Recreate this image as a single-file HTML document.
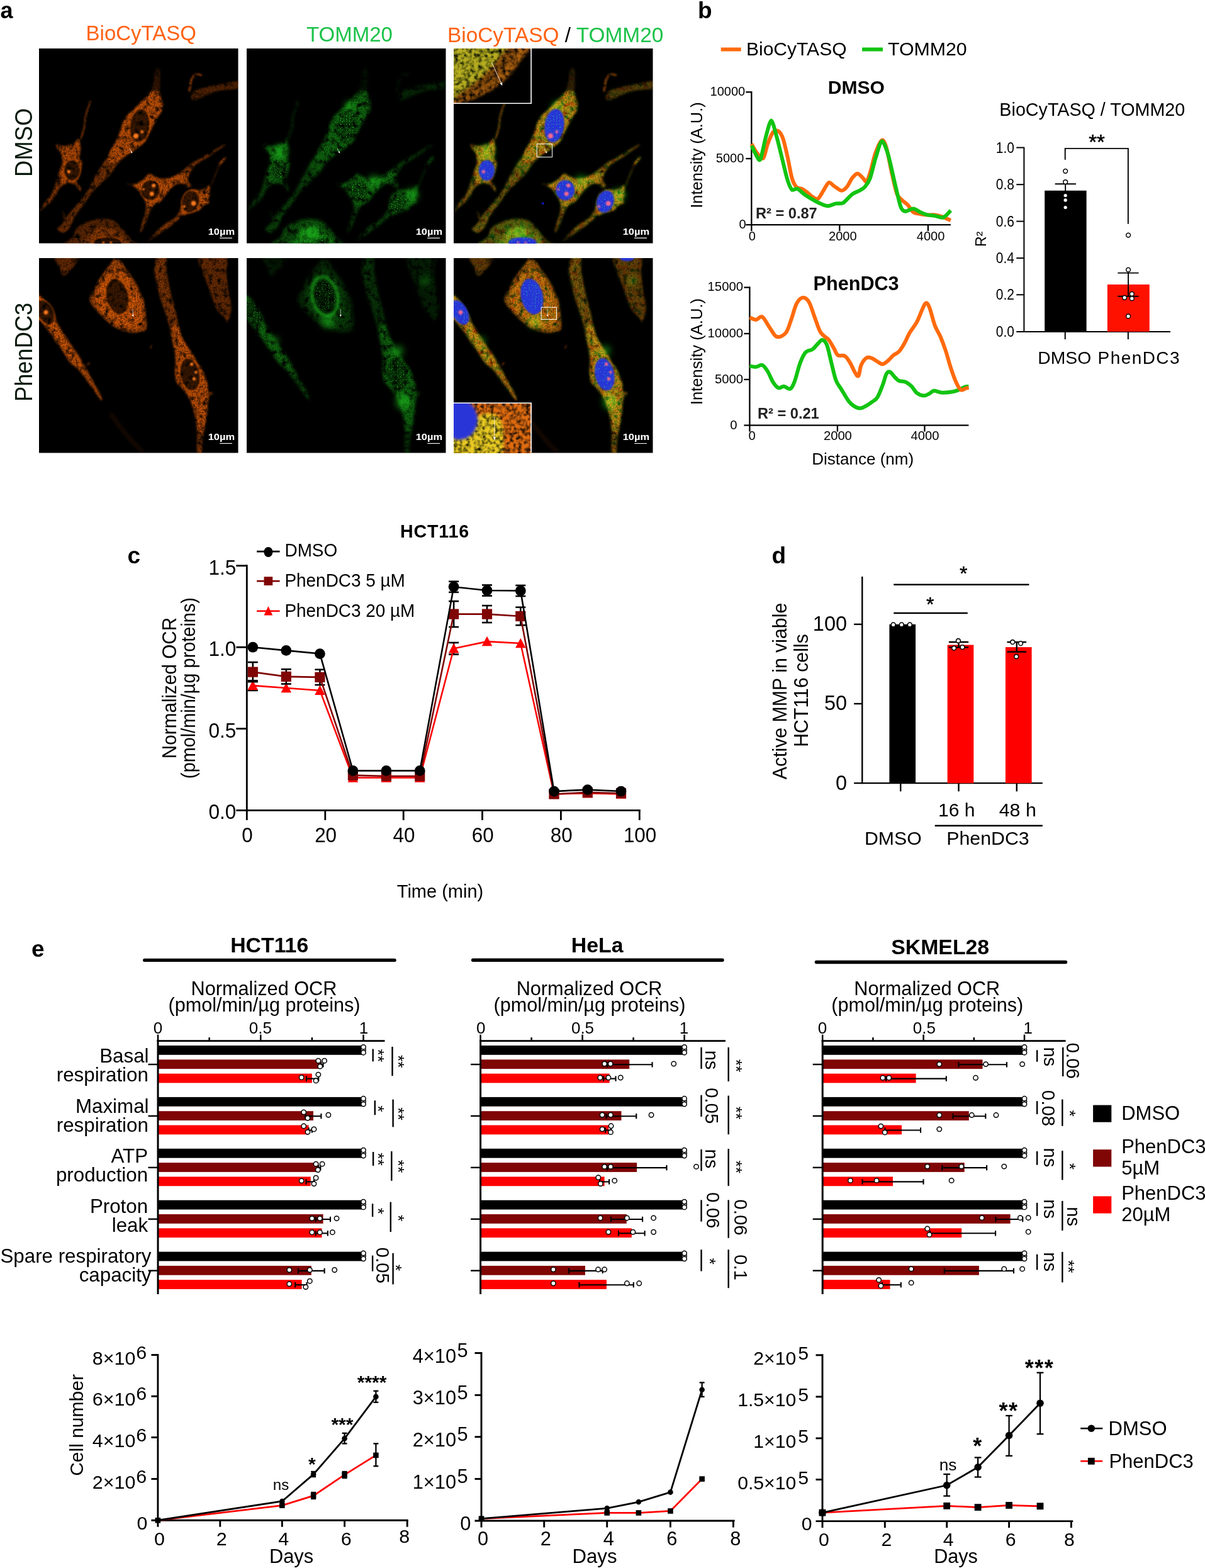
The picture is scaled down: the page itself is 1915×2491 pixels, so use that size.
<!DOCTYPE html>
<html lang="en"><head><meta charset="utf-8"><title>Figure</title>
<style>
html,body{margin:0;padding:0;background:#fff}
body{width:1915px;height:2491px;overflow:hidden}
svg{display:block}
svg text{font-family:"Liberation Sans", sans-serif;}
</style></head><body>
<svg width="1915" height="2491" viewBox="0 0 1915 2491">
<defs>
<filter id="texO" x="-2%" y="-2%" width="104%" height="104%" color-interpolation-filters="sRGB">
 <feGaussianBlur in="SourceGraphic" stdDeviation="9" result="b"/>
 <feTurbulence type="fractalNoise" baseFrequency="0.1" numOctaves="2" seed="4" result="n1"/>
 <feColorMatrix in="n1" type="matrix" values="0 0 0 0 1 0 0 0 0 1 0 0 0 0 1 0 0 0 1.7 0.02" result="m1"/>
 <feTurbulence type="fractalNoise" baseFrequency="0.026" numOctaves="2" seed="9" result="n2"/>
 <feColorMatrix in="n2" type="matrix" values="0 0 0 0 1 0 0 0 0 1 0 0 0 0 1 0 0 0 2.6 -0.35" result="m2"/>
 <feComposite in="b" in2="m1" operator="in" result="c1"/>
 <feComposite in="c1" in2="m2" operator="in"/>
</filter>
<filter id="texG" x="-2%" y="-2%" width="104%" height="104%" color-interpolation-filters="sRGB">
 <feGaussianBlur in="SourceGraphic" stdDeviation="11" result="b"/>
 <feTurbulence type="fractalNoise" baseFrequency="0.13" numOctaves="2" seed="11" result="n1"/>
 <feColorMatrix in="n1" type="matrix" values="0 0 0 0 1 0 0 0 0 1 0 0 0 0 1 0 0 0 2.0 -0.15" result="m1"/>
 <feTurbulence type="fractalNoise" baseFrequency="0.024" numOctaves="2" seed="23" result="n2"/>
 <feColorMatrix in="n2" type="matrix" values="0 0 0 0 1 0 0 0 0 1 0 0 0 0 1 0 0 0 2.8 -0.5" result="m2"/>
 <feComposite in="b" in2="m1" operator="in" result="c1"/>
 <feComposite in="c1" in2="m2" operator="in"/>
</filter>
<filter id="spk" x="0" y="0" width="100%" height="100%" color-interpolation-filters="sRGB">
 <feTurbulence type="fractalNoise" baseFrequency="0.16" numOctaves="1" seed="31" result="n1"/>
 <feColorMatrix in="n1" type="matrix" values="0 0 0 0 1 0 0 0 0 1 0 0 0 0 1 0 0 0 9 -5.7" result="m1"/>
 <feComposite in="SourceGraphic" in2="m1" operator="in"/>
</filter>
<filter id="texI" x="-2%" y="-2%" width="104%" height="104%" color-interpolation-filters="sRGB">
 <feGaussianBlur in="SourceGraphic" stdDeviation="12" result="b"/>
 <feTurbulence type="fractalNoise" baseFrequency="0.032" numOctaves="2" seed="17" result="n1"/>
 <feColorMatrix in="n1" type="matrix" values="0 0 0 0 1 0 0 0 0 1 0 0 0 0 1 0 0 0 2.2 -0.35" result="m1"/>
 <feComposite in="b" in2="m1" operator="in"/>
</filter>
<filter id="bl4" x="-20%" y="-20%" width="140%" height="140%"><feGaussianBlur stdDeviation="4"/></filter>
<filter id="bl10" x="-20%" y="-20%" width="140%" height="140%"><feGaussianBlur stdDeviation="10"/></filter>
<filter id="bl25" x="-30%" y="-30%" width="160%" height="160%"><feGaussianBlur stdDeviation="25"/></filter>
</defs>
<rect width="1915" height="2491" fill="#fff"/>
<g id="panel-a"><text x="0.5" y="29.3" font-size="36" font-weight="bold">a</text>
<text x="224.3" y="64.2" font-size="33" text-anchor="middle" fill="#ff6314">BioCyTASQ</text>
<text x="555.5" y="65.5" font-size="33" text-anchor="middle" fill="#1cc24a">TOMM20</text>
<text x="711" y="66.5" font-size="33.4" fill="#ff6314">BioCyTASQ<tspan fill="#000"> / </tspan><tspan fill="#1cc24a">TOMM20</tspan></text>
<text transform="translate(51 226.3) rotate(-90) scale(1 1.06)" font-size="36.4" text-anchor="middle" fill="#07190b">DMSO</text>
<text transform="translate(51 559.4) rotate(-90) scale(1 1.06)" font-size="36.3" text-anchor="middle" fill="#07190b">PhenDC3</text>
<svg x="62" y="77" width="316.5" height="309.5" viewBox="60 85 1563 1528" preserveAspectRatio="none">
<rect x="0" y="0" width="1700" height="1700" fill="#000"/>
<g filter="url(#texO)" fill="#ff6a08" stroke="#ff6a08" stroke-linejoin="round" stroke-linecap="round">
<path d="M975 250 C982.17 236.33 998.83 234.67 1005 248 C1011.17 261.33 1012.5 300.5 1012 330 C1011.5 359.5 1013.17 409.17 1002 425 C990.83 440.83 951.67 440.83 945 425 C938.33 409.17 957 359.17 962 330 C967 300.83 967.83 263.67 975 250 Z" fill-opacity="0.2" stroke="none"/>
<path d="M1000 424 C1013 432.33 1012.67 457.33 1018 474 C1023.33 490.67 1030.83 507.33 1032 524 C1033.17 540.67 1031.67 557.33 1025 574 C1018.33 590.67 1002 607.33 992 624 C982 640.67 973.67 657.33 965 674 C956.33 690.67 948.33 707.33 940 724 C931.67 740.67 923.5 757.83 915 774 C906.5 790.17 908.33 801.5 889 821 C869.67 840.5 830.67 866.83 799 891 C767.33 915.17 728.17 936.83 699 966 C669.83 995.17 649 1036.83 624 1066 C599 1095.17 574 1116 549 1141 C524 1166 494.83 1191 474 1216 C453.17 1241 444.83 1261.83 424 1291 C403.17 1320.17 369.83 1357.67 349 1391 C328.17 1424.33 315.5 1467.83 299 1491 C282.5 1514.17 265.83 1528.33 250 1530 C234.17 1531.67 205.83 1511.67 204 1501 C202.17 1490.33 224.83 1484.33 239 1466 C253.17 1447.67 266.5 1420.17 289 1391 C311.5 1361.83 347.33 1324.33 374 1291 C400.67 1257.67 428.17 1224.33 449 1191 C469.83 1157.67 475.67 1132.67 499 1091 C522.33 1049.33 559.83 991 589 941 C618.17 891 655.5 827.83 674 791 C692.5 754.17 691.5 743.5 700 720 C708.5 696.5 715 670 725 650 C735 630 749.17 612.67 760 600 C770.83 587.33 776.67 586.67 790 574 C803.33 561.33 823.33 540.67 840 524 C856.67 507.33 873.33 490.67 890 474 C906.67 457.33 921.67 432.33 940 424 C958.33 415.67 987 415.67 1000 424 Z" fill-opacity="0.45" stroke="none"/>
<path d="M1000 424 C1013 432.33 1012.67 457.33 1018 474 C1023.33 490.67 1030.83 507.33 1032 524 C1033.17 540.67 1031.67 557.33 1025 574 C1018.33 590.67 1002 607.33 992 624 C982 640.67 973.67 657.33 965 674 C956.33 690.67 948.33 707.33 940 724 C931.67 740.67 923.5 757.83 915 774 C906.5 790.17 908.33 801.5 889 821 C869.67 840.5 827.17 871.17 799 891 C770.83 910.83 746.5 923.5 720 940 C693.5 956.5 660 991.67 640 990 C620 988.33 594.33 963.17 600 930 C605.67 896.83 657.33 826 674 791 C690.67 756 691.5 743.5 700 720 C708.5 696.5 715 670 725 650 C735 630 749.17 612.67 760 600 C770.83 587.33 776.67 586.67 790 574 C803.33 561.33 823.33 540.67 840 524 C856.67 507.33 873.33 490.67 890 474 C906.67 457.33 921.67 432.33 940 424 C958.33 415.67 987 415.67 1000 424 Z" fill-opacity="0.5" stroke="none"/>
<path d="M194 836 C200 832.5 226.67 848.33 240 850 C253.33 851.67 260.67 848.5 274 846 C287.33 843.5 306.5 841.83 320 835 C333.5 828.17 346.33 812.5 355 805 C363.67 797.5 366.33 779.83 372 790 C377.67 800.17 387.83 840.83 389 866 C390.17 891.17 377.33 921.83 379 941 C380.67 960.17 397.33 964.33 399 981 C400.67 997.67 394 1021 389 1041 C384 1061 374 1086 369 1101 C364 1116 355.67 1117.67 359 1131 C362.33 1144.33 384.83 1168.5 389 1181 C393.17 1193.5 388.83 1207 384 1206 C379.17 1205 367.5 1184.17 360 1175 C352.5 1165.83 350.83 1156.67 339 1151 C327.17 1145.33 304 1140.17 289 1141 C274 1141.83 261.5 1147.67 249 1156 C236.5 1164.33 224 1176.83 214 1191 C204 1205.17 199.83 1224.33 189 1241 C178.17 1257.67 164 1276 149 1291 C134 1306 112.33 1318.5 99 1331 C85.67 1343.5 69 1371 69 1366 C69 1361 85.67 1321.83 99 1301 C112.33 1280.17 135.67 1261 149 1241 C162.33 1221 170.67 1201.83 179 1181 C187.33 1160.17 192.33 1137.67 199 1116 C205.67 1094.33 212.33 1071.83 219 1051 C225.67 1030.17 235.67 1009.33 239 991 C242.33 972.67 240.67 956 239 941 C237.33 926 234.83 912.67 229 901 C223.17 889.33 209.83 881.83 204 871 C198.17 860.17 188 839.5 194 836 Z" fill-opacity="0.5" stroke="none"/>
<path d="M210 850 C216.5 842.5 255.67 856.83 274 856 C292.33 855.17 304.83 852.67 320 845 C335.17 837.33 354.67 806.5 365 810 C375.33 813.5 380.83 844.17 382 866 C383.17 887.83 370.33 921.83 372 941 C373.67 960.17 390.33 964.33 392 981 C393.67 997.67 387 1021 382 1041 C377 1061 367 1086 362 1101 C357 1116 364.17 1125.33 352 1131 C339.83 1136.67 306.83 1132.5 289 1135 C271.17 1137.5 255.67 1160 245 1146 C234.33 1132 225 1076.83 225 1051 C225 1025.17 241.67 1009.33 245 991 C248.33 972.67 246.67 956 245 941 C243.33 926 240.83 916.17 235 901 C229.17 885.83 203.5 857.5 210 850 Z" fill-opacity="0.38" stroke="none"/>
<path d="M745 1140 C740.83 1135.83 772.5 1151.67 790 1150 C807.5 1148.33 833.33 1138.33 850 1130 C866.67 1121.67 877.5 1110.67 890 1100 C902.5 1089.33 912.5 1068.5 925 1066 C937.5 1063.5 950 1078.5 965 1085 C980 1091.5 997.5 1102.5 1015 1105 C1032.5 1107.5 1050.83 1104.17 1070 1100 C1089.17 1095.83 1110 1090 1130 1080 C1150 1070 1171.67 1053.33 1190 1040 C1208.33 1026.67 1223.33 1012.5 1240 1000 C1256.67 987.5 1273.33 975 1290 965 C1306.67 955 1323.33 949.17 1340 940 C1356.67 930.83 1373.33 920 1390 910 C1406.67 900 1423.33 890 1440 880 C1456.67 870 1475.83 857 1490 850 C1504.17 843 1525 835.5 1525 838 C1525 840.5 1504.17 854.67 1490 865 C1475.83 875.33 1456.67 888.33 1440 900 C1423.33 911.67 1406.67 924.17 1390 935 C1373.33 945.83 1356.67 954.17 1340 965 C1323.33 975.83 1302.5 989.17 1290 1000 C1277.5 1010.83 1273.33 1018.33 1265 1030 C1256.67 1041.67 1245.83 1056.67 1240 1070 C1234.17 1083.33 1230 1098.33 1230 1110 C1230 1121.67 1234.67 1129.67 1240 1140 C1245.33 1150.33 1265.33 1167 1262 1172 C1258.67 1177 1232 1174.5 1220 1170 C1208 1165.5 1203.33 1148.33 1190 1145 C1176.67 1141.67 1155 1144.17 1140 1150 C1125 1155.83 1111.67 1169.17 1100 1180 C1088.33 1190.83 1080 1202.5 1070 1215 C1060 1227.5 1050 1242.5 1040 1255 C1030 1267.5 1020 1281.67 1010 1290 C1000 1298.33 990 1298.33 980 1305 C970 1311.67 958.33 1320 950 1330 C941.67 1340 937.5 1348.33 930 1365 C922.5 1381.67 913.33 1409.17 905 1430 C896.67 1450.83 888.33 1473.33 880 1490 C871.67 1506.67 857.5 1534.17 855 1530 C852.5 1525.83 859.17 1488.33 865 1465 C870.83 1441.67 884.17 1415 890 1390 C895.83 1365 900 1333.33 900 1315 C900 1296.67 895.83 1292.5 890 1280 C884.17 1267.5 873.33 1253.33 865 1240 C856.67 1226.67 848.33 1210.83 840 1200 C831.67 1189.17 830.83 1185 815 1175 C799.17 1165 749.17 1144.17 745 1140 Z" fill-opacity="0.5" stroke="none"/>
<path d="M800 1155 C805 1147.83 835 1143.33 850 1135 C865 1126.67 877.5 1115.5 890 1105 C902.5 1094.5 912.5 1074.5 925 1072 C937.5 1069.5 950 1083.67 965 1090 C980 1096.33 997.5 1107.5 1015 1110 C1032.5 1112.5 1050.83 1109.17 1070 1105 C1089.17 1100.83 1110 1094.5 1130 1085 C1150 1075.5 1172.5 1050.5 1190 1048 C1207.5 1045.5 1229.17 1059.67 1235 1070 C1240.83 1080.33 1232.5 1098.33 1225 1110 C1217.5 1121.67 1204.17 1134.17 1190 1140 C1175.83 1145.83 1155 1139.17 1140 1145 C1125 1150.83 1111.67 1164.17 1100 1175 C1088.33 1185.83 1080 1197.5 1070 1210 C1060 1222.5 1050 1237.5 1040 1250 C1030 1262.5 1020 1276.67 1010 1285 C1000 1293.33 990 1293.33 980 1300 C970 1306.67 962.5 1323 950 1325 C937.5 1327 914.17 1319.5 905 1312 C895.83 1304.5 900.83 1292 895 1280 C889.17 1268 878.33 1253.33 870 1240 C861.67 1226.67 853.33 1210.33 845 1200 C836.67 1189.67 827.5 1185.5 820 1178 C812.5 1170.5 795 1162.17 800 1155 Z" fill-opacity="0.45" stroke="none"/>
<path d="M1410 1160 C1411.67 1165 1400.83 1178.33 1400 1190 C1399.17 1201.67 1406.67 1217.5 1405 1230 C1403.33 1242.5 1391.67 1253.33 1390 1265 C1388.33 1276.67 1399.17 1292.5 1395 1300 C1390.83 1307.5 1374.17 1305 1365 1310 C1355.83 1315 1347.5 1322.5 1340 1330 C1332.5 1337.5 1332.5 1348.33 1320 1355 C1307.5 1361.67 1280 1365.83 1265 1370 C1250 1374.17 1242.5 1375 1230 1380 C1217.5 1385 1205 1390 1190 1400 C1175 1410 1156.67 1426.67 1140 1440 C1123.33 1453.33 1106.67 1467.5 1090 1480 C1073.33 1492.5 1056.67 1503.33 1040 1515 C1023.33 1526.67 1006.67 1539.17 990 1550 C973.33 1560.83 952.5 1571.67 940 1580 C927.5 1588.33 910.83 1606.67 915 1600 C919.17 1593.33 948.33 1558.33 965 1540 C981.67 1521.67 998.33 1505 1015 1490 C1031.67 1475 1048.33 1461.67 1065 1450 C1081.67 1438.33 1100.83 1431.67 1115 1420 C1129.17 1408.33 1140.83 1393.33 1150 1380 C1159.17 1366.67 1165 1355 1170 1340 C1175 1325 1176.67 1305 1180 1290 C1183.33 1275 1184.17 1262.5 1190 1250 C1195.83 1237.5 1205 1225 1215 1215 C1225 1205 1237.5 1194.17 1250 1190 C1262.5 1185.83 1276.67 1189.17 1290 1190 C1303.33 1190.83 1317.5 1196.67 1330 1195 C1342.5 1193.33 1355 1185.83 1365 1180 C1375 1174.17 1382.5 1163.33 1390 1160 C1397.5 1156.67 1408.33 1155 1410 1160 Z" fill-opacity="0.5" stroke="none"/>
<path d="M1405 1165 C1406.17 1169 1395.83 1179.17 1395 1190 C1394.17 1200.83 1401.67 1217.5 1400 1230 C1398.33 1242.5 1387 1253.67 1385 1265 C1383 1276.33 1391.83 1291.17 1388 1298 C1384.17 1304.83 1370.33 1301.33 1362 1306 C1353.67 1310.67 1345.33 1318.67 1338 1326 C1330.67 1333.33 1330.17 1343.5 1318 1350 C1305.83 1356.5 1279.67 1360.83 1265 1365 C1250.33 1369.17 1242.17 1370.5 1230 1375 C1217.83 1379.5 1201.17 1397.83 1192 1392 C1182.83 1386.17 1176.17 1357 1175 1340 C1173.83 1323 1181.67 1305 1185 1290 C1188.33 1275 1189.5 1261.67 1195 1250 C1200.5 1238.33 1208.83 1229 1218 1220 C1227.17 1211 1238 1200 1250 1196 C1262 1192 1276.67 1195.33 1290 1196 C1303.33 1196.67 1317.5 1201.67 1330 1200 C1342.5 1198.33 1355.33 1191.67 1365 1186 C1374.67 1180.33 1381.33 1169.5 1388 1166 C1394.67 1162.5 1403.83 1161 1405 1165 Z" fill-opacity="0.45" stroke="none"/>
<path d="M1290 414 C1311.33 404.67 1356.67 392.33 1390 384 C1423.33 375.67 1448.33 371.33 1490 364 C1531.67 356.67 1615 334.67 1640 340 C1665 345.33 1665 383.67 1640 396 C1615 408.33 1531.67 406 1490 414 C1448.33 422 1423.33 431.5 1390 444 C1356.67 456.5 1312.5 483 1290 489 C1267.5 495 1259.67 488.17 1255 480 C1250.33 471.83 1256.17 451 1262 440 C1267.83 429 1268.67 423.33 1290 414 Z" fill-opacity="0.33" stroke="none"/>
<path d="M274 1640 C192.33 1626.67 315.83 1584.83 330 1560 C344.17 1535.17 339.17 1510.83 359 1491 C378.83 1471.17 417.33 1452.67 449 1441 C480.67 1429.33 517.33 1422.67 549 1421 C580.67 1419.33 614 1421 639 1431 C664 1441 680.67 1462.67 699 1481 C717.33 1499.33 734 1522.67 749 1541 C764 1559.33 777.17 1574.5 789 1591 C800.83 1607.5 905.83 1631.83 820 1640 C734.17 1648.17 355.67 1653.33 274 1640 Z" fill-opacity="0.36" stroke="none"/>
<path d="M420 1640 C368.33 1626.67 433.33 1583.33 450 1560 C466.67 1536.67 495 1511.67 520 1500 C545 1488.33 573.33 1485 600 1490 C626.67 1495 656.67 1513.33 680 1530 C703.33 1546.67 726.67 1571.67 740 1590 C753.33 1608.33 813.33 1631.67 760 1640 C706.67 1648.33 471.67 1653.33 420 1640 Z" fill-opacity="0.25" stroke="none"/>
<path d="M462 499 C459 508.17 450.67 532.33 444 554 C437.33 575.67 425.67 610.67 422 629 C418.33 647.33 424.17 648.17 422 664 C419.83 679.83 413.67 705.67 409 724 C404.33 742.33 399 761.5 394 774 C389 786.5 381.5 794.83 379 799" fill="none" stroke-opacity="0.75" stroke-width="9"/>
<path d="M1240 419 C1241.33 410.83 1245.5 384.17 1248 370 C1250.5 355.83 1248.83 347.33 1255 334 C1261.17 320.67 1272 296.67 1285 290 C1298 283.33 1325 293.33 1333 294" fill="none" stroke-opacity="0.85" stroke-width="11"/>
<path d="M1520 940 C1516.67 944.17 1506.67 956.67 1500 965 C1493.33 973.33 1483.33 985.83 1480 990" fill="none" stroke-opacity="0.9" stroke-width="13"/>
<path d="M1480 990 C1475 1001.67 1459.17 1038.33 1450 1060 C1440.83 1081.67 1431.67 1103.33 1425 1120 C1418.33 1136.67 1412.5 1153.33 1410 1160" fill="none" stroke-opacity="0.45" stroke-width="6"/>
<path d="M249 1366 L259 1416" fill="none" stroke-opacity="0.5" stroke-width="9"/>
</g>
<g fill="#000" opacity="0.68" filter="url(#bl4)">
<ellipse cx="850" cy="690" rx="76" ry="132" transform="rotate(8 850 690)"/>
<ellipse cx="319" cy="1041" rx="62" ry="80" transform="rotate(0 319 1041)"/>
<ellipse cx="935" cy="1196" rx="74" ry="80" transform="rotate(0 935 1196)"/>
<ellipse cx="1250" cy="1286" rx="66" ry="88" transform="rotate(18 1250 1286)"/>
<ellipse cx="600" cy="1608" rx="110" ry="44" transform="rotate(0 600 1608)"/>
</g>
<g fill="none" stroke="#ff6a08" stroke-width="9" opacity="0.45" filter="url(#bl4)">
<ellipse cx="850" cy="690" rx="80" ry="136" transform="rotate(8 850 690)"/>
<ellipse cx="319" cy="1041" rx="66" ry="84" transform="rotate(0 319 1041)"/>
<ellipse cx="935" cy="1196" rx="78" ry="84" transform="rotate(0 935 1196)"/>
<ellipse cx="1250" cy="1286" rx="70" ry="92" transform="rotate(18 1250 1286)"/>
<ellipse cx="600" cy="1608" rx="114" ry="48" transform="rotate(0 600 1608)"/>
</g>
<g fill="#ff7a1a" opacity="1" filter="url(#bl4)">
<circle cx="820" cy="771" r="20"/>
<circle cx="869" cy="739" r="12"/>
<circle cx="294" cy="1051" r="13"/>
<circle cx="960" cy="1160" r="15"/>
<circle cx="945" cy="1225" r="17"/>
<circle cx="880" cy="1190" r="9"/>
<circle cx="1273" cy="1300" r="19"/>
<circle cx="1200" cy="1325" r="10"/>
<circle cx="565" cy="1610" r="10"/>
<circle cx="625" cy="1610" r="10"/>
</g>
<line x1="770" y1="868" x2="784.29" y2="893.98" stroke="#fff" stroke-width="3"/>
<path d="M792 908 L778.16 897.35 L790.42 890.61 Z" fill="#fff"/>
<text x="1387" y="1548" font-size="70" font-weight="bold" fill="#fff" textLength="210" lengthAdjust="spacingAndGlyphs">10µm</text>
<line x1="1478" y1="1572" x2="1576" y2="1572" stroke="#fff" stroke-width="6"/>
</svg>
<svg x="392" y="77" width="316.5" height="309.5" viewBox="60 85 1563 1528" preserveAspectRatio="none">
<rect x="0" y="0" width="1700" height="1700" fill="#000"/>
<g filter="url(#texG)" fill="#22e022" stroke="#22e022" stroke-linejoin="round" stroke-linecap="round">
<path d="M975 250 C982.17 236.33 998.83 234.67 1005 248 C1011.17 261.33 1012.5 300.5 1012 330 C1011.5 359.5 1013.17 409.17 1002 425 C990.83 440.83 951.67 440.83 945 425 C938.33 409.17 957 359.17 962 330 C967 300.83 967.83 263.67 975 250 Z" fill-opacity="0.08" stroke="none"/>
<path d="M1000 424 C1013 432.33 1012.67 457.33 1018 474 C1023.33 490.67 1030.83 507.33 1032 524 C1033.17 540.67 1031.67 557.33 1025 574 C1018.33 590.67 1002 607.33 992 624 C982 640.67 973.67 657.33 965 674 C956.33 690.67 948.33 707.33 940 724 C931.67 740.67 923.5 757.83 915 774 C906.5 790.17 908.33 801.5 889 821 C869.67 840.5 830.67 866.83 799 891 C767.33 915.17 728.17 936.83 699 966 C669.83 995.17 649 1036.83 624 1066 C599 1095.17 574 1116 549 1141 C524 1166 494.83 1191 474 1216 C453.17 1241 444.83 1261.83 424 1291 C403.17 1320.17 369.83 1357.67 349 1391 C328.17 1424.33 315.5 1467.83 299 1491 C282.5 1514.17 265.83 1528.33 250 1530 C234.17 1531.67 205.83 1511.67 204 1501 C202.17 1490.33 224.83 1484.33 239 1466 C253.17 1447.67 266.5 1420.17 289 1391 C311.5 1361.83 347.33 1324.33 374 1291 C400.67 1257.67 428.17 1224.33 449 1191 C469.83 1157.67 475.67 1132.67 499 1091 C522.33 1049.33 559.83 991 589 941 C618.17 891 655.5 827.83 674 791 C692.5 754.17 691.5 743.5 700 720 C708.5 696.5 715 670 725 650 C735 630 749.17 612.67 760 600 C770.83 587.33 776.67 586.67 790 574 C803.33 561.33 823.33 540.67 840 524 C856.67 507.33 873.33 490.67 890 474 C906.67 457.33 921.67 432.33 940 424 C958.33 415.67 987 415.67 1000 424 Z" fill-opacity="0.3" stroke="none"/>
<path d="M1000 424 C1013 432.33 1012.67 457.33 1018 474 C1023.33 490.67 1030.83 507.33 1032 524 C1033.17 540.67 1031.67 557.33 1025 574 C1018.33 590.67 1002 607.33 992 624 C982 640.67 973.67 657.33 965 674 C956.33 690.67 948.33 707.33 940 724 C931.67 740.67 923.5 757.83 915 774 C906.5 790.17 908.33 801.5 889 821 C869.67 840.5 827.17 871.17 799 891 C770.83 910.83 746.5 923.5 720 940 C693.5 956.5 660 991.67 640 990 C620 988.33 594.33 963.17 600 930 C605.67 896.83 657.33 826 674 791 C690.67 756 691.5 743.5 700 720 C708.5 696.5 715 670 725 650 C735 630 749.17 612.67 760 600 C770.83 587.33 776.67 586.67 790 574 C803.33 561.33 823.33 540.67 840 524 C856.67 507.33 873.33 490.67 890 474 C906.67 457.33 921.67 432.33 940 424 C958.33 415.67 987 415.67 1000 424 Z" fill-opacity="0.25" stroke="none"/>
<path d="M194 836 C200 832.5 226.67 848.33 240 850 C253.33 851.67 260.67 848.5 274 846 C287.33 843.5 306.5 841.83 320 835 C333.5 828.17 346.33 812.5 355 805 C363.67 797.5 366.33 779.83 372 790 C377.67 800.17 387.83 840.83 389 866 C390.17 891.17 377.33 921.83 379 941 C380.67 960.17 397.33 964.33 399 981 C400.67 997.67 394 1021 389 1041 C384 1061 374 1086 369 1101 C364 1116 355.67 1117.67 359 1131 C362.33 1144.33 384.83 1168.5 389 1181 C393.17 1193.5 388.83 1207 384 1206 C379.17 1205 367.5 1184.17 360 1175 C352.5 1165.83 350.83 1156.67 339 1151 C327.17 1145.33 304 1140.17 289 1141 C274 1141.83 261.5 1147.67 249 1156 C236.5 1164.33 224 1176.83 214 1191 C204 1205.17 199.83 1224.33 189 1241 C178.17 1257.67 164 1276 149 1291 C134 1306 112.33 1318.5 99 1331 C85.67 1343.5 69 1371 69 1366 C69 1361 85.67 1321.83 99 1301 C112.33 1280.17 135.67 1261 149 1241 C162.33 1221 170.67 1201.83 179 1181 C187.33 1160.17 192.33 1137.67 199 1116 C205.67 1094.33 212.33 1071.83 219 1051 C225.67 1030.17 235.67 1009.33 239 991 C242.33 972.67 240.67 956 239 941 C237.33 926 234.83 912.67 229 901 C223.17 889.33 209.83 881.83 204 871 C198.17 860.17 188 839.5 194 836 Z" fill-opacity="0.3" stroke="none"/>
<path d="M210 850 C216.5 842.5 255.67 856.83 274 856 C292.33 855.17 304.83 852.67 320 845 C335.17 837.33 354.67 806.5 365 810 C375.33 813.5 380.83 844.17 382 866 C383.17 887.83 370.33 921.83 372 941 C373.67 960.17 390.33 964.33 392 981 C393.67 997.67 387 1021 382 1041 C377 1061 367 1086 362 1101 C357 1116 364.17 1125.33 352 1131 C339.83 1136.67 306.83 1132.5 289 1135 C271.17 1137.5 255.67 1160 245 1146 C234.33 1132 225 1076.83 225 1051 C225 1025.17 241.67 1009.33 245 991 C248.33 972.67 246.67 956 245 941 C243.33 926 240.83 916.17 235 901 C229.17 885.83 203.5 857.5 210 850 Z" fill-opacity="0.25" stroke="none"/>
<path d="M745 1140 C740.83 1135.83 772.5 1151.67 790 1150 C807.5 1148.33 833.33 1138.33 850 1130 C866.67 1121.67 877.5 1110.67 890 1100 C902.5 1089.33 912.5 1068.5 925 1066 C937.5 1063.5 950 1078.5 965 1085 C980 1091.5 997.5 1102.5 1015 1105 C1032.5 1107.5 1050.83 1104.17 1070 1100 C1089.17 1095.83 1110 1090 1130 1080 C1150 1070 1171.67 1053.33 1190 1040 C1208.33 1026.67 1223.33 1012.5 1240 1000 C1256.67 987.5 1273.33 975 1290 965 C1306.67 955 1323.33 949.17 1340 940 C1356.67 930.83 1373.33 920 1390 910 C1406.67 900 1423.33 890 1440 880 C1456.67 870 1475.83 857 1490 850 C1504.17 843 1525 835.5 1525 838 C1525 840.5 1504.17 854.67 1490 865 C1475.83 875.33 1456.67 888.33 1440 900 C1423.33 911.67 1406.67 924.17 1390 935 C1373.33 945.83 1356.67 954.17 1340 965 C1323.33 975.83 1302.5 989.17 1290 1000 C1277.5 1010.83 1273.33 1018.33 1265 1030 C1256.67 1041.67 1245.83 1056.67 1240 1070 C1234.17 1083.33 1230 1098.33 1230 1110 C1230 1121.67 1234.67 1129.67 1240 1140 C1245.33 1150.33 1265.33 1167 1262 1172 C1258.67 1177 1232 1174.5 1220 1170 C1208 1165.5 1203.33 1148.33 1190 1145 C1176.67 1141.67 1155 1144.17 1140 1150 C1125 1155.83 1111.67 1169.17 1100 1180 C1088.33 1190.83 1080 1202.5 1070 1215 C1060 1227.5 1050 1242.5 1040 1255 C1030 1267.5 1020 1281.67 1010 1290 C1000 1298.33 990 1298.33 980 1305 C970 1311.67 958.33 1320 950 1330 C941.67 1340 937.5 1348.33 930 1365 C922.5 1381.67 913.33 1409.17 905 1430 C896.67 1450.83 888.33 1473.33 880 1490 C871.67 1506.67 857.5 1534.17 855 1530 C852.5 1525.83 859.17 1488.33 865 1465 C870.83 1441.67 884.17 1415 890 1390 C895.83 1365 900 1333.33 900 1315 C900 1296.67 895.83 1292.5 890 1280 C884.17 1267.5 873.33 1253.33 865 1240 C856.67 1226.67 848.33 1210.83 840 1200 C831.67 1189.17 830.83 1185 815 1175 C799.17 1165 749.17 1144.17 745 1140 Z" fill-opacity="0.3" stroke="none"/>
<path d="M800 1155 C805 1147.83 835 1143.33 850 1135 C865 1126.67 877.5 1115.5 890 1105 C902.5 1094.5 912.5 1074.5 925 1072 C937.5 1069.5 950 1083.67 965 1090 C980 1096.33 997.5 1107.5 1015 1110 C1032.5 1112.5 1050.83 1109.17 1070 1105 C1089.17 1100.83 1110 1094.5 1130 1085 C1150 1075.5 1172.5 1050.5 1190 1048 C1207.5 1045.5 1229.17 1059.67 1235 1070 C1240.83 1080.33 1232.5 1098.33 1225 1110 C1217.5 1121.67 1204.17 1134.17 1190 1140 C1175.83 1145.83 1155 1139.17 1140 1145 C1125 1150.83 1111.67 1164.17 1100 1175 C1088.33 1185.83 1080 1197.5 1070 1210 C1060 1222.5 1050 1237.5 1040 1250 C1030 1262.5 1020 1276.67 1010 1285 C1000 1293.33 990 1293.33 980 1300 C970 1306.67 962.5 1323 950 1325 C937.5 1327 914.17 1319.5 905 1312 C895.83 1304.5 900.83 1292 895 1280 C889.17 1268 878.33 1253.33 870 1240 C861.67 1226.67 853.33 1210.33 845 1200 C836.67 1189.67 827.5 1185.5 820 1178 C812.5 1170.5 795 1162.17 800 1155 Z" fill-opacity="0.25" stroke="none"/>
<path d="M1410 1160 C1411.67 1165 1400.83 1178.33 1400 1190 C1399.17 1201.67 1406.67 1217.5 1405 1230 C1403.33 1242.5 1391.67 1253.33 1390 1265 C1388.33 1276.67 1399.17 1292.5 1395 1300 C1390.83 1307.5 1374.17 1305 1365 1310 C1355.83 1315 1347.5 1322.5 1340 1330 C1332.5 1337.5 1332.5 1348.33 1320 1355 C1307.5 1361.67 1280 1365.83 1265 1370 C1250 1374.17 1242.5 1375 1230 1380 C1217.5 1385 1205 1390 1190 1400 C1175 1410 1156.67 1426.67 1140 1440 C1123.33 1453.33 1106.67 1467.5 1090 1480 C1073.33 1492.5 1056.67 1503.33 1040 1515 C1023.33 1526.67 1006.67 1539.17 990 1550 C973.33 1560.83 952.5 1571.67 940 1580 C927.5 1588.33 910.83 1606.67 915 1600 C919.17 1593.33 948.33 1558.33 965 1540 C981.67 1521.67 998.33 1505 1015 1490 C1031.67 1475 1048.33 1461.67 1065 1450 C1081.67 1438.33 1100.83 1431.67 1115 1420 C1129.17 1408.33 1140.83 1393.33 1150 1380 C1159.17 1366.67 1165 1355 1170 1340 C1175 1325 1176.67 1305 1180 1290 C1183.33 1275 1184.17 1262.5 1190 1250 C1195.83 1237.5 1205 1225 1215 1215 C1225 1205 1237.5 1194.17 1250 1190 C1262.5 1185.83 1276.67 1189.17 1290 1190 C1303.33 1190.83 1317.5 1196.67 1330 1195 C1342.5 1193.33 1355 1185.83 1365 1180 C1375 1174.17 1382.5 1163.33 1390 1160 C1397.5 1156.67 1408.33 1155 1410 1160 Z" fill-opacity="0.3" stroke="none"/>
<path d="M1405 1165 C1406.17 1169 1395.83 1179.17 1395 1190 C1394.17 1200.83 1401.67 1217.5 1400 1230 C1398.33 1242.5 1387 1253.67 1385 1265 C1383 1276.33 1391.83 1291.17 1388 1298 C1384.17 1304.83 1370.33 1301.33 1362 1306 C1353.67 1310.67 1345.33 1318.67 1338 1326 C1330.67 1333.33 1330.17 1343.5 1318 1350 C1305.83 1356.5 1279.67 1360.83 1265 1365 C1250.33 1369.17 1242.17 1370.5 1230 1375 C1217.83 1379.5 1201.17 1397.83 1192 1392 C1182.83 1386.17 1176.17 1357 1175 1340 C1173.83 1323 1181.67 1305 1185 1290 C1188.33 1275 1189.5 1261.67 1195 1250 C1200.5 1238.33 1208.83 1229 1218 1220 C1227.17 1211 1238 1200 1250 1196 C1262 1192 1276.67 1195.33 1290 1196 C1303.33 1196.67 1317.5 1201.67 1330 1200 C1342.5 1198.33 1355.33 1191.67 1365 1186 C1374.67 1180.33 1381.33 1169.5 1388 1166 C1394.67 1162.5 1403.83 1161 1405 1165 Z" fill-opacity="0.25" stroke="none"/>
<path d="M1290 414 C1311.33 404.67 1356.67 392.33 1390 384 C1423.33 375.67 1448.33 371.33 1490 364 C1531.67 356.67 1615 334.67 1640 340 C1665 345.33 1665 383.67 1640 396 C1615 408.33 1531.67 406 1490 414 C1448.33 422 1423.33 431.5 1390 444 C1356.67 456.5 1312.5 483 1290 489 C1267.5 495 1259.67 488.17 1255 480 C1250.33 471.83 1256.17 451 1262 440 C1267.83 429 1268.67 423.33 1290 414 Z" fill-opacity="0.18" stroke="none"/>
<path d="M274 1640 C192.33 1626.67 315.83 1584.83 330 1560 C344.17 1535.17 339.17 1510.83 359 1491 C378.83 1471.17 417.33 1452.67 449 1441 C480.67 1429.33 517.33 1422.67 549 1421 C580.67 1419.33 614 1421 639 1431 C664 1441 680.67 1462.67 699 1481 C717.33 1499.33 734 1522.67 749 1541 C764 1559.33 777.17 1574.5 789 1591 C800.83 1607.5 905.83 1631.83 820 1640 C734.17 1648.17 355.67 1653.33 274 1640 Z" fill-opacity="0.35" stroke="none"/>
<path d="M420 1640 C368.33 1626.67 433.33 1583.33 450 1560 C466.67 1536.67 495 1511.67 520 1500 C545 1488.33 573.33 1485 600 1490 C626.67 1495 656.67 1513.33 680 1530 C703.33 1546.67 726.67 1571.67 740 1590 C753.33 1608.33 813.33 1631.67 760 1640 C706.67 1648.33 471.67 1653.33 420 1640 Z" fill-opacity="0.3" stroke="none"/>
<path d="M462 499 C459 508.17 450.67 532.33 444 554 C437.33 575.67 425.67 610.67 422 629 C418.33 647.33 424.17 648.17 422 664 C419.83 679.83 413.67 705.67 409 724 C404.33 742.33 399 761.5 394 774 C389 786.5 381.5 794.83 379 799" fill="none" stroke-opacity="0.35" stroke-width="9"/>
<path d="M1240 419 C1241.33 410.83 1245.5 384.17 1248 370 C1250.5 355.83 1248.83 347.33 1255 334 C1261.17 320.67 1272 296.67 1285 290 C1298 283.33 1325 293.33 1333 294" fill="none" stroke-opacity="0.15" stroke-width="11"/>
<path d="M1520 940 C1516.67 944.17 1506.67 956.67 1500 965 C1493.33 973.33 1483.33 985.83 1480 990" fill="none" stroke-opacity="0.6" stroke-width="13"/>
<path d="M1480 990 C1475 1001.67 1459.17 1038.33 1450 1060 C1440.83 1081.67 1431.67 1103.33 1425 1120 C1418.33 1136.67 1412.5 1153.33 1410 1160" fill="none" stroke-opacity="0.4" stroke-width="6"/>
<path d="M249 1366 L259 1416" fill="none" stroke-opacity="0.2" stroke-width="9"/>
</g>
<g fill="#22e022" opacity="0.5" filter="url(#bl25)">
<circle cx="320" cy="900" r="55"/>
<circle cx="1060" cy="1130" r="50"/>
<circle cx="1355" cy="1235" r="50"/>
<circle cx="560" cy="1550" r="80"/>
<circle cx="870" cy="540" r="40"/>
<circle cx="600" cy="1010" r="30"/>
</g>
<g fill="#000" opacity="0.3" filter="url(#bl4)">
<ellipse cx="850" cy="690" rx="76" ry="132" transform="rotate(8 850 690)"/>
<ellipse cx="319" cy="1041" rx="62" ry="80" transform="rotate(0 319 1041)"/>
<ellipse cx="935" cy="1196" rx="74" ry="80" transform="rotate(0 935 1196)"/>
<ellipse cx="1250" cy="1286" rx="66" ry="88" transform="rotate(18 1250 1286)"/>
<ellipse cx="600" cy="1608" rx="110" ry="44" transform="rotate(0 600 1608)"/>
</g>
<g fill="#40ff40" filter="url(#spk)" opacity="0.8">
<ellipse cx="850" cy="690" rx="70" ry="126" transform="rotate(8 850 690)"/>
<ellipse cx="319" cy="1041" rx="56" ry="74" transform="rotate(0 319 1041)"/>
<ellipse cx="935" cy="1196" rx="68" ry="74" transform="rotate(0 935 1196)"/>
<ellipse cx="1250" cy="1286" rx="60" ry="82" transform="rotate(18 1250 1286)"/>
<ellipse cx="600" cy="1608" rx="104" ry="38" transform="rotate(0 600 1608)"/>
</g>
<line x1="770" y1="868" x2="784.29" y2="893.98" stroke="#fff" stroke-width="3"/>
<path d="M792 908 L778.16 897.35 L790.42 890.61 Z" fill="#fff"/>
<text x="1387" y="1548" font-size="70" font-weight="bold" fill="#fff" textLength="210" lengthAdjust="spacingAndGlyphs">10µm</text>
<line x1="1478" y1="1572" x2="1576" y2="1572" stroke="#fff" stroke-width="6"/>
</svg>
<svg x="721" y="77" width="316.5" height="309.5" viewBox="60 85 1563 1528" preserveAspectRatio="none">
<rect x="0" y="0" width="1700" height="1700" fill="#000"/>
<g filter="url(#texO)" fill="#ff6a08" stroke="#ff6a08" stroke-linejoin="round" stroke-linecap="round">
<path d="M975 250 C982.17 236.33 998.83 234.67 1005 248 C1011.17 261.33 1012.5 300.5 1012 330 C1011.5 359.5 1013.17 409.17 1002 425 C990.83 440.83 951.67 440.83 945 425 C938.33 409.17 957 359.17 962 330 C967 300.83 967.83 263.67 975 250 Z" fill-opacity="0.2" stroke="none"/>
<path d="M1000 424 C1013 432.33 1012.67 457.33 1018 474 C1023.33 490.67 1030.83 507.33 1032 524 C1033.17 540.67 1031.67 557.33 1025 574 C1018.33 590.67 1002 607.33 992 624 C982 640.67 973.67 657.33 965 674 C956.33 690.67 948.33 707.33 940 724 C931.67 740.67 923.5 757.83 915 774 C906.5 790.17 908.33 801.5 889 821 C869.67 840.5 830.67 866.83 799 891 C767.33 915.17 728.17 936.83 699 966 C669.83 995.17 649 1036.83 624 1066 C599 1095.17 574 1116 549 1141 C524 1166 494.83 1191 474 1216 C453.17 1241 444.83 1261.83 424 1291 C403.17 1320.17 369.83 1357.67 349 1391 C328.17 1424.33 315.5 1467.83 299 1491 C282.5 1514.17 265.83 1528.33 250 1530 C234.17 1531.67 205.83 1511.67 204 1501 C202.17 1490.33 224.83 1484.33 239 1466 C253.17 1447.67 266.5 1420.17 289 1391 C311.5 1361.83 347.33 1324.33 374 1291 C400.67 1257.67 428.17 1224.33 449 1191 C469.83 1157.67 475.67 1132.67 499 1091 C522.33 1049.33 559.83 991 589 941 C618.17 891 655.5 827.83 674 791 C692.5 754.17 691.5 743.5 700 720 C708.5 696.5 715 670 725 650 C735 630 749.17 612.67 760 600 C770.83 587.33 776.67 586.67 790 574 C803.33 561.33 823.33 540.67 840 524 C856.67 507.33 873.33 490.67 890 474 C906.67 457.33 921.67 432.33 940 424 C958.33 415.67 987 415.67 1000 424 Z" fill-opacity="0.45" stroke="none"/>
<path d="M1000 424 C1013 432.33 1012.67 457.33 1018 474 C1023.33 490.67 1030.83 507.33 1032 524 C1033.17 540.67 1031.67 557.33 1025 574 C1018.33 590.67 1002 607.33 992 624 C982 640.67 973.67 657.33 965 674 C956.33 690.67 948.33 707.33 940 724 C931.67 740.67 923.5 757.83 915 774 C906.5 790.17 908.33 801.5 889 821 C869.67 840.5 827.17 871.17 799 891 C770.83 910.83 746.5 923.5 720 940 C693.5 956.5 660 991.67 640 990 C620 988.33 594.33 963.17 600 930 C605.67 896.83 657.33 826 674 791 C690.67 756 691.5 743.5 700 720 C708.5 696.5 715 670 725 650 C735 630 749.17 612.67 760 600 C770.83 587.33 776.67 586.67 790 574 C803.33 561.33 823.33 540.67 840 524 C856.67 507.33 873.33 490.67 890 474 C906.67 457.33 921.67 432.33 940 424 C958.33 415.67 987 415.67 1000 424 Z" fill-opacity="0.5" stroke="none"/>
<path d="M194 836 C200 832.5 226.67 848.33 240 850 C253.33 851.67 260.67 848.5 274 846 C287.33 843.5 306.5 841.83 320 835 C333.5 828.17 346.33 812.5 355 805 C363.67 797.5 366.33 779.83 372 790 C377.67 800.17 387.83 840.83 389 866 C390.17 891.17 377.33 921.83 379 941 C380.67 960.17 397.33 964.33 399 981 C400.67 997.67 394 1021 389 1041 C384 1061 374 1086 369 1101 C364 1116 355.67 1117.67 359 1131 C362.33 1144.33 384.83 1168.5 389 1181 C393.17 1193.5 388.83 1207 384 1206 C379.17 1205 367.5 1184.17 360 1175 C352.5 1165.83 350.83 1156.67 339 1151 C327.17 1145.33 304 1140.17 289 1141 C274 1141.83 261.5 1147.67 249 1156 C236.5 1164.33 224 1176.83 214 1191 C204 1205.17 199.83 1224.33 189 1241 C178.17 1257.67 164 1276 149 1291 C134 1306 112.33 1318.5 99 1331 C85.67 1343.5 69 1371 69 1366 C69 1361 85.67 1321.83 99 1301 C112.33 1280.17 135.67 1261 149 1241 C162.33 1221 170.67 1201.83 179 1181 C187.33 1160.17 192.33 1137.67 199 1116 C205.67 1094.33 212.33 1071.83 219 1051 C225.67 1030.17 235.67 1009.33 239 991 C242.33 972.67 240.67 956 239 941 C237.33 926 234.83 912.67 229 901 C223.17 889.33 209.83 881.83 204 871 C198.17 860.17 188 839.5 194 836 Z" fill-opacity="0.5" stroke="none"/>
<path d="M210 850 C216.5 842.5 255.67 856.83 274 856 C292.33 855.17 304.83 852.67 320 845 C335.17 837.33 354.67 806.5 365 810 C375.33 813.5 380.83 844.17 382 866 C383.17 887.83 370.33 921.83 372 941 C373.67 960.17 390.33 964.33 392 981 C393.67 997.67 387 1021 382 1041 C377 1061 367 1086 362 1101 C357 1116 364.17 1125.33 352 1131 C339.83 1136.67 306.83 1132.5 289 1135 C271.17 1137.5 255.67 1160 245 1146 C234.33 1132 225 1076.83 225 1051 C225 1025.17 241.67 1009.33 245 991 C248.33 972.67 246.67 956 245 941 C243.33 926 240.83 916.17 235 901 C229.17 885.83 203.5 857.5 210 850 Z" fill-opacity="0.38" stroke="none"/>
<path d="M745 1140 C740.83 1135.83 772.5 1151.67 790 1150 C807.5 1148.33 833.33 1138.33 850 1130 C866.67 1121.67 877.5 1110.67 890 1100 C902.5 1089.33 912.5 1068.5 925 1066 C937.5 1063.5 950 1078.5 965 1085 C980 1091.5 997.5 1102.5 1015 1105 C1032.5 1107.5 1050.83 1104.17 1070 1100 C1089.17 1095.83 1110 1090 1130 1080 C1150 1070 1171.67 1053.33 1190 1040 C1208.33 1026.67 1223.33 1012.5 1240 1000 C1256.67 987.5 1273.33 975 1290 965 C1306.67 955 1323.33 949.17 1340 940 C1356.67 930.83 1373.33 920 1390 910 C1406.67 900 1423.33 890 1440 880 C1456.67 870 1475.83 857 1490 850 C1504.17 843 1525 835.5 1525 838 C1525 840.5 1504.17 854.67 1490 865 C1475.83 875.33 1456.67 888.33 1440 900 C1423.33 911.67 1406.67 924.17 1390 935 C1373.33 945.83 1356.67 954.17 1340 965 C1323.33 975.83 1302.5 989.17 1290 1000 C1277.5 1010.83 1273.33 1018.33 1265 1030 C1256.67 1041.67 1245.83 1056.67 1240 1070 C1234.17 1083.33 1230 1098.33 1230 1110 C1230 1121.67 1234.67 1129.67 1240 1140 C1245.33 1150.33 1265.33 1167 1262 1172 C1258.67 1177 1232 1174.5 1220 1170 C1208 1165.5 1203.33 1148.33 1190 1145 C1176.67 1141.67 1155 1144.17 1140 1150 C1125 1155.83 1111.67 1169.17 1100 1180 C1088.33 1190.83 1080 1202.5 1070 1215 C1060 1227.5 1050 1242.5 1040 1255 C1030 1267.5 1020 1281.67 1010 1290 C1000 1298.33 990 1298.33 980 1305 C970 1311.67 958.33 1320 950 1330 C941.67 1340 937.5 1348.33 930 1365 C922.5 1381.67 913.33 1409.17 905 1430 C896.67 1450.83 888.33 1473.33 880 1490 C871.67 1506.67 857.5 1534.17 855 1530 C852.5 1525.83 859.17 1488.33 865 1465 C870.83 1441.67 884.17 1415 890 1390 C895.83 1365 900 1333.33 900 1315 C900 1296.67 895.83 1292.5 890 1280 C884.17 1267.5 873.33 1253.33 865 1240 C856.67 1226.67 848.33 1210.83 840 1200 C831.67 1189.17 830.83 1185 815 1175 C799.17 1165 749.17 1144.17 745 1140 Z" fill-opacity="0.5" stroke="none"/>
<path d="M800 1155 C805 1147.83 835 1143.33 850 1135 C865 1126.67 877.5 1115.5 890 1105 C902.5 1094.5 912.5 1074.5 925 1072 C937.5 1069.5 950 1083.67 965 1090 C980 1096.33 997.5 1107.5 1015 1110 C1032.5 1112.5 1050.83 1109.17 1070 1105 C1089.17 1100.83 1110 1094.5 1130 1085 C1150 1075.5 1172.5 1050.5 1190 1048 C1207.5 1045.5 1229.17 1059.67 1235 1070 C1240.83 1080.33 1232.5 1098.33 1225 1110 C1217.5 1121.67 1204.17 1134.17 1190 1140 C1175.83 1145.83 1155 1139.17 1140 1145 C1125 1150.83 1111.67 1164.17 1100 1175 C1088.33 1185.83 1080 1197.5 1070 1210 C1060 1222.5 1050 1237.5 1040 1250 C1030 1262.5 1020 1276.67 1010 1285 C1000 1293.33 990 1293.33 980 1300 C970 1306.67 962.5 1323 950 1325 C937.5 1327 914.17 1319.5 905 1312 C895.83 1304.5 900.83 1292 895 1280 C889.17 1268 878.33 1253.33 870 1240 C861.67 1226.67 853.33 1210.33 845 1200 C836.67 1189.67 827.5 1185.5 820 1178 C812.5 1170.5 795 1162.17 800 1155 Z" fill-opacity="0.45" stroke="none"/>
<path d="M1410 1160 C1411.67 1165 1400.83 1178.33 1400 1190 C1399.17 1201.67 1406.67 1217.5 1405 1230 C1403.33 1242.5 1391.67 1253.33 1390 1265 C1388.33 1276.67 1399.17 1292.5 1395 1300 C1390.83 1307.5 1374.17 1305 1365 1310 C1355.83 1315 1347.5 1322.5 1340 1330 C1332.5 1337.5 1332.5 1348.33 1320 1355 C1307.5 1361.67 1280 1365.83 1265 1370 C1250 1374.17 1242.5 1375 1230 1380 C1217.5 1385 1205 1390 1190 1400 C1175 1410 1156.67 1426.67 1140 1440 C1123.33 1453.33 1106.67 1467.5 1090 1480 C1073.33 1492.5 1056.67 1503.33 1040 1515 C1023.33 1526.67 1006.67 1539.17 990 1550 C973.33 1560.83 952.5 1571.67 940 1580 C927.5 1588.33 910.83 1606.67 915 1600 C919.17 1593.33 948.33 1558.33 965 1540 C981.67 1521.67 998.33 1505 1015 1490 C1031.67 1475 1048.33 1461.67 1065 1450 C1081.67 1438.33 1100.83 1431.67 1115 1420 C1129.17 1408.33 1140.83 1393.33 1150 1380 C1159.17 1366.67 1165 1355 1170 1340 C1175 1325 1176.67 1305 1180 1290 C1183.33 1275 1184.17 1262.5 1190 1250 C1195.83 1237.5 1205 1225 1215 1215 C1225 1205 1237.5 1194.17 1250 1190 C1262.5 1185.83 1276.67 1189.17 1290 1190 C1303.33 1190.83 1317.5 1196.67 1330 1195 C1342.5 1193.33 1355 1185.83 1365 1180 C1375 1174.17 1382.5 1163.33 1390 1160 C1397.5 1156.67 1408.33 1155 1410 1160 Z" fill-opacity="0.5" stroke="none"/>
<path d="M1405 1165 C1406.17 1169 1395.83 1179.17 1395 1190 C1394.17 1200.83 1401.67 1217.5 1400 1230 C1398.33 1242.5 1387 1253.67 1385 1265 C1383 1276.33 1391.83 1291.17 1388 1298 C1384.17 1304.83 1370.33 1301.33 1362 1306 C1353.67 1310.67 1345.33 1318.67 1338 1326 C1330.67 1333.33 1330.17 1343.5 1318 1350 C1305.83 1356.5 1279.67 1360.83 1265 1365 C1250.33 1369.17 1242.17 1370.5 1230 1375 C1217.83 1379.5 1201.17 1397.83 1192 1392 C1182.83 1386.17 1176.17 1357 1175 1340 C1173.83 1323 1181.67 1305 1185 1290 C1188.33 1275 1189.5 1261.67 1195 1250 C1200.5 1238.33 1208.83 1229 1218 1220 C1227.17 1211 1238 1200 1250 1196 C1262 1192 1276.67 1195.33 1290 1196 C1303.33 1196.67 1317.5 1201.67 1330 1200 C1342.5 1198.33 1355.33 1191.67 1365 1186 C1374.67 1180.33 1381.33 1169.5 1388 1166 C1394.67 1162.5 1403.83 1161 1405 1165 Z" fill-opacity="0.45" stroke="none"/>
<path d="M1290 414 C1311.33 404.67 1356.67 392.33 1390 384 C1423.33 375.67 1448.33 371.33 1490 364 C1531.67 356.67 1615 334.67 1640 340 C1665 345.33 1665 383.67 1640 396 C1615 408.33 1531.67 406 1490 414 C1448.33 422 1423.33 431.5 1390 444 C1356.67 456.5 1312.5 483 1290 489 C1267.5 495 1259.67 488.17 1255 480 C1250.33 471.83 1256.17 451 1262 440 C1267.83 429 1268.67 423.33 1290 414 Z" fill-opacity="0.33" stroke="none"/>
<path d="M274 1640 C192.33 1626.67 315.83 1584.83 330 1560 C344.17 1535.17 339.17 1510.83 359 1491 C378.83 1471.17 417.33 1452.67 449 1441 C480.67 1429.33 517.33 1422.67 549 1421 C580.67 1419.33 614 1421 639 1431 C664 1441 680.67 1462.67 699 1481 C717.33 1499.33 734 1522.67 749 1541 C764 1559.33 777.17 1574.5 789 1591 C800.83 1607.5 905.83 1631.83 820 1640 C734.17 1648.17 355.67 1653.33 274 1640 Z" fill-opacity="0.36" stroke="none"/>
<path d="M420 1640 C368.33 1626.67 433.33 1583.33 450 1560 C466.67 1536.67 495 1511.67 520 1500 C545 1488.33 573.33 1485 600 1490 C626.67 1495 656.67 1513.33 680 1530 C703.33 1546.67 726.67 1571.67 740 1590 C753.33 1608.33 813.33 1631.67 760 1640 C706.67 1648.33 471.67 1653.33 420 1640 Z" fill-opacity="0.25" stroke="none"/>
<path d="M462 499 C459 508.17 450.67 532.33 444 554 C437.33 575.67 425.67 610.67 422 629 C418.33 647.33 424.17 648.17 422 664 C419.83 679.83 413.67 705.67 409 724 C404.33 742.33 399 761.5 394 774 C389 786.5 381.5 794.83 379 799" fill="none" stroke-opacity="0.75" stroke-width="9"/>
<path d="M1240 419 C1241.33 410.83 1245.5 384.17 1248 370 C1250.5 355.83 1248.83 347.33 1255 334 C1261.17 320.67 1272 296.67 1285 290 C1298 283.33 1325 293.33 1333 294" fill="none" stroke-opacity="0.85" stroke-width="11"/>
<path d="M1520 940 C1516.67 944.17 1506.67 956.67 1500 965 C1493.33 973.33 1483.33 985.83 1480 990" fill="none" stroke-opacity="0.9" stroke-width="13"/>
<path d="M1480 990 C1475 1001.67 1459.17 1038.33 1450 1060 C1440.83 1081.67 1431.67 1103.33 1425 1120 C1418.33 1136.67 1412.5 1153.33 1410 1160" fill="none" stroke-opacity="0.45" stroke-width="6"/>
<path d="M249 1366 L259 1416" fill="none" stroke-opacity="0.5" stroke-width="9"/>
</g>
<g style="mix-blend-mode:screen">
<g filter="url(#texG)" fill="#22e022" stroke="#22e022" stroke-linejoin="round" stroke-linecap="round">
<path d="M975 250 C982.17 236.33 998.83 234.67 1005 248 C1011.17 261.33 1012.5 300.5 1012 330 C1011.5 359.5 1013.17 409.17 1002 425 C990.83 440.83 951.67 440.83 945 425 C938.33 409.17 957 359.17 962 330 C967 300.83 967.83 263.67 975 250 Z" fill-opacity="0.08" stroke="none"/>
<path d="M1000 424 C1013 432.33 1012.67 457.33 1018 474 C1023.33 490.67 1030.83 507.33 1032 524 C1033.17 540.67 1031.67 557.33 1025 574 C1018.33 590.67 1002 607.33 992 624 C982 640.67 973.67 657.33 965 674 C956.33 690.67 948.33 707.33 940 724 C931.67 740.67 923.5 757.83 915 774 C906.5 790.17 908.33 801.5 889 821 C869.67 840.5 830.67 866.83 799 891 C767.33 915.17 728.17 936.83 699 966 C669.83 995.17 649 1036.83 624 1066 C599 1095.17 574 1116 549 1141 C524 1166 494.83 1191 474 1216 C453.17 1241 444.83 1261.83 424 1291 C403.17 1320.17 369.83 1357.67 349 1391 C328.17 1424.33 315.5 1467.83 299 1491 C282.5 1514.17 265.83 1528.33 250 1530 C234.17 1531.67 205.83 1511.67 204 1501 C202.17 1490.33 224.83 1484.33 239 1466 C253.17 1447.67 266.5 1420.17 289 1391 C311.5 1361.83 347.33 1324.33 374 1291 C400.67 1257.67 428.17 1224.33 449 1191 C469.83 1157.67 475.67 1132.67 499 1091 C522.33 1049.33 559.83 991 589 941 C618.17 891 655.5 827.83 674 791 C692.5 754.17 691.5 743.5 700 720 C708.5 696.5 715 670 725 650 C735 630 749.17 612.67 760 600 C770.83 587.33 776.67 586.67 790 574 C803.33 561.33 823.33 540.67 840 524 C856.67 507.33 873.33 490.67 890 474 C906.67 457.33 921.67 432.33 940 424 C958.33 415.67 987 415.67 1000 424 Z" fill-opacity="0.3" stroke="none"/>
<path d="M1000 424 C1013 432.33 1012.67 457.33 1018 474 C1023.33 490.67 1030.83 507.33 1032 524 C1033.17 540.67 1031.67 557.33 1025 574 C1018.33 590.67 1002 607.33 992 624 C982 640.67 973.67 657.33 965 674 C956.33 690.67 948.33 707.33 940 724 C931.67 740.67 923.5 757.83 915 774 C906.5 790.17 908.33 801.5 889 821 C869.67 840.5 827.17 871.17 799 891 C770.83 910.83 746.5 923.5 720 940 C693.5 956.5 660 991.67 640 990 C620 988.33 594.33 963.17 600 930 C605.67 896.83 657.33 826 674 791 C690.67 756 691.5 743.5 700 720 C708.5 696.5 715 670 725 650 C735 630 749.17 612.67 760 600 C770.83 587.33 776.67 586.67 790 574 C803.33 561.33 823.33 540.67 840 524 C856.67 507.33 873.33 490.67 890 474 C906.67 457.33 921.67 432.33 940 424 C958.33 415.67 987 415.67 1000 424 Z" fill-opacity="0.25" stroke="none"/>
<path d="M194 836 C200 832.5 226.67 848.33 240 850 C253.33 851.67 260.67 848.5 274 846 C287.33 843.5 306.5 841.83 320 835 C333.5 828.17 346.33 812.5 355 805 C363.67 797.5 366.33 779.83 372 790 C377.67 800.17 387.83 840.83 389 866 C390.17 891.17 377.33 921.83 379 941 C380.67 960.17 397.33 964.33 399 981 C400.67 997.67 394 1021 389 1041 C384 1061 374 1086 369 1101 C364 1116 355.67 1117.67 359 1131 C362.33 1144.33 384.83 1168.5 389 1181 C393.17 1193.5 388.83 1207 384 1206 C379.17 1205 367.5 1184.17 360 1175 C352.5 1165.83 350.83 1156.67 339 1151 C327.17 1145.33 304 1140.17 289 1141 C274 1141.83 261.5 1147.67 249 1156 C236.5 1164.33 224 1176.83 214 1191 C204 1205.17 199.83 1224.33 189 1241 C178.17 1257.67 164 1276 149 1291 C134 1306 112.33 1318.5 99 1331 C85.67 1343.5 69 1371 69 1366 C69 1361 85.67 1321.83 99 1301 C112.33 1280.17 135.67 1261 149 1241 C162.33 1221 170.67 1201.83 179 1181 C187.33 1160.17 192.33 1137.67 199 1116 C205.67 1094.33 212.33 1071.83 219 1051 C225.67 1030.17 235.67 1009.33 239 991 C242.33 972.67 240.67 956 239 941 C237.33 926 234.83 912.67 229 901 C223.17 889.33 209.83 881.83 204 871 C198.17 860.17 188 839.5 194 836 Z" fill-opacity="0.3" stroke="none"/>
<path d="M210 850 C216.5 842.5 255.67 856.83 274 856 C292.33 855.17 304.83 852.67 320 845 C335.17 837.33 354.67 806.5 365 810 C375.33 813.5 380.83 844.17 382 866 C383.17 887.83 370.33 921.83 372 941 C373.67 960.17 390.33 964.33 392 981 C393.67 997.67 387 1021 382 1041 C377 1061 367 1086 362 1101 C357 1116 364.17 1125.33 352 1131 C339.83 1136.67 306.83 1132.5 289 1135 C271.17 1137.5 255.67 1160 245 1146 C234.33 1132 225 1076.83 225 1051 C225 1025.17 241.67 1009.33 245 991 C248.33 972.67 246.67 956 245 941 C243.33 926 240.83 916.17 235 901 C229.17 885.83 203.5 857.5 210 850 Z" fill-opacity="0.25" stroke="none"/>
<path d="M745 1140 C740.83 1135.83 772.5 1151.67 790 1150 C807.5 1148.33 833.33 1138.33 850 1130 C866.67 1121.67 877.5 1110.67 890 1100 C902.5 1089.33 912.5 1068.5 925 1066 C937.5 1063.5 950 1078.5 965 1085 C980 1091.5 997.5 1102.5 1015 1105 C1032.5 1107.5 1050.83 1104.17 1070 1100 C1089.17 1095.83 1110 1090 1130 1080 C1150 1070 1171.67 1053.33 1190 1040 C1208.33 1026.67 1223.33 1012.5 1240 1000 C1256.67 987.5 1273.33 975 1290 965 C1306.67 955 1323.33 949.17 1340 940 C1356.67 930.83 1373.33 920 1390 910 C1406.67 900 1423.33 890 1440 880 C1456.67 870 1475.83 857 1490 850 C1504.17 843 1525 835.5 1525 838 C1525 840.5 1504.17 854.67 1490 865 C1475.83 875.33 1456.67 888.33 1440 900 C1423.33 911.67 1406.67 924.17 1390 935 C1373.33 945.83 1356.67 954.17 1340 965 C1323.33 975.83 1302.5 989.17 1290 1000 C1277.5 1010.83 1273.33 1018.33 1265 1030 C1256.67 1041.67 1245.83 1056.67 1240 1070 C1234.17 1083.33 1230 1098.33 1230 1110 C1230 1121.67 1234.67 1129.67 1240 1140 C1245.33 1150.33 1265.33 1167 1262 1172 C1258.67 1177 1232 1174.5 1220 1170 C1208 1165.5 1203.33 1148.33 1190 1145 C1176.67 1141.67 1155 1144.17 1140 1150 C1125 1155.83 1111.67 1169.17 1100 1180 C1088.33 1190.83 1080 1202.5 1070 1215 C1060 1227.5 1050 1242.5 1040 1255 C1030 1267.5 1020 1281.67 1010 1290 C1000 1298.33 990 1298.33 980 1305 C970 1311.67 958.33 1320 950 1330 C941.67 1340 937.5 1348.33 930 1365 C922.5 1381.67 913.33 1409.17 905 1430 C896.67 1450.83 888.33 1473.33 880 1490 C871.67 1506.67 857.5 1534.17 855 1530 C852.5 1525.83 859.17 1488.33 865 1465 C870.83 1441.67 884.17 1415 890 1390 C895.83 1365 900 1333.33 900 1315 C900 1296.67 895.83 1292.5 890 1280 C884.17 1267.5 873.33 1253.33 865 1240 C856.67 1226.67 848.33 1210.83 840 1200 C831.67 1189.17 830.83 1185 815 1175 C799.17 1165 749.17 1144.17 745 1140 Z" fill-opacity="0.3" stroke="none"/>
<path d="M800 1155 C805 1147.83 835 1143.33 850 1135 C865 1126.67 877.5 1115.5 890 1105 C902.5 1094.5 912.5 1074.5 925 1072 C937.5 1069.5 950 1083.67 965 1090 C980 1096.33 997.5 1107.5 1015 1110 C1032.5 1112.5 1050.83 1109.17 1070 1105 C1089.17 1100.83 1110 1094.5 1130 1085 C1150 1075.5 1172.5 1050.5 1190 1048 C1207.5 1045.5 1229.17 1059.67 1235 1070 C1240.83 1080.33 1232.5 1098.33 1225 1110 C1217.5 1121.67 1204.17 1134.17 1190 1140 C1175.83 1145.83 1155 1139.17 1140 1145 C1125 1150.83 1111.67 1164.17 1100 1175 C1088.33 1185.83 1080 1197.5 1070 1210 C1060 1222.5 1050 1237.5 1040 1250 C1030 1262.5 1020 1276.67 1010 1285 C1000 1293.33 990 1293.33 980 1300 C970 1306.67 962.5 1323 950 1325 C937.5 1327 914.17 1319.5 905 1312 C895.83 1304.5 900.83 1292 895 1280 C889.17 1268 878.33 1253.33 870 1240 C861.67 1226.67 853.33 1210.33 845 1200 C836.67 1189.67 827.5 1185.5 820 1178 C812.5 1170.5 795 1162.17 800 1155 Z" fill-opacity="0.25" stroke="none"/>
<path d="M1410 1160 C1411.67 1165 1400.83 1178.33 1400 1190 C1399.17 1201.67 1406.67 1217.5 1405 1230 C1403.33 1242.5 1391.67 1253.33 1390 1265 C1388.33 1276.67 1399.17 1292.5 1395 1300 C1390.83 1307.5 1374.17 1305 1365 1310 C1355.83 1315 1347.5 1322.5 1340 1330 C1332.5 1337.5 1332.5 1348.33 1320 1355 C1307.5 1361.67 1280 1365.83 1265 1370 C1250 1374.17 1242.5 1375 1230 1380 C1217.5 1385 1205 1390 1190 1400 C1175 1410 1156.67 1426.67 1140 1440 C1123.33 1453.33 1106.67 1467.5 1090 1480 C1073.33 1492.5 1056.67 1503.33 1040 1515 C1023.33 1526.67 1006.67 1539.17 990 1550 C973.33 1560.83 952.5 1571.67 940 1580 C927.5 1588.33 910.83 1606.67 915 1600 C919.17 1593.33 948.33 1558.33 965 1540 C981.67 1521.67 998.33 1505 1015 1490 C1031.67 1475 1048.33 1461.67 1065 1450 C1081.67 1438.33 1100.83 1431.67 1115 1420 C1129.17 1408.33 1140.83 1393.33 1150 1380 C1159.17 1366.67 1165 1355 1170 1340 C1175 1325 1176.67 1305 1180 1290 C1183.33 1275 1184.17 1262.5 1190 1250 C1195.83 1237.5 1205 1225 1215 1215 C1225 1205 1237.5 1194.17 1250 1190 C1262.5 1185.83 1276.67 1189.17 1290 1190 C1303.33 1190.83 1317.5 1196.67 1330 1195 C1342.5 1193.33 1355 1185.83 1365 1180 C1375 1174.17 1382.5 1163.33 1390 1160 C1397.5 1156.67 1408.33 1155 1410 1160 Z" fill-opacity="0.3" stroke="none"/>
<path d="M1405 1165 C1406.17 1169 1395.83 1179.17 1395 1190 C1394.17 1200.83 1401.67 1217.5 1400 1230 C1398.33 1242.5 1387 1253.67 1385 1265 C1383 1276.33 1391.83 1291.17 1388 1298 C1384.17 1304.83 1370.33 1301.33 1362 1306 C1353.67 1310.67 1345.33 1318.67 1338 1326 C1330.67 1333.33 1330.17 1343.5 1318 1350 C1305.83 1356.5 1279.67 1360.83 1265 1365 C1250.33 1369.17 1242.17 1370.5 1230 1375 C1217.83 1379.5 1201.17 1397.83 1192 1392 C1182.83 1386.17 1176.17 1357 1175 1340 C1173.83 1323 1181.67 1305 1185 1290 C1188.33 1275 1189.5 1261.67 1195 1250 C1200.5 1238.33 1208.83 1229 1218 1220 C1227.17 1211 1238 1200 1250 1196 C1262 1192 1276.67 1195.33 1290 1196 C1303.33 1196.67 1317.5 1201.67 1330 1200 C1342.5 1198.33 1355.33 1191.67 1365 1186 C1374.67 1180.33 1381.33 1169.5 1388 1166 C1394.67 1162.5 1403.83 1161 1405 1165 Z" fill-opacity="0.25" stroke="none"/>
<path d="M1290 414 C1311.33 404.67 1356.67 392.33 1390 384 C1423.33 375.67 1448.33 371.33 1490 364 C1531.67 356.67 1615 334.67 1640 340 C1665 345.33 1665 383.67 1640 396 C1615 408.33 1531.67 406 1490 414 C1448.33 422 1423.33 431.5 1390 444 C1356.67 456.5 1312.5 483 1290 489 C1267.5 495 1259.67 488.17 1255 480 C1250.33 471.83 1256.17 451 1262 440 C1267.83 429 1268.67 423.33 1290 414 Z" fill-opacity="0.18" stroke="none"/>
<path d="M274 1640 C192.33 1626.67 315.83 1584.83 330 1560 C344.17 1535.17 339.17 1510.83 359 1491 C378.83 1471.17 417.33 1452.67 449 1441 C480.67 1429.33 517.33 1422.67 549 1421 C580.67 1419.33 614 1421 639 1431 C664 1441 680.67 1462.67 699 1481 C717.33 1499.33 734 1522.67 749 1541 C764 1559.33 777.17 1574.5 789 1591 C800.83 1607.5 905.83 1631.83 820 1640 C734.17 1648.17 355.67 1653.33 274 1640 Z" fill-opacity="0.35" stroke="none"/>
<path d="M420 1640 C368.33 1626.67 433.33 1583.33 450 1560 C466.67 1536.67 495 1511.67 520 1500 C545 1488.33 573.33 1485 600 1490 C626.67 1495 656.67 1513.33 680 1530 C703.33 1546.67 726.67 1571.67 740 1590 C753.33 1608.33 813.33 1631.67 760 1640 C706.67 1648.33 471.67 1653.33 420 1640 Z" fill-opacity="0.3" stroke="none"/>
<path d="M462 499 C459 508.17 450.67 532.33 444 554 C437.33 575.67 425.67 610.67 422 629 C418.33 647.33 424.17 648.17 422 664 C419.83 679.83 413.67 705.67 409 724 C404.33 742.33 399 761.5 394 774 C389 786.5 381.5 794.83 379 799" fill="none" stroke-opacity="0.35" stroke-width="9"/>
<path d="M1240 419 C1241.33 410.83 1245.5 384.17 1248 370 C1250.5 355.83 1248.83 347.33 1255 334 C1261.17 320.67 1272 296.67 1285 290 C1298 283.33 1325 293.33 1333 294" fill="none" stroke-opacity="0.15" stroke-width="11"/>
<path d="M1520 940 C1516.67 944.17 1506.67 956.67 1500 965 C1493.33 973.33 1483.33 985.83 1480 990" fill="none" stroke-opacity="0.6" stroke-width="13"/>
<path d="M1480 990 C1475 1001.67 1459.17 1038.33 1450 1060 C1440.83 1081.67 1431.67 1103.33 1425 1120 C1418.33 1136.67 1412.5 1153.33 1410 1160" fill="none" stroke-opacity="0.4" stroke-width="6"/>
<path d="M249 1366 L259 1416" fill="none" stroke-opacity="0.2" stroke-width="9"/>
</g>
<g fill="#22e022" opacity="0.5" filter="url(#bl25)">
<circle cx="320" cy="900" r="55"/>
<circle cx="1060" cy="1130" r="50"/>
<circle cx="1355" cy="1235" r="50"/>
<circle cx="560" cy="1550" r="80"/>
<circle cx="870" cy="540" r="40"/>
<circle cx="600" cy="1010" r="30"/>
</g>
</g>
<g fill="#2634d6" filter="url(#bl4)">
<ellipse cx="850" cy="690" rx="76" ry="132" transform="rotate(8 850 690)"/>
<ellipse cx="319" cy="1041" rx="62" ry="80" transform="rotate(0 319 1041)"/>
<ellipse cx="935" cy="1196" rx="74" ry="80" transform="rotate(0 935 1196)"/>
<ellipse cx="1250" cy="1286" rx="66" ry="88" transform="rotate(18 1250 1286)"/>
<ellipse cx="600" cy="1608" rx="110" ry="44" transform="rotate(0 600 1608)"/>
</g>
<g fill="#30e0a0" filter="url(#spk)" opacity="0.8">
<ellipse cx="850" cy="690" rx="68" ry="124" transform="rotate(8 850 690)"/>
<ellipse cx="319" cy="1041" rx="54" ry="72" transform="rotate(0 319 1041)"/>
<ellipse cx="935" cy="1196" rx="66" ry="72" transform="rotate(0 935 1196)"/>
<ellipse cx="1250" cy="1286" rx="58" ry="80" transform="rotate(18 1250 1286)"/>
<ellipse cx="600" cy="1608" rx="102" ry="36" transform="rotate(0 600 1608)"/>
</g>
<g fill="#ff6a90" opacity="1" filter="url(#bl4)">
<circle cx="820" cy="771" r="20"/>
<circle cx="869" cy="739" r="12"/>
<circle cx="294" cy="1051" r="13"/>
<circle cx="960" cy="1160" r="15"/>
<circle cx="945" cy="1225" r="17"/>
<circle cx="880" cy="1190" r="9"/>
<circle cx="1273" cy="1300" r="19"/>
<circle cx="1200" cy="1325" r="10"/>
<circle cx="565" cy="1610" r="10"/>
<circle cx="625" cy="1610" r="10"/>
</g>
<circle cx="760" cy="1300" r="9" fill="#1020e0"/>
<svg x="60" y="85" width="608" height="431" viewBox="60 85 608 431" preserveAspectRatio="none">
<rect x="60" y="85" width="608" height="431" fill="#000"/>
<g filter="url(#texI)">
<path d="M20 40 C133.33 -41.67 596.67 28.33 700 40 C803.33 51.67 660 85 640 110 C620 135 600 163.33 580 190 C560 216.67 543.33 243.33 520 270 C496.67 296.67 470 325 440 350 C410 375 375 399.17 340 420 C305 440.83 266.67 460 230 475 C193.33 490 155 500.83 120 510 C85 519.17 36.67 608.33 20 530 C3.33 451.67 -93.33 121.67 20 40 Z" fill="#c87010" opacity="0.85"/>
</g>
<g filter="url(#texI)" style="mix-blend-mode:screen" opacity="0.8">
<path d="M20 40 C95 -31.67 403.33 21.67 470 40 C536.67 58.33 443.33 113.33 420 150 C396.67 186.67 361.67 226.67 330 260 C298.33 293.33 265 321.67 230 350 C195 378.33 155 410 120 430 C85 450 36.67 535 20 470 C3.33 405 -55 111.67 20 40 Z" fill="#2e9a18"/>
</g>
<g filter="url(#bl25)" opacity="0.45">
<path d="M520 60 C511.67 76.67 493.33 125 470 160 C446.67 195 413.33 235 380 270 C346.67 305 308.33 341.67 270 370 C231.67 398.33 185 423.33 150 440 C115 456.67 75 465 60 470" fill="none" stroke="#000" stroke-width="40"/>
</g>
</svg>
<path d="M668 82 L668 516 L60 516" fill="none" stroke="#fff" stroke-width="8"/>
<line x1="358" y1="193" x2="431.25" y2="354.33" stroke="#fff" stroke-width="4"/>
<path d="M442 378 L422.15 358.46 L440.36 350.19 Z" fill="#fff"/>
<rect x="713" y="834" width="120" height="103" fill="none" stroke="#fff" stroke-width="5"/>
<line x1="770" y1="868" x2="784.29" y2="893.98" stroke="#fff" stroke-width="3"/>
<path d="M792 908 L778.16 897.35 L790.42 890.61 Z" fill="#fff"/>
<text x="1387" y="1548" font-size="70" font-weight="bold" fill="#fff" textLength="210" lengthAdjust="spacingAndGlyphs">10µm</text>
<line x1="1478" y1="1572" x2="1576" y2="1572" stroke="#fff" stroke-width="6"/>
</svg>
<svg x="62" y="410" width="316.5" height="309.5" viewBox="60 73 1563 1528" preserveAspectRatio="none">
<rect x="0" y="0" width="1700" height="1700" fill="#000"/>
<g filter="url(#texO)" fill="#ff6a08" stroke="#ff6a08" stroke-linejoin="round" stroke-linecap="round">
<path d="M649 90 C664 84.17 684 83.33 700 95 C716 106.67 732.67 142.67 745 160 C757.33 177.33 760.83 180 774 199 C787.17 218 809.83 249 824 274 C838.17 299 848.17 324 859 349 C869.83 374 882.17 395.5 889 424 C895.83 452.5 897.33 487.33 900 520 C902.67 552.67 909.33 598.5 905 620 C900.67 641.5 891.67 642.5 874 649 C856.33 655.5 824 659.83 799 659 C774 658.17 749 651.5 724 644 C699 636.5 669.83 625.67 649 614 C628.17 602.33 615.67 589 599 574 C582.33 559 565.67 540.67 549 524 C532.33 507.33 514 493.17 499 474 C484 454.83 464.83 426.5 459 409 C453.17 391.5 457.33 385.67 464 369 C470.67 352.33 489 329 499 309 C509 289 511.5 270.67 524 249 C536.5 227.33 559.67 198.83 574 179 C588.33 159.17 597.5 144.83 610 130 C622.5 115.17 634 95.83 649 90 Z" fill-opacity="0.6" stroke="none"/>
<path d="M660 150 C682.5 151.67 721.67 179.33 745 200 C768.33 220.67 785 249.17 800 274 C815 298.83 824.67 324 835 349 C845.33 374 855.83 395.5 862 424 C868.17 452.5 870.33 490.67 872 520 C873.67 549.33 884.17 581.67 872 600 C859.83 618.33 823.67 627.5 799 630 C774.33 632.5 749 622.5 724 615 C699 607.5 669.83 596.67 649 585 C628.17 573.33 615.67 560 599 545 C582.33 530 563.83 512.5 549 495 C534.17 477.5 518.17 459.17 510 440 C501.83 420.83 496.67 401.83 500 380 C503.33 358.17 520 330.83 530 309 C540 287.17 546.67 268.83 560 249 C573.33 229.17 593.33 206.5 610 190 C626.67 173.5 637.5 148.33 660 150 Z" fill-opacity="0.5" stroke="none"/>
<path d="M30 330 C34.83 302.33 45.83 340.83 59 354 C72.17 367.17 94 390.67 109 409 C124 427.33 136.5 444 149 464 C161.5 484 175.67 510.67 184 529 C192.33 547.33 189.83 555.67 199 574 C208.17 592.33 224.83 616.5 239 639 C253.17 661.5 269 686.5 284 709 C299 731.5 314 752.33 329 774 C344 795.67 358.83 814.67 374 839 C389.17 863.33 404 891.5 420 920 C436 948.5 453.33 980 470 1010 C486.67 1040 505.83 1072.5 520 1100 C534.17 1127.5 551.67 1161.33 555 1175 C558.33 1188.67 550.83 1192.83 540 1182 C529.17 1171.17 508.33 1135.33 490 1110 C471.67 1084.67 450 1056.67 430 1030 C410 1003.33 391.83 973.5 370 950 C348.17 926.5 319.17 912.5 299 889 C278.83 865.5 265.67 834 249 809 C232.33 784 215.67 763.17 199 739 C182.33 714.83 165.67 687.33 149 664 C132.33 640.67 114 618.17 99 599 C84 579.83 70.5 562.17 59 549 C47.5 535.83 34.83 556.5 30 520 C25.17 483.5 25.17 357.67 30 330 Z" fill-opacity="0.62" stroke="none"/>
<path d="M40 360 C50 341.67 83.33 401 100 420 C116.67 439 127.5 454.17 140 474 C152.5 493.83 166.67 520.67 175 539 C183.33 557.33 180.83 565.67 190 584 C199.17 602.33 216 626.5 230 649 C244 671.5 259.17 696.5 274 719 C288.83 741.5 304 762.33 319 784 C334 805.67 348.83 824.67 364 849 C379.17 873.33 397.33 906.5 410 930 C422.67 953.5 445 988.33 440 990 C435 991.67 401.83 958.5 380 940 C358.17 921.5 329.17 902.5 309 879 C288.83 855.5 275.67 824 259 799 C242.33 774 225.67 753.17 209 729 C192.33 704.83 175.67 677.33 159 654 C142.33 630.67 128.83 609.67 109 589 C89.17 568.33 51.5 568.17 40 530 C28.5 491.83 30 378.33 40 360 Z" fill-opacity="0.45" stroke="none"/>
<path d="M990 60 C1005 41 1043.33 41 1055 60 C1066.67 79 1055.83 138.33 1060 174 C1064.17 209.67 1073.33 240.67 1080 274 C1086.67 307.33 1091.67 340.67 1100 374 C1108.33 407.33 1121.67 440.67 1130 474 C1138.33 507.33 1142.5 540.67 1150 574 C1157.5 607.33 1164.17 644.83 1175 674 C1185.83 703.17 1200 724 1215 749 C1230 774 1250.83 800.67 1265 824 C1279.17 847.33 1287.17 868 1300 889 C1312.83 910 1328.33 923.17 1342 950 C1355.67 976.83 1373.67 1021.67 1382 1050 C1390.33 1078.33 1384.83 1106.67 1392 1120 C1399.17 1133.33 1425 1119.67 1425 1130 C1425 1140.33 1399.17 1156.67 1392 1182 C1384.83 1207.33 1387 1245.33 1382 1282 C1377 1318.67 1368.67 1365.33 1362 1402 C1355.33 1438.67 1346.5 1465.67 1342 1502 C1337.5 1538.33 1342 1600.33 1335 1620 C1328 1639.67 1305.83 1648 1300 1620 C1294.17 1592 1303.33 1505 1300 1452 C1296.67 1399 1290 1347 1280 1302 C1270 1257 1256.67 1217 1240 1182 C1223.33 1147 1196.67 1113.67 1180 1092 C1163.33 1070.33 1149.17 1074 1140 1052 C1130.83 1030 1126.67 987.17 1125 960 C1123.33 932.83 1130.83 915.83 1130 889 C1129.17 862.17 1125 830.67 1120 799 C1115 767.33 1106.67 732.33 1100 699 C1093.33 665.67 1088.33 632.33 1080 599 C1071.67 565.67 1060.83 532.33 1050 499 C1039.17 465.67 1025 432.33 1015 399 C1005 365.67 998.33 336.5 990 299 C981.67 261.5 965 213.83 965 174 C965 134.17 975 79 990 60 Z" fill-opacity="0.48" stroke="none"/>
<path d="M1100 620 C1107.5 603.5 1137.5 591 1150 600 C1162.5 609 1164.17 649.17 1175 674 C1185.83 698.83 1200 724 1215 749 C1230 774 1250.83 800.67 1265 824 C1279.17 847.33 1287.17 868 1300 889 C1312.83 910 1329 923.17 1342 950 C1355 976.83 1370.67 1021.67 1378 1050 C1385.33 1078.33 1385.33 1098 1386 1120 C1386.67 1142 1383.83 1155 1382 1182 C1380.17 1209 1379.5 1245.33 1375 1282 C1370.5 1318.67 1364.17 1375.67 1355 1402 C1345.83 1428.33 1330.83 1456.67 1320 1440 C1309.17 1423.33 1301.67 1345 1290 1302 C1278.33 1259 1266.67 1217 1250 1182 C1233.33 1147 1207.5 1113.67 1190 1092 C1172.5 1070.33 1155 1074 1145 1052 C1135 1030 1131.67 987.17 1130 960 C1128.33 932.83 1135.83 915.83 1135 889 C1134.17 862.17 1130 830.67 1125 799 C1120 767.33 1109.17 728.83 1105 699 C1100.83 669.17 1092.5 636.5 1100 620 Z" fill-opacity="0.5" stroke="none"/>
<path d="M1320 60 C1350.83 41 1490 41 1525 60 C1560 79 1527.5 138.33 1530 174 C1532.5 209.67 1536.67 244.83 1540 274 C1543.33 303.17 1545 319.83 1550 349 C1555 378.17 1568.33 419.83 1570 449 C1571.67 478.17 1565 503.17 1560 524 C1555 544.83 1547.5 571.5 1540 574 C1532.5 576.5 1529.17 555.67 1515 539 C1500.83 522.33 1471.67 501.5 1455 474 C1438.33 446.5 1427.5 407.33 1415 374 C1402.5 340.67 1392.5 307.33 1380 274 C1367.5 240.67 1350 209.67 1340 174 C1330 138.33 1289.17 79 1320 60 Z" fill-opacity="0.4" stroke="none"/>
<path d="M189 60 C213 46.33 338.83 48.33 364 60 C389.17 71.67 350.83 111 340 130 C329.17 149 314.17 160 299 174 C283.83 188 262.17 219.33 249 214 C235.83 208.67 230 167.67 220 142 C210 116.33 165 73.67 189 60 Z" fill-opacity="0.4" stroke="none"/>
<path d="M649 74 C648.33 80 646.5 99.17 645 110 C643.5 120.83 640.83 134.17 640 139" fill="none" stroke-opacity="0.4" stroke-width="12"/>
<path d="M455 895 L440 910" fill="none" stroke-opacity="0.8" stroke-width="8"/>
<path d="M945 760 L935 780" fill="none" stroke-opacity="0.7" stroke-width="7"/>
</g>
<path d="M620 1290 C633.33 1308.33 670 1361.67 700 1400 C730 1438.33 770 1486.67 800 1520 C830 1553.33 866.67 1586.67 880 1600" fill="none" stroke="#ff6a08" stroke-width="34" opacity="0.08" filter="url(#bl10)"/>
<g fill="#000" opacity="0.7" filter="url(#bl4)">
<ellipse cx="674" cy="374" rx="86" ry="142" transform="rotate(-12 674 374)"/>
<ellipse cx="109" cy="499" rx="60" ry="104" transform="rotate(-28 109 499)"/>
<ellipse cx="1245" cy="985" rx="75" ry="128" transform="rotate(-12 1245 985)"/>
</g>
<g fill="none" stroke="#ff6a08" stroke-width="9" opacity="0.5" filter="url(#bl4)">
<ellipse cx="674" cy="374" rx="90" ry="146" transform="rotate(-12 674 374)"/>
<ellipse cx="109" cy="499" rx="64" ry="108" transform="rotate(-28 109 499)"/>
<ellipse cx="1245" cy="985" rx="79" ry="132" transform="rotate(-12 1245 985)"/>
</g>
<g fill="#ff7a1a" opacity="1" filter="url(#bl4)">
<circle cx="114" cy="499" r="17"/>
<circle cx="1258" cy="905" r="13"/>
<circle cx="1292" cy="968" r="11"/>
<circle cx="1277" cy="1020" r="13"/>
</g>
<line x1="797" y1="473" x2="797" y2="517" stroke="#fff" stroke-width="3"/>
<path d="M797 535 L790 517 L804 517 Z" fill="#fff"/>
<text x="1387" y="1500" font-size="70" font-weight="bold" fill="#fff" textLength="210" lengthAdjust="spacingAndGlyphs">10µm</text>
<line x1="1478" y1="1527" x2="1576" y2="1527" stroke="#fff" stroke-width="6"/>
</svg>
<svg x="392" y="410" width="316.5" height="309.5" viewBox="60 73 1563 1528" preserveAspectRatio="none">
<rect x="0" y="0" width="1700" height="1700" fill="#000"/>
<g filter="url(#texG)" fill="#22e022" stroke="#22e022" stroke-linejoin="round" stroke-linecap="round">
<path d="M649 90 C664 84.17 684 83.33 700 95 C716 106.67 732.67 142.67 745 160 C757.33 177.33 760.83 180 774 199 C787.17 218 809.83 249 824 274 C838.17 299 848.17 324 859 349 C869.83 374 882.17 395.5 889 424 C895.83 452.5 897.33 487.33 900 520 C902.67 552.67 909.33 598.5 905 620 C900.67 641.5 891.67 642.5 874 649 C856.33 655.5 824 659.83 799 659 C774 658.17 749 651.5 724 644 C699 636.5 669.83 625.67 649 614 C628.17 602.33 615.67 589 599 574 C582.33 559 565.67 540.67 549 524 C532.33 507.33 514 493.17 499 474 C484 454.83 464.83 426.5 459 409 C453.17 391.5 457.33 385.67 464 369 C470.67 352.33 489 329 499 309 C509 289 511.5 270.67 524 249 C536.5 227.33 559.67 198.83 574 179 C588.33 159.17 597.5 144.83 610 130 C622.5 115.17 634 95.83 649 90 Z" fill-opacity="0.16" stroke="none"/>
<path d="M660 150 C682.5 151.67 721.67 179.33 745 200 C768.33 220.67 785 249.17 800 274 C815 298.83 824.67 324 835 349 C845.33 374 855.83 395.5 862 424 C868.17 452.5 870.33 490.67 872 520 C873.67 549.33 884.17 581.67 872 600 C859.83 618.33 823.67 627.5 799 630 C774.33 632.5 749 622.5 724 615 C699 607.5 669.83 596.67 649 585 C628.17 573.33 615.67 560 599 545 C582.33 530 563.83 512.5 549 495 C534.17 477.5 518.17 459.17 510 440 C501.83 420.83 496.67 401.83 500 380 C503.33 358.17 520 330.83 530 309 C540 287.17 546.67 268.83 560 249 C573.33 229.17 593.33 206.5 610 190 C626.67 173.5 637.5 148.33 660 150 Z" fill-opacity="0.14" stroke="none"/>
<path d="M30 330 C34.83 302.33 45.83 340.83 59 354 C72.17 367.17 94 390.67 109 409 C124 427.33 136.5 444 149 464 C161.5 484 175.67 510.67 184 529 C192.33 547.33 189.83 555.67 199 574 C208.17 592.33 224.83 616.5 239 639 C253.17 661.5 269 686.5 284 709 C299 731.5 314 752.33 329 774 C344 795.67 358.83 814.67 374 839 C389.17 863.33 404 891.5 420 920 C436 948.5 453.33 980 470 1010 C486.67 1040 505.83 1072.5 520 1100 C534.17 1127.5 551.67 1161.33 555 1175 C558.33 1188.67 550.83 1192.83 540 1182 C529.17 1171.17 508.33 1135.33 490 1110 C471.67 1084.67 450 1056.67 430 1030 C410 1003.33 391.83 973.5 370 950 C348.17 926.5 319.17 912.5 299 889 C278.83 865.5 265.67 834 249 809 C232.33 784 215.67 763.17 199 739 C182.33 714.83 165.67 687.33 149 664 C132.33 640.67 114 618.17 99 599 C84 579.83 70.5 562.17 59 549 C47.5 535.83 34.83 556.5 30 520 C25.17 483.5 25.17 357.67 30 330 Z" fill-opacity="0.34" stroke="none"/>
<path d="M40 360 C50 341.67 83.33 401 100 420 C116.67 439 127.5 454.17 140 474 C152.5 493.83 166.67 520.67 175 539 C183.33 557.33 180.83 565.67 190 584 C199.17 602.33 216 626.5 230 649 C244 671.5 259.17 696.5 274 719 C288.83 741.5 304 762.33 319 784 C334 805.67 348.83 824.67 364 849 C379.17 873.33 397.33 906.5 410 930 C422.67 953.5 445 988.33 440 990 C435 991.67 401.83 958.5 380 940 C358.17 921.5 329.17 902.5 309 879 C288.83 855.5 275.67 824 259 799 C242.33 774 225.67 753.17 209 729 C192.33 704.83 175.67 677.33 159 654 C142.33 630.67 128.83 609.67 109 589 C89.17 568.33 51.5 568.17 40 530 C28.5 491.83 30 378.33 40 360 Z" fill-opacity="0.2" stroke="none"/>
<path d="M990 60 C1005 41 1043.33 41 1055 60 C1066.67 79 1055.83 138.33 1060 174 C1064.17 209.67 1073.33 240.67 1080 274 C1086.67 307.33 1091.67 340.67 1100 374 C1108.33 407.33 1121.67 440.67 1130 474 C1138.33 507.33 1142.5 540.67 1150 574 C1157.5 607.33 1164.17 644.83 1175 674 C1185.83 703.17 1200 724 1215 749 C1230 774 1250.83 800.67 1265 824 C1279.17 847.33 1287.17 868 1300 889 C1312.83 910 1328.33 923.17 1342 950 C1355.67 976.83 1373.67 1021.67 1382 1050 C1390.33 1078.33 1384.83 1106.67 1392 1120 C1399.17 1133.33 1425 1119.67 1425 1130 C1425 1140.33 1399.17 1156.67 1392 1182 C1384.83 1207.33 1387 1245.33 1382 1282 C1377 1318.67 1368.67 1365.33 1362 1402 C1355.33 1438.67 1346.5 1465.67 1342 1502 C1337.5 1538.33 1342 1600.33 1335 1620 C1328 1639.67 1305.83 1648 1300 1620 C1294.17 1592 1303.33 1505 1300 1452 C1296.67 1399 1290 1347 1280 1302 C1270 1257 1256.67 1217 1240 1182 C1223.33 1147 1196.67 1113.67 1180 1092 C1163.33 1070.33 1149.17 1074 1140 1052 C1130.83 1030 1126.67 987.17 1125 960 C1123.33 932.83 1130.83 915.83 1130 889 C1129.17 862.17 1125 830.67 1120 799 C1115 767.33 1106.67 732.33 1100 699 C1093.33 665.67 1088.33 632.33 1080 599 C1071.67 565.67 1060.83 532.33 1050 499 C1039.17 465.67 1025 432.33 1015 399 C1005 365.67 998.33 336.5 990 299 C981.67 261.5 965 213.83 965 174 C965 134.17 975 79 990 60 Z" fill-opacity="0.24" stroke="none"/>
<path d="M1100 620 C1107.5 603.5 1137.5 591 1150 600 C1162.5 609 1164.17 649.17 1175 674 C1185.83 698.83 1200 724 1215 749 C1230 774 1250.83 800.67 1265 824 C1279.17 847.33 1287.17 868 1300 889 C1312.83 910 1329 923.17 1342 950 C1355 976.83 1370.67 1021.67 1378 1050 C1385.33 1078.33 1385.33 1098 1386 1120 C1386.67 1142 1383.83 1155 1382 1182 C1380.17 1209 1379.5 1245.33 1375 1282 C1370.5 1318.67 1364.17 1375.67 1355 1402 C1345.83 1428.33 1330.83 1456.67 1320 1440 C1309.17 1423.33 1301.67 1345 1290 1302 C1278.33 1259 1266.67 1217 1250 1182 C1233.33 1147 1207.5 1113.67 1190 1092 C1172.5 1070.33 1155 1074 1145 1052 C1135 1030 1131.67 987.17 1130 960 C1128.33 932.83 1135.83 915.83 1135 889 C1134.17 862.17 1130 830.67 1125 799 C1120 767.33 1109.17 728.83 1105 699 C1100.83 669.17 1092.5 636.5 1100 620 Z" fill-opacity="0.3" stroke="none"/>
<path d="M1320 60 C1350.83 41 1490 41 1525 60 C1560 79 1527.5 138.33 1530 174 C1532.5 209.67 1536.67 244.83 1540 274 C1543.33 303.17 1545 319.83 1550 349 C1555 378.17 1568.33 419.83 1570 449 C1571.67 478.17 1565 503.17 1560 524 C1555 544.83 1547.5 571.5 1540 574 C1532.5 576.5 1529.17 555.67 1515 539 C1500.83 522.33 1471.67 501.5 1455 474 C1438.33 446.5 1427.5 407.33 1415 374 C1402.5 340.67 1392.5 307.33 1380 274 C1367.5 240.67 1350 209.67 1340 174 C1330 138.33 1289.17 79 1320 60 Z" fill-opacity="0.15" stroke="none"/>
<path d="M189 60 C213 46.33 338.83 48.33 364 60 C389.17 71.67 350.83 111 340 130 C329.17 149 314.17 160 299 174 C283.83 188 262.17 219.33 249 214 C235.83 208.67 230 167.67 220 142 C210 116.33 165 73.67 189 60 Z" fill-opacity="0.12" stroke="none"/>
<path d="M649 74 C648.33 80 646.5 99.17 645 110 C643.5 120.83 640.83 134.17 640 139" fill="none" stroke-opacity="0.1" stroke-width="12"/>
</g>
<g fill="#22e022" opacity="0.5" filter="url(#bl25)">
<circle cx="700" cy="570" r="50"/>
<circle cx="280" cy="720" r="30"/>
<circle cx="1290" cy="1200" r="60"/>
<circle cx="1460" cy="250" r="28"/>
<circle cx="1250" cy="800" r="40"/>
</g>
<g fill="#000" opacity="0.45" filter="url(#bl4)">
<ellipse cx="674" cy="374" rx="86" ry="142" transform="rotate(-12 674 374)"/>
<ellipse cx="109" cy="499" rx="60" ry="104" transform="rotate(-28 109 499)"/>
<ellipse cx="1245" cy="985" rx="75" ry="128" transform="rotate(-12 1245 985)"/>
</g>
<g fill="#40ff40" filter="url(#spk)" opacity="0.7">
<ellipse cx="674" cy="374" rx="80" ry="136" transform="rotate(-12 674 374)"/>
<ellipse cx="109" cy="499" rx="54" ry="98" transform="rotate(-28 109 499)"/>
<ellipse cx="1245" cy="985" rx="69" ry="122" transform="rotate(-12 1245 985)"/>
</g>
<ellipse cx="674" cy="374" rx="100" ry="154" transform="rotate(-12 674 374)" fill="none" stroke="#22e022" stroke-width="22" opacity="0.55" filter="url(#bl10)"/>
<line x1="797" y1="473" x2="797" y2="517" stroke="#fff" stroke-width="3"/>
<path d="M797 535 L790 517 L804 517 Z" fill="#fff"/>
<text x="1387" y="1500" font-size="70" font-weight="bold" fill="#fff" textLength="210" lengthAdjust="spacingAndGlyphs">10µm</text>
<line x1="1478" y1="1527" x2="1576" y2="1527" stroke="#fff" stroke-width="6"/>
</svg>
<svg x="721" y="410" width="316.5" height="309.5" viewBox="60 73 1563 1528" preserveAspectRatio="none">
<rect x="0" y="0" width="1700" height="1700" fill="#000"/>
<g filter="url(#texO)" fill="#ff6a08" stroke="#ff6a08" stroke-linejoin="round" stroke-linecap="round">
<path d="M649 90 C664 84.17 684 83.33 700 95 C716 106.67 732.67 142.67 745 160 C757.33 177.33 760.83 180 774 199 C787.17 218 809.83 249 824 274 C838.17 299 848.17 324 859 349 C869.83 374 882.17 395.5 889 424 C895.83 452.5 897.33 487.33 900 520 C902.67 552.67 909.33 598.5 905 620 C900.67 641.5 891.67 642.5 874 649 C856.33 655.5 824 659.83 799 659 C774 658.17 749 651.5 724 644 C699 636.5 669.83 625.67 649 614 C628.17 602.33 615.67 589 599 574 C582.33 559 565.67 540.67 549 524 C532.33 507.33 514 493.17 499 474 C484 454.83 464.83 426.5 459 409 C453.17 391.5 457.33 385.67 464 369 C470.67 352.33 489 329 499 309 C509 289 511.5 270.67 524 249 C536.5 227.33 559.67 198.83 574 179 C588.33 159.17 597.5 144.83 610 130 C622.5 115.17 634 95.83 649 90 Z" fill-opacity="0.6" stroke="none"/>
<path d="M660 150 C682.5 151.67 721.67 179.33 745 200 C768.33 220.67 785 249.17 800 274 C815 298.83 824.67 324 835 349 C845.33 374 855.83 395.5 862 424 C868.17 452.5 870.33 490.67 872 520 C873.67 549.33 884.17 581.67 872 600 C859.83 618.33 823.67 627.5 799 630 C774.33 632.5 749 622.5 724 615 C699 607.5 669.83 596.67 649 585 C628.17 573.33 615.67 560 599 545 C582.33 530 563.83 512.5 549 495 C534.17 477.5 518.17 459.17 510 440 C501.83 420.83 496.67 401.83 500 380 C503.33 358.17 520 330.83 530 309 C540 287.17 546.67 268.83 560 249 C573.33 229.17 593.33 206.5 610 190 C626.67 173.5 637.5 148.33 660 150 Z" fill-opacity="0.5" stroke="none"/>
<path d="M30 330 C34.83 302.33 45.83 340.83 59 354 C72.17 367.17 94 390.67 109 409 C124 427.33 136.5 444 149 464 C161.5 484 175.67 510.67 184 529 C192.33 547.33 189.83 555.67 199 574 C208.17 592.33 224.83 616.5 239 639 C253.17 661.5 269 686.5 284 709 C299 731.5 314 752.33 329 774 C344 795.67 358.83 814.67 374 839 C389.17 863.33 404 891.5 420 920 C436 948.5 453.33 980 470 1010 C486.67 1040 505.83 1072.5 520 1100 C534.17 1127.5 551.67 1161.33 555 1175 C558.33 1188.67 550.83 1192.83 540 1182 C529.17 1171.17 508.33 1135.33 490 1110 C471.67 1084.67 450 1056.67 430 1030 C410 1003.33 391.83 973.5 370 950 C348.17 926.5 319.17 912.5 299 889 C278.83 865.5 265.67 834 249 809 C232.33 784 215.67 763.17 199 739 C182.33 714.83 165.67 687.33 149 664 C132.33 640.67 114 618.17 99 599 C84 579.83 70.5 562.17 59 549 C47.5 535.83 34.83 556.5 30 520 C25.17 483.5 25.17 357.67 30 330 Z" fill-opacity="0.62" stroke="none"/>
<path d="M40 360 C50 341.67 83.33 401 100 420 C116.67 439 127.5 454.17 140 474 C152.5 493.83 166.67 520.67 175 539 C183.33 557.33 180.83 565.67 190 584 C199.17 602.33 216 626.5 230 649 C244 671.5 259.17 696.5 274 719 C288.83 741.5 304 762.33 319 784 C334 805.67 348.83 824.67 364 849 C379.17 873.33 397.33 906.5 410 930 C422.67 953.5 445 988.33 440 990 C435 991.67 401.83 958.5 380 940 C358.17 921.5 329.17 902.5 309 879 C288.83 855.5 275.67 824 259 799 C242.33 774 225.67 753.17 209 729 C192.33 704.83 175.67 677.33 159 654 C142.33 630.67 128.83 609.67 109 589 C89.17 568.33 51.5 568.17 40 530 C28.5 491.83 30 378.33 40 360 Z" fill-opacity="0.45" stroke="none"/>
<path d="M990 60 C1005 41 1043.33 41 1055 60 C1066.67 79 1055.83 138.33 1060 174 C1064.17 209.67 1073.33 240.67 1080 274 C1086.67 307.33 1091.67 340.67 1100 374 C1108.33 407.33 1121.67 440.67 1130 474 C1138.33 507.33 1142.5 540.67 1150 574 C1157.5 607.33 1164.17 644.83 1175 674 C1185.83 703.17 1200 724 1215 749 C1230 774 1250.83 800.67 1265 824 C1279.17 847.33 1287.17 868 1300 889 C1312.83 910 1328.33 923.17 1342 950 C1355.67 976.83 1373.67 1021.67 1382 1050 C1390.33 1078.33 1384.83 1106.67 1392 1120 C1399.17 1133.33 1425 1119.67 1425 1130 C1425 1140.33 1399.17 1156.67 1392 1182 C1384.83 1207.33 1387 1245.33 1382 1282 C1377 1318.67 1368.67 1365.33 1362 1402 C1355.33 1438.67 1346.5 1465.67 1342 1502 C1337.5 1538.33 1342 1600.33 1335 1620 C1328 1639.67 1305.83 1648 1300 1620 C1294.17 1592 1303.33 1505 1300 1452 C1296.67 1399 1290 1347 1280 1302 C1270 1257 1256.67 1217 1240 1182 C1223.33 1147 1196.67 1113.67 1180 1092 C1163.33 1070.33 1149.17 1074 1140 1052 C1130.83 1030 1126.67 987.17 1125 960 C1123.33 932.83 1130.83 915.83 1130 889 C1129.17 862.17 1125 830.67 1120 799 C1115 767.33 1106.67 732.33 1100 699 C1093.33 665.67 1088.33 632.33 1080 599 C1071.67 565.67 1060.83 532.33 1050 499 C1039.17 465.67 1025 432.33 1015 399 C1005 365.67 998.33 336.5 990 299 C981.67 261.5 965 213.83 965 174 C965 134.17 975 79 990 60 Z" fill-opacity="0.48" stroke="none"/>
<path d="M1100 620 C1107.5 603.5 1137.5 591 1150 600 C1162.5 609 1164.17 649.17 1175 674 C1185.83 698.83 1200 724 1215 749 C1230 774 1250.83 800.67 1265 824 C1279.17 847.33 1287.17 868 1300 889 C1312.83 910 1329 923.17 1342 950 C1355 976.83 1370.67 1021.67 1378 1050 C1385.33 1078.33 1385.33 1098 1386 1120 C1386.67 1142 1383.83 1155 1382 1182 C1380.17 1209 1379.5 1245.33 1375 1282 C1370.5 1318.67 1364.17 1375.67 1355 1402 C1345.83 1428.33 1330.83 1456.67 1320 1440 C1309.17 1423.33 1301.67 1345 1290 1302 C1278.33 1259 1266.67 1217 1250 1182 C1233.33 1147 1207.5 1113.67 1190 1092 C1172.5 1070.33 1155 1074 1145 1052 C1135 1030 1131.67 987.17 1130 960 C1128.33 932.83 1135.83 915.83 1135 889 C1134.17 862.17 1130 830.67 1125 799 C1120 767.33 1109.17 728.83 1105 699 C1100.83 669.17 1092.5 636.5 1100 620 Z" fill-opacity="0.5" stroke="none"/>
<path d="M1320 60 C1350.83 41 1490 41 1525 60 C1560 79 1527.5 138.33 1530 174 C1532.5 209.67 1536.67 244.83 1540 274 C1543.33 303.17 1545 319.83 1550 349 C1555 378.17 1568.33 419.83 1570 449 C1571.67 478.17 1565 503.17 1560 524 C1555 544.83 1547.5 571.5 1540 574 C1532.5 576.5 1529.17 555.67 1515 539 C1500.83 522.33 1471.67 501.5 1455 474 C1438.33 446.5 1427.5 407.33 1415 374 C1402.5 340.67 1392.5 307.33 1380 274 C1367.5 240.67 1350 209.67 1340 174 C1330 138.33 1289.17 79 1320 60 Z" fill-opacity="0.4" stroke="none"/>
<path d="M189 60 C213 46.33 338.83 48.33 364 60 C389.17 71.67 350.83 111 340 130 C329.17 149 314.17 160 299 174 C283.83 188 262.17 219.33 249 214 C235.83 208.67 230 167.67 220 142 C210 116.33 165 73.67 189 60 Z" fill-opacity="0.4" stroke="none"/>
<path d="M649 74 C648.33 80 646.5 99.17 645 110 C643.5 120.83 640.83 134.17 640 139" fill="none" stroke-opacity="0.4" stroke-width="12"/>
<path d="M455 895 L440 910" fill="none" stroke-opacity="0.8" stroke-width="8"/>
<path d="M945 760 L935 780" fill="none" stroke-opacity="0.7" stroke-width="7"/>
</g>
<path d="M620 1290 C633.33 1308.33 670 1361.67 700 1400 C730 1438.33 770 1486.67 800 1520 C830 1553.33 866.67 1586.67 880 1600" fill="none" stroke="#ff6a08" stroke-width="34" opacity="0.08" filter="url(#bl10)"/>
<g style="mix-blend-mode:screen">
<g filter="url(#texG)" fill="#22e022" stroke="#22e022" stroke-linejoin="round" stroke-linecap="round">
<path d="M649 90 C664 84.17 684 83.33 700 95 C716 106.67 732.67 142.67 745 160 C757.33 177.33 760.83 180 774 199 C787.17 218 809.83 249 824 274 C838.17 299 848.17 324 859 349 C869.83 374 882.17 395.5 889 424 C895.83 452.5 897.33 487.33 900 520 C902.67 552.67 909.33 598.5 905 620 C900.67 641.5 891.67 642.5 874 649 C856.33 655.5 824 659.83 799 659 C774 658.17 749 651.5 724 644 C699 636.5 669.83 625.67 649 614 C628.17 602.33 615.67 589 599 574 C582.33 559 565.67 540.67 549 524 C532.33 507.33 514 493.17 499 474 C484 454.83 464.83 426.5 459 409 C453.17 391.5 457.33 385.67 464 369 C470.67 352.33 489 329 499 309 C509 289 511.5 270.67 524 249 C536.5 227.33 559.67 198.83 574 179 C588.33 159.17 597.5 144.83 610 130 C622.5 115.17 634 95.83 649 90 Z" fill-opacity="0.16" stroke="none"/>
<path d="M660 150 C682.5 151.67 721.67 179.33 745 200 C768.33 220.67 785 249.17 800 274 C815 298.83 824.67 324 835 349 C845.33 374 855.83 395.5 862 424 C868.17 452.5 870.33 490.67 872 520 C873.67 549.33 884.17 581.67 872 600 C859.83 618.33 823.67 627.5 799 630 C774.33 632.5 749 622.5 724 615 C699 607.5 669.83 596.67 649 585 C628.17 573.33 615.67 560 599 545 C582.33 530 563.83 512.5 549 495 C534.17 477.5 518.17 459.17 510 440 C501.83 420.83 496.67 401.83 500 380 C503.33 358.17 520 330.83 530 309 C540 287.17 546.67 268.83 560 249 C573.33 229.17 593.33 206.5 610 190 C626.67 173.5 637.5 148.33 660 150 Z" fill-opacity="0.14" stroke="none"/>
<path d="M30 330 C34.83 302.33 45.83 340.83 59 354 C72.17 367.17 94 390.67 109 409 C124 427.33 136.5 444 149 464 C161.5 484 175.67 510.67 184 529 C192.33 547.33 189.83 555.67 199 574 C208.17 592.33 224.83 616.5 239 639 C253.17 661.5 269 686.5 284 709 C299 731.5 314 752.33 329 774 C344 795.67 358.83 814.67 374 839 C389.17 863.33 404 891.5 420 920 C436 948.5 453.33 980 470 1010 C486.67 1040 505.83 1072.5 520 1100 C534.17 1127.5 551.67 1161.33 555 1175 C558.33 1188.67 550.83 1192.83 540 1182 C529.17 1171.17 508.33 1135.33 490 1110 C471.67 1084.67 450 1056.67 430 1030 C410 1003.33 391.83 973.5 370 950 C348.17 926.5 319.17 912.5 299 889 C278.83 865.5 265.67 834 249 809 C232.33 784 215.67 763.17 199 739 C182.33 714.83 165.67 687.33 149 664 C132.33 640.67 114 618.17 99 599 C84 579.83 70.5 562.17 59 549 C47.5 535.83 34.83 556.5 30 520 C25.17 483.5 25.17 357.67 30 330 Z" fill-opacity="0.34" stroke="none"/>
<path d="M40 360 C50 341.67 83.33 401 100 420 C116.67 439 127.5 454.17 140 474 C152.5 493.83 166.67 520.67 175 539 C183.33 557.33 180.83 565.67 190 584 C199.17 602.33 216 626.5 230 649 C244 671.5 259.17 696.5 274 719 C288.83 741.5 304 762.33 319 784 C334 805.67 348.83 824.67 364 849 C379.17 873.33 397.33 906.5 410 930 C422.67 953.5 445 988.33 440 990 C435 991.67 401.83 958.5 380 940 C358.17 921.5 329.17 902.5 309 879 C288.83 855.5 275.67 824 259 799 C242.33 774 225.67 753.17 209 729 C192.33 704.83 175.67 677.33 159 654 C142.33 630.67 128.83 609.67 109 589 C89.17 568.33 51.5 568.17 40 530 C28.5 491.83 30 378.33 40 360 Z" fill-opacity="0.2" stroke="none"/>
<path d="M990 60 C1005 41 1043.33 41 1055 60 C1066.67 79 1055.83 138.33 1060 174 C1064.17 209.67 1073.33 240.67 1080 274 C1086.67 307.33 1091.67 340.67 1100 374 C1108.33 407.33 1121.67 440.67 1130 474 C1138.33 507.33 1142.5 540.67 1150 574 C1157.5 607.33 1164.17 644.83 1175 674 C1185.83 703.17 1200 724 1215 749 C1230 774 1250.83 800.67 1265 824 C1279.17 847.33 1287.17 868 1300 889 C1312.83 910 1328.33 923.17 1342 950 C1355.67 976.83 1373.67 1021.67 1382 1050 C1390.33 1078.33 1384.83 1106.67 1392 1120 C1399.17 1133.33 1425 1119.67 1425 1130 C1425 1140.33 1399.17 1156.67 1392 1182 C1384.83 1207.33 1387 1245.33 1382 1282 C1377 1318.67 1368.67 1365.33 1362 1402 C1355.33 1438.67 1346.5 1465.67 1342 1502 C1337.5 1538.33 1342 1600.33 1335 1620 C1328 1639.67 1305.83 1648 1300 1620 C1294.17 1592 1303.33 1505 1300 1452 C1296.67 1399 1290 1347 1280 1302 C1270 1257 1256.67 1217 1240 1182 C1223.33 1147 1196.67 1113.67 1180 1092 C1163.33 1070.33 1149.17 1074 1140 1052 C1130.83 1030 1126.67 987.17 1125 960 C1123.33 932.83 1130.83 915.83 1130 889 C1129.17 862.17 1125 830.67 1120 799 C1115 767.33 1106.67 732.33 1100 699 C1093.33 665.67 1088.33 632.33 1080 599 C1071.67 565.67 1060.83 532.33 1050 499 C1039.17 465.67 1025 432.33 1015 399 C1005 365.67 998.33 336.5 990 299 C981.67 261.5 965 213.83 965 174 C965 134.17 975 79 990 60 Z" fill-opacity="0.24" stroke="none"/>
<path d="M1100 620 C1107.5 603.5 1137.5 591 1150 600 C1162.5 609 1164.17 649.17 1175 674 C1185.83 698.83 1200 724 1215 749 C1230 774 1250.83 800.67 1265 824 C1279.17 847.33 1287.17 868 1300 889 C1312.83 910 1329 923.17 1342 950 C1355 976.83 1370.67 1021.67 1378 1050 C1385.33 1078.33 1385.33 1098 1386 1120 C1386.67 1142 1383.83 1155 1382 1182 C1380.17 1209 1379.5 1245.33 1375 1282 C1370.5 1318.67 1364.17 1375.67 1355 1402 C1345.83 1428.33 1330.83 1456.67 1320 1440 C1309.17 1423.33 1301.67 1345 1290 1302 C1278.33 1259 1266.67 1217 1250 1182 C1233.33 1147 1207.5 1113.67 1190 1092 C1172.5 1070.33 1155 1074 1145 1052 C1135 1030 1131.67 987.17 1130 960 C1128.33 932.83 1135.83 915.83 1135 889 C1134.17 862.17 1130 830.67 1125 799 C1120 767.33 1109.17 728.83 1105 699 C1100.83 669.17 1092.5 636.5 1100 620 Z" fill-opacity="0.3" stroke="none"/>
<path d="M1320 60 C1350.83 41 1490 41 1525 60 C1560 79 1527.5 138.33 1530 174 C1532.5 209.67 1536.67 244.83 1540 274 C1543.33 303.17 1545 319.83 1550 349 C1555 378.17 1568.33 419.83 1570 449 C1571.67 478.17 1565 503.17 1560 524 C1555 544.83 1547.5 571.5 1540 574 C1532.5 576.5 1529.17 555.67 1515 539 C1500.83 522.33 1471.67 501.5 1455 474 C1438.33 446.5 1427.5 407.33 1415 374 C1402.5 340.67 1392.5 307.33 1380 274 C1367.5 240.67 1350 209.67 1340 174 C1330 138.33 1289.17 79 1320 60 Z" fill-opacity="0.15" stroke="none"/>
<path d="M189 60 C213 46.33 338.83 48.33 364 60 C389.17 71.67 350.83 111 340 130 C329.17 149 314.17 160 299 174 C283.83 188 262.17 219.33 249 214 C235.83 208.67 230 167.67 220 142 C210 116.33 165 73.67 189 60 Z" fill-opacity="0.12" stroke="none"/>
<path d="M649 74 C648.33 80 646.5 99.17 645 110 C643.5 120.83 640.83 134.17 640 139" fill="none" stroke-opacity="0.1" stroke-width="12"/>
</g>
<g fill="#22e022" opacity="0.5" filter="url(#bl25)">
<circle cx="700" cy="570" r="50"/>
<circle cx="280" cy="720" r="30"/>
<circle cx="1290" cy="1200" r="60"/>
<circle cx="1460" cy="250" r="28"/>
<circle cx="1250" cy="800" r="40"/>
</g>
</g>
<g fill="#2634d6" filter="url(#bl4)">
<ellipse cx="674" cy="374" rx="86" ry="142" transform="rotate(-12 674 374)"/>
<ellipse cx="109" cy="499" rx="60" ry="104" transform="rotate(-28 109 499)"/>
<ellipse cx="1245" cy="985" rx="75" ry="128" transform="rotate(-12 1245 985)"/>
<ellipse cx="1420" cy="62" rx="60" ry="36" transform="rotate(0 1420 62)"/>
</g>
<g fill="#30e0a0" filter="url(#spk)" opacity="0.8">
<ellipse cx="674" cy="374" rx="78" ry="134" transform="rotate(-12 674 374)"/>
<ellipse cx="109" cy="499" rx="52" ry="96" transform="rotate(-28 109 499)"/>
<ellipse cx="1245" cy="985" rx="67" ry="120" transform="rotate(-12 1245 985)"/>
<ellipse cx="1420" cy="62" rx="52" ry="28" transform="rotate(0 1420 62)"/>
</g>
<g fill="#ff6a90" opacity="1" filter="url(#bl4)">
<circle cx="114" cy="499" r="17"/>
<circle cx="1258" cy="905" r="13"/>
<circle cx="1292" cy="968" r="11"/>
<circle cx="1277" cy="1020" r="13"/>
</g>
<svg x="60" y="1207" width="608" height="400" viewBox="60 1207 608 400" preserveAspectRatio="none">
<rect x="60" y="1207" width="608" height="400" fill="#000"/>
<g filter="url(#texI)">
<rect x="20" y="1170" width="700" height="480" fill="#e06c10"/>
</g>
<g filter="url(#texI)" style="mix-blend-mode:screen" opacity="0.85">
<path d="M20 1640 C-43.33 1610 -10 1510 20 1460 C50 1410 148.33 1368.33 200 1340 C251.67 1311.67 293.33 1291.67 330 1290 C366.67 1288.33 400 1300 420 1330 C440 1360 453.33 1418.33 450 1470 C446.67 1521.67 471.67 1611.67 400 1640 C328.33 1668.33 83.33 1670 20 1640 Z" fill="#58c018"/>
</g>
<ellipse cx="105" cy="1340" rx="142" ry="158" fill="#2a35d8" filter="url(#bl10)"/>
</svg>
<path d="M60 1210 L668 1210 L668 1604" fill="none" stroke="#fff" stroke-width="8"/>
<line x1="380" y1="1320" x2="380" y2="1476" stroke="#fff" stroke-width="4"/>
<path d="M380 1502 L369 1476 L391 1476 Z" fill="#fff"/>
<rect x="747" y="459" width="120" height="95" fill="none" stroke="#fff" stroke-width="5"/>
<line x1="797" y1="473" x2="797" y2="517" stroke="#fff" stroke-width="3"/>
<path d="M797 535 L790 517 L804 517 Z" fill="#fff"/>
<text x="1387" y="1500" font-size="70" font-weight="bold" fill="#fff" textLength="210" lengthAdjust="spacingAndGlyphs">10µm</text>
<line x1="1478" y1="1527" x2="1576" y2="1527" stroke="#fff" stroke-width="6"/>
</svg></g>
<g id="panel-b"><text x="1109" y="28.8" font-size="37" font-weight="bold">b</text>
<line x1="1145.7" y1="78.6" x2="1177.7" y2="78.6" stroke="#ff6a0c" stroke-width="6"/>
<text x="1186" y="88" font-size="30">BioCyTASQ</text>
<line x1="1370" y1="78.6" x2="1403" y2="78.6" stroke="#12c412" stroke-width="6"/>
<text x="1411" y="88" font-size="30.3">TOMM20</text>
<line x1="1194.3" y1="145.15" x2="1194.3" y2="358.25" stroke="#000" stroke-width="2.3"/>
<line x1="1185.3" y1="357.1" x2="1510.9" y2="357.1" stroke="#000" stroke-width="2.3"/>
<line x1="1185.3" y1="146.3" x2="1194.3" y2="146.3" stroke="#000" stroke-width="2.3"/>
<line x1="1185.3" y1="252" x2="1194.3" y2="252" stroke="#000" stroke-width="2.3"/>
<line x1="1194.3" y1="357.1" x2="1194.3" y2="367.1" stroke="#000" stroke-width="2.3"/>
<line x1="1334.3" y1="357.1" x2="1334.3" y2="367.1" stroke="#000" stroke-width="2.3"/>
<line x1="1474.9" y1="357.1" x2="1474.9" y2="367.1" stroke="#000" stroke-width="2.3"/>
<text x="1184.2" y="152.2" font-size="20" text-anchor="end">10000</text>
<text x="1182.3" y="257.9" font-size="20" text-anchor="end">5000</text>
<text x="1185.5" y="363" font-size="20" text-anchor="end">0</text>
<text x="1195.4" y="382.3" font-size="20" text-anchor="middle">0</text>
<text x="1339.3" y="382.3" font-size="20" text-anchor="middle">2000</text>
<text x="1479.1" y="382.3" font-size="20" text-anchor="middle">4000</text>
<text x="1360.8" y="148.6" font-size="30" text-anchor="middle" font-weight="bold">DMSO</text>
<text transform="translate(1115.5 246.5) rotate(-90)" font-size="25.5" text-anchor="middle">Intensity (A.U.)</text>
<text x="1201" y="347" font-size="23.6" font-weight="bold" fill="#222">R² = 0.87</text>
<path d="M1194.29 228.57 C1195.54 230.67 1200.13 239.5 1202.86 242.86 C1205.58 246.21 1210.34 253.52 1212.86 251.43 C1215.37 249.33 1217.7 234.65 1220 228.57 C1222.3 222.5 1226.06 212.93 1228.57 210 C1231.09 207.07 1234.84 207.1 1237.14 208.57 C1239.45 210.04 1242.19 214.13 1244.29 220 C1246.38 225.87 1249.33 239.35 1251.43 248.57 C1253.52 257.79 1256.48 275.73 1258.57 282.86 C1260.67 289.98 1263.41 294.63 1265.71 297.14 C1268.02 299.66 1271.77 298.74 1274.29 300 C1276.8 301.26 1280.34 303.83 1282.86 305.71 C1285.37 307.6 1288.91 311.39 1291.43 312.86 C1293.94 314.32 1297.49 317.18 1300 315.71 C1302.51 314.25 1306.06 306.63 1308.57 302.86 C1311.09 299.09 1314.63 291.05 1317.14 290 C1319.66 288.95 1322.78 293.83 1325.71 295.71 C1328.65 297.6 1334.21 302.65 1337.14 302.86 C1340.08 303.07 1343.2 300.08 1345.71 297.14 C1348.23 294.21 1351.77 286 1354.29 282.86 C1356.8 279.71 1360.34 275.71 1362.86 275.71 C1365.37 275.71 1369.33 280.97 1371.43 282.86 C1373.52 284.74 1375.47 289.83 1377.14 288.57 C1378.82 287.31 1380.76 280.99 1382.86 274.29 C1384.95 267.58 1388.7 250.4 1391.43 242.86 C1394.15 235.31 1398.91 224.11 1401.43 222.86 C1403.94 221.6 1406.27 226.74 1408.57 234.29 C1410.88 241.83 1414.63 263.39 1417.14 274.29 C1419.66 285.18 1423.2 302.08 1425.71 308.57 C1428.23 315.07 1431.77 316.06 1434.29 318.57 C1436.8 321.09 1440.34 322.99 1442.86 325.71 C1445.37 328.44 1448.5 335.05 1451.43 337.14 C1454.36 339.24 1459.5 339.37 1462.86 340 C1466.21 340.63 1470.93 341.22 1474.29 341.43 C1477.64 341.64 1482.36 341.01 1485.71 341.43 C1489.07 341.85 1493.46 343.03 1497.14 344.29 C1500.83 345.54 1508.85 349.16 1510.86 350" fill="none" stroke="#ff6a0c" stroke-width="6" stroke-linejoin="round"/>
<path d="M1194.29 231.43 C1195.43 233.71 1200.95 245.71 1202.86 248.57 C1204.76 251.43 1206.67 257.05 1208.57 252.86 C1210.48 248.67 1214.86 225.33 1217.14 217.14 C1219.43 208.95 1223.43 191.43 1225.71 191.43 C1228 191.43 1232 209.14 1234.29 217.14 C1236.57 225.14 1240.57 242.29 1242.86 251.43 C1245.14 260.57 1249.33 279.05 1251.43 285.71 C1253.52 292.38 1256.48 299.52 1258.57 301.43 C1260.67 303.33 1264.29 298.86 1267.14 300 C1270 301.14 1276.38 307.52 1280 310 C1283.62 312.48 1290.86 316.67 1294.29 318.57 C1297.71 320.48 1302.86 323.14 1305.71 324.29 C1308.57 325.43 1312.67 327.26 1315.71 327.14 C1318.76 327.03 1325.33 324.08 1328.57 323.43 C1331.81 322.78 1336.57 324.27 1340 322.29 C1343.43 320.3 1350.86 311.16 1354.29 308.57 C1357.71 305.98 1363.05 304.38 1365.71 302.86 C1368.38 301.33 1372 299.81 1374.29 297.14 C1376.57 294.48 1380.57 288.95 1382.86 282.86 C1385.14 276.76 1388.95 259.24 1391.43 251.43 C1393.9 243.62 1398.76 225.05 1401.43 224.29 C1404.1 223.52 1408.57 236.38 1411.43 245.71 C1414.29 255.05 1420.19 283.24 1422.86 294.29 C1425.52 305.33 1429.33 323.05 1431.43 328.57 C1433.52 334.1 1435.9 335.33 1438.57 335.71 C1441.24 336.1 1448.19 331.24 1451.43 331.43 C1454.67 331.62 1459.81 335.81 1462.86 337.14 C1465.9 338.48 1471.24 340.67 1474.29 341.43 C1477.33 342.19 1482.67 342.29 1485.71 342.86 C1488.76 343.43 1494.86 345.71 1497.14 345.71 C1499.43 345.71 1501.03 344.38 1502.86 342.86 C1504.69 341.33 1509.79 335.43 1510.86 334.29" fill="none" stroke="#12c412" stroke-width="6" stroke-linejoin="round"/>
<line x1="1191.4" y1="455.45" x2="1191.4" y2="676.85" stroke="#000" stroke-width="2.3"/>
<line x1="1182.4" y1="675.7" x2="1539.4" y2="675.7" stroke="#000" stroke-width="2.3"/>
<line x1="1182.4" y1="456.6" x2="1191.4" y2="456.6" stroke="#000" stroke-width="2.3"/>
<line x1="1182.4" y1="530" x2="1191.4" y2="530" stroke="#000" stroke-width="2.3"/>
<line x1="1182.4" y1="602.9" x2="1191.4" y2="602.9" stroke="#000" stroke-width="2.3"/>
<line x1="1191.4" y1="675.7" x2="1191.4" y2="685.7" stroke="#000" stroke-width="2.3"/>
<line x1="1330.9" y1="675.7" x2="1330.9" y2="685.7" stroke="#000" stroke-width="2.3"/>
<line x1="1469.4" y1="675.7" x2="1469.4" y2="685.7" stroke="#000" stroke-width="2.3"/>
<text x="1181" y="462.4" font-size="20.3" text-anchor="end">15000</text>
<text x="1181" y="535.8" font-size="20.3" text-anchor="end">10000</text>
<text x="1181" y="608.7" font-size="20.3" text-anchor="end">5000</text>
<text x="1171.6" y="681.5" font-size="20.3" text-anchor="end">0</text>
<text x="1195.1" y="699.4" font-size="20.2" text-anchor="middle">0</text>
<text x="1331.4" y="699.4" font-size="20.2" text-anchor="middle">2000</text>
<text x="1470" y="699.4" font-size="20.2" text-anchor="middle">4000</text>
<text x="1360.6" y="460.6" font-size="30.6" text-anchor="middle" font-weight="bold">PhenDC3</text>
<text transform="translate(1115.5 558.6) rotate(-90)" font-size="25.6" text-anchor="middle">Intensity (A.U.)</text>
<text x="1204" y="665" font-size="23.6" font-weight="bold" fill="#222">R² = 0.21</text>
<text x="1371.2" y="737.7" font-size="26" text-anchor="middle">Distance (nm)</text>
<path d="M1191.43 581.43 C1193.1 581.67 1198.1 583.1 1201.43 582.86 C1204.76 582.62 1208.33 578.81 1211.43 580 C1214.52 581.19 1217.14 585.48 1220 590 C1222.86 594.52 1225.71 602.76 1228.57 607.14 C1231.43 611.52 1234.29 615.19 1237.14 616.29 C1240 617.38 1242.62 613.48 1245.71 613.71 C1248.81 613.95 1252.86 619.05 1255.71 617.71 C1258.57 616.38 1260.24 612.48 1262.86 605.71 C1265.48 598.95 1268.57 584.76 1271.43 577.14 C1274.29 569.52 1276.67 563.71 1280 560 C1283.33 556.29 1288.1 557.24 1291.43 554.86 C1294.76 552.48 1297.38 548.19 1300 545.71 C1302.62 543.24 1304.76 539.52 1307.14 540 C1309.52 540.48 1311.9 542.38 1314.29 548.57 C1316.67 554.76 1319.05 567.86 1321.43 577.14 C1323.81 586.43 1325.95 597.38 1328.57 604.29 C1331.19 611.19 1333.81 613.1 1337.14 618.57 C1340.48 624.05 1345.24 632.71 1348.57 637.14 C1351.9 641.57 1354.05 643.24 1357.14 645.14 C1360.24 647.05 1363.81 648.71 1367.14 648.57 C1370.48 648.43 1374.05 645.95 1377.14 644.29 C1380.24 642.62 1382.86 640.71 1385.71 638.57 C1388.57 636.43 1391.43 635.95 1394.29 631.43 C1397.14 626.9 1400.48 617.62 1402.86 611.43 C1405.24 605.24 1406.67 597.71 1408.57 594.29 C1410.48 590.86 1411.9 589.9 1414.29 590.86 C1416.67 591.81 1420.48 597.67 1422.86 600 C1425.24 602.33 1425.71 603.67 1428.57 604.86 C1431.43 606.05 1436.67 605.67 1440 607.14 C1443.33 608.62 1445.71 610.86 1448.57 613.71 C1451.43 616.57 1453.81 621.81 1457.14 624.29 C1460.48 626.76 1465.24 628.43 1468.57 628.57 C1471.9 628.71 1474.52 626.43 1477.14 625.14 C1479.76 623.86 1480.95 621.1 1484.29 620.86 C1487.62 620.62 1492.14 623.48 1497.14 623.71 C1502.14 623.95 1509.52 623.14 1514.29 622.29 C1519.05 621.43 1522.38 619.9 1525.71 618.57 C1529.05 617.24 1532 615 1534.29 614.29 C1536.57 613.57 1538.57 614.29 1539.43 614.29" fill="none" stroke="#12c412" stroke-width="6" stroke-linejoin="round"/>
<path d="M1191.43 504.29 C1193.1 504.9 1198.1 508.14 1201.43 508 C1204.76 507.86 1207.86 501.43 1211.43 503.43 C1215 505.43 1219.05 514.76 1222.86 520 C1226.67 525.24 1230 533.33 1234.29 534.86 C1238.57 536.38 1244.76 533.52 1248.57 529.14 C1252.38 524.76 1254.29 516.29 1257.14 508.57 C1260 500.86 1262.62 488.81 1265.71 482.86 C1268.81 476.9 1272.38 473.33 1275.71 472.86 C1279.05 472.38 1282.62 475 1285.71 480 C1288.81 485 1291.43 495.24 1294.29 502.86 C1297.14 510.48 1300.48 520.71 1302.86 525.71 C1305.24 530.71 1306.19 530.48 1308.57 532.86 C1310.95 535.24 1314.29 536.43 1317.14 540 C1320 543.57 1323.33 550.24 1325.71 554.29 C1328.1 558.33 1328.57 562.38 1331.43 564.29 C1334.29 566.19 1339.52 563.57 1342.86 565.71 C1346.19 567.86 1348.81 572.86 1351.43 577.14 C1354.05 581.43 1356.43 588.1 1358.57 591.43 C1360.71 594.76 1362.62 599.05 1364.29 597.14 C1365.95 595.24 1366.43 584.76 1368.57 580 C1370.71 575.24 1374.29 570.38 1377.14 568.57 C1380 566.76 1382.86 568.19 1385.71 569.14 C1388.57 570.1 1391.43 572.71 1394.29 574.29 C1397.14 575.86 1400 578.81 1402.86 578.57 C1405.71 578.33 1408.57 575.24 1411.43 572.86 C1414.29 570.48 1417.14 566.67 1420 564.29 C1422.86 561.9 1425.71 561.67 1428.57 558.57 C1431.43 555.48 1434.29 550.71 1437.14 545.71 C1440 540.71 1442.38 534.29 1445.71 528.57 C1449.05 522.86 1453.81 517.62 1457.14 511.43 C1460.48 505.24 1463.33 496.43 1465.71 491.43 C1468.1 486.43 1469.52 481.9 1471.43 481.43 C1473.33 480.95 1474.76 482.62 1477.14 488.57 C1479.52 494.52 1482.86 509.52 1485.71 517.14 C1488.57 524.76 1491.43 527.62 1494.29 534.29 C1497.14 540.95 1500 548.57 1502.86 557.14 C1505.71 565.71 1508.57 577.14 1511.43 585.71 C1514.29 594.29 1517.38 602.95 1520 608.57 C1522.62 614.19 1524.76 618 1527.14 619.43 C1529.52 620.86 1532.24 617.76 1534.29 617.14 C1536.33 616.52 1538.57 615.95 1539.43 615.71" fill="none" stroke="#ff6a0c" stroke-width="6" stroke-linejoin="round"/>
<text transform="translate(1735.8 184.3) scale(1 1.05)" font-size="28.7" text-anchor="middle">BioCyTASQ / TOMM20</text>
<line x1="1627.4" y1="233.7" x2="1627.4" y2="527.72" stroke="#000" stroke-width="2"/>
<line x1="1615.25" y1="526.92" x2="1860" y2="526.92" stroke="#000" stroke-width="2"/>
<line x1="1615.25" y1="234.5" x2="1627.4" y2="234.5" stroke="#000" stroke-width="2"/>
<text transform="translate(1612.04 242.7) scale(1 1.1)" font-size="21" text-anchor="end">1.0</text>
<line x1="1615.25" y1="293.17" x2="1627.4" y2="293.17" stroke="#000" stroke-width="2"/>
<text transform="translate(1612.04 301.37) scale(1 1.1)" font-size="21" text-anchor="end">0.8</text>
<line x1="1615.25" y1="351.6" x2="1627.4" y2="351.6" stroke="#000" stroke-width="2"/>
<text transform="translate(1612.04 359.8) scale(1 1.1)" font-size="21" text-anchor="end">0.6</text>
<line x1="1615.25" y1="410.04" x2="1627.4" y2="410.04" stroke="#000" stroke-width="2"/>
<text transform="translate(1612.04 418.24) scale(1 1.1)" font-size="21" text-anchor="end">0.4</text>
<line x1="1615.25" y1="468.25" x2="1627.4" y2="468.25" stroke="#000" stroke-width="2"/>
<text transform="translate(1612.04 476.45) scale(1 1.1)" font-size="21" text-anchor="end">0.2</text>
<text transform="translate(1612.04 535.12) scale(1 1.1)" font-size="21" text-anchor="end">0.0</text>
<line x1="1692.71" y1="526.92" x2="1692.71" y2="539.06" stroke="#000" stroke-width="2"/>
<line x1="1792.85" y1="526.92" x2="1792.85" y2="539.06" stroke="#000" stroke-width="2"/>
<text transform="translate(1558.5 379.79) rotate(-90)" font-size="23" text-anchor="middle" dy="8">R²</text>
<rect x="1660.17" y="302.79" width="66.46" height="224.13" fill="#000"/>
<rect x="1759.85" y="451.98" width="66.92" height="74.94" fill="#ff1100"/>
<line x1="1693.17" y1="292.25" x2="1693.17" y2="304.17" stroke="#000" stroke-width="1.9"/>
<line x1="1676.67" y1="292.25" x2="1709.9" y2="292.25" stroke="#000" stroke-width="1.9"/>
<line x1="1793.08" y1="433.65" x2="1793.08" y2="470.77" stroke="#000" stroke-width="1.9"/>
<line x1="1776.35" y1="433.65" x2="1809.58" y2="433.65" stroke="#000" stroke-width="1.9"/>
<line x1="1776.35" y1="470.77" x2="1809.58" y2="470.77" stroke="#000" stroke-width="1.9"/>
<circle cx="1693.17" cy="271.85" r="3.4" fill="#fff" stroke="#000" stroke-width="1.5"/>
<circle cx="1693.17" cy="289.04" r="3.4" fill="#fff" stroke="#000" stroke-width="1.5"/>
<circle cx="1693.17" cy="310.58" r="3.4" fill="#fff" stroke="#000" stroke-width="1.5"/>
<circle cx="1693.17" cy="317.92" r="3.4" fill="#fff" stroke="#000" stroke-width="1.5"/>
<circle cx="1693.17" cy="329.6" r="3.4" fill="#fff" stroke="#000" stroke-width="1.5"/>
<circle cx="1793.08" cy="373.6" r="3.4" fill="#fff" stroke="#000" stroke-width="1.5"/>
<circle cx="1793.08" cy="428.6" r="3.4" fill="#fff" stroke="#000" stroke-width="1.5"/>
<circle cx="1798.81" cy="466.88" r="3.4" fill="#fff" stroke="#000" stroke-width="1.5"/>
<circle cx="1787.12" cy="472.83" r="3.4" fill="#fff" stroke="#000" stroke-width="1.5"/>
<circle cx="1798.81" cy="474.21" r="3.4" fill="#fff" stroke="#000" stroke-width="1.5"/>
<circle cx="1793.08" cy="502.4" r="3.4" fill="#fff" stroke="#000" stroke-width="1.5"/>
<path d="M1692.71 253.75 L1692.71 235.88 L1792.85 235.88 L1792.85 355.73" fill="none" stroke="#000" stroke-width="1.9"/>
<text x="1743.12" y="236.6" font-size="33" text-anchor="middle" stroke="#000" stroke-width="0.5">**</text>
<text x="1649.31" y="578" font-size="28.3">DMSO</text>
<text x="1744.56" y="578" font-size="28" textLength="130" lengthAdjust="spacing">PhenDC3</text></g>
<g id="panel-c"><text x="202.5" y="894.8" font-size="37" font-weight="bold">c</text>
<text transform="translate(691 854) scale(1 1.04)" font-size="28.6" text-anchor="middle" font-weight="bold" letter-spacing="0.9">HCT116</text>
<line x1="392.3" y1="897.3" x2="392.3" y2="1288.8" stroke="#000" stroke-width="2.8"/>
<line x1="375.3" y1="1287.4" x2="1017.7" y2="1287.4" stroke="#000" stroke-width="2.8"/>
<line x1="375.3" y1="898.7" x2="392.3" y2="898.7" stroke="#000" stroke-width="2.8"/>
<text transform="translate(375.4 912.7) scale(1 1.07)" font-size="31.6" text-anchor="end">1.5</text>
<line x1="375.3" y1="1028.2" x2="392.3" y2="1028.2" stroke="#000" stroke-width="2.8"/>
<text transform="translate(375.4 1042.2) scale(1 1.07)" font-size="31.6" text-anchor="end">1.0</text>
<line x1="375.3" y1="1157.6" x2="392.3" y2="1157.6" stroke="#000" stroke-width="2.8"/>
<text transform="translate(375.4 1171.6) scale(1 1.07)" font-size="31.6" text-anchor="end">0.5</text>
<text transform="translate(375.4 1301.4) scale(1 1.07)" font-size="31.6" text-anchor="end">0.0</text>
<line x1="392.3" y1="1287.4" x2="392.3" y2="1302.9" stroke="#000" stroke-width="2.8"/>
<text transform="translate(393.1 1337.5) scale(1 1.05)" font-size="31.4" text-anchor="middle">0</text>
<line x1="516.8" y1="1287.4" x2="516.8" y2="1302.9" stroke="#000" stroke-width="2.8"/>
<text transform="translate(517.6 1337.5) scale(1 1.05)" font-size="31.4" text-anchor="middle">20</text>
<line x1="641.2" y1="1287.4" x2="641.2" y2="1302.9" stroke="#000" stroke-width="2.8"/>
<text transform="translate(642 1337.5) scale(1 1.05)" font-size="31.4" text-anchor="middle">40</text>
<line x1="766.5" y1="1287.4" x2="766.5" y2="1302.9" stroke="#000" stroke-width="2.8"/>
<text transform="translate(767.3 1337.5) scale(1 1.05)" font-size="31.4" text-anchor="middle">60</text>
<line x1="891.4" y1="1287.4" x2="891.4" y2="1302.9" stroke="#000" stroke-width="2.8"/>
<text transform="translate(892.2 1337.5) scale(1 1.05)" font-size="31.4" text-anchor="middle">80</text>
<line x1="1016.3" y1="1287.4" x2="1016.3" y2="1302.9" stroke="#000" stroke-width="2.8"/>
<text transform="translate(1017.1 1337.5) scale(1 1.05)" font-size="31.4" text-anchor="middle">100</text>
<text transform="translate(699.5 1425.5) scale(1 1.04)" font-size="29" text-anchor="middle">Time (min)</text>
<text transform="translate(279.7 1093) rotate(-90) scale(1 1.06)" font-size="29.7" text-anchor="middle">Normalized OCR</text>
<text transform="translate(309.8 1093) rotate(-90) scale(1 1.06)" font-size="28.9" text-anchor="middle">(pmol/min/µg proteins)</text>
<line x1="408.1" y1="876.1" x2="444.6" y2="876.1" stroke="#000" stroke-width="2.6"/>
<ellipse cx="426.4" cy="877" rx="7" ry="8"/>
<text transform="translate(452.5 884.4) scale(1 1.06)" font-size="27.9">DMSO</text>
<line x1="408.1" y1="923.1" x2="444.6" y2="923.1" stroke="#800505" stroke-width="2.6"/>
<rect x="419.55" y="916.25" width="13.7" height="13.7" fill="#800505"/>
<text transform="translate(452.5 932) scale(1 1.06)" font-size="27.9">PhenDC3 5 µM</text>
<line x1="408.1" y1="970.7" x2="444.6" y2="970.7" stroke="#ff0000" stroke-width="2.6"/>
<path d="M426.4 963 L433.3 977.5 L419.5 977.5 Z" fill="#ff0000"/>
<text transform="translate(452.5 979.6) scale(1 1.06)" font-size="27.9">PhenDC3 20 µM</text>
<line x1="401.8" y1="1081.34" x2="401.8" y2="1096.89" stroke="#000" stroke-width="2.6"/><line x1="393.8" y1="1081.34" x2="409.8" y2="1081.34" stroke="#000" stroke-width="2.6"/><line x1="393.8" y1="1096.89" x2="409.8" y2="1096.89" stroke="#000" stroke-width="2.6"/>
<line x1="721.1" y1="1020.94" x2="721.1" y2="1039.6" stroke="#000" stroke-width="2.6"/><line x1="713.1" y1="1020.94" x2="729.1" y2="1020.94" stroke="#000" stroke-width="2.6"/><line x1="713.1" y1="1039.6" x2="729.1" y2="1039.6" stroke="#000" stroke-width="2.6"/>
<path d="M401.8 1089.11 L454.8 1093 L508.4 1096.89 L560.9 1235.56 L613.9 1235.56 L667.2 1235.56 L721.1 1030.27 L774 1019.13 L827.3 1021.98 L880.5 1261.48 L933.8 1260.18 L987 1261.48" fill="none" stroke="#ff0000" stroke-width="2.6"/>
<path d="M401.8 1080.81 L410.05 1096.31 L393.55 1096.31 Z" fill="#ff0000"/>
<path d="M454.8 1084.7 L463.05 1100.2 L446.55 1100.2 Z" fill="#ff0000"/>
<path d="M508.4 1088.59 L516.65 1104.09 L500.15 1104.09 Z" fill="#ff0000"/>
<path d="M560.9 1227.26 L569.15 1242.76 L552.65 1242.76 Z" fill="#ff0000"/>
<path d="M613.9 1227.26 L622.15 1242.76 L605.65 1242.76 Z" fill="#ff0000"/>
<path d="M667.2 1227.26 L675.45 1242.76 L658.95 1242.76 Z" fill="#ff0000"/>
<path d="M721.1 1021.97 L729.35 1037.47 L712.85 1037.47 Z" fill="#ff0000"/>
<path d="M774 1010.83 L782.25 1026.33 L765.75 1026.33 Z" fill="#ff0000"/>
<path d="M827.3 1013.68 L835.55 1029.18 L819.05 1029.18 Z" fill="#ff0000"/>
<path d="M880.5 1253.18 L888.75 1268.68 L872.25 1268.68 Z" fill="#ff0000"/>
<path d="M933.8 1251.88 L942.05 1267.38 L925.55 1267.38 Z" fill="#ff0000"/>
<path d="M987 1253.18 L995.25 1268.68 L978.75 1268.68 Z" fill="#ff0000"/>
<line x1="401.8" y1="1052.05" x2="401.8" y2="1083.15" stroke="#000" stroke-width="2.6"/><line x1="393.8" y1="1052.05" x2="409.8" y2="1052.05" stroke="#000" stroke-width="2.6"/><line x1="393.8" y1="1083.15" x2="409.8" y2="1083.15" stroke="#000" stroke-width="2.6"/>
<line x1="454.8" y1="1063.19" x2="454.8" y2="1086.52" stroke="#000" stroke-width="2.6"/><line x1="446.8" y1="1063.19" x2="462.8" y2="1063.19" stroke="#000" stroke-width="2.6"/><line x1="446.8" y1="1086.52" x2="462.8" y2="1086.52" stroke="#000" stroke-width="2.6"/>
<line x1="508.4" y1="1063.71" x2="508.4" y2="1088.08" stroke="#000" stroke-width="2.6"/><line x1="500.4" y1="1063.71" x2="516.4" y2="1063.71" stroke="#000" stroke-width="2.6"/><line x1="500.4" y1="1088.08" x2="516.4" y2="1088.08" stroke="#000" stroke-width="2.6"/>
<line x1="721.1" y1="955.11" x2="721.1" y2="996.06" stroke="#000" stroke-width="2.6"/><line x1="713.1" y1="955.11" x2="729.1" y2="955.11" stroke="#000" stroke-width="2.6"/><line x1="713.1" y1="996.06" x2="729.1" y2="996.06" stroke="#000" stroke-width="2.6"/>
<line x1="774" y1="962.1" x2="774" y2="989.06" stroke="#000" stroke-width="2.6"/><line x1="766" y1="962.1" x2="782" y2="962.1" stroke="#000" stroke-width="2.6"/><line x1="766" y1="989.06" x2="782" y2="989.06" stroke="#000" stroke-width="2.6"/>
<line x1="827.3" y1="964.7" x2="827.3" y2="993.21" stroke="#000" stroke-width="2.6"/><line x1="819.3" y1="964.7" x2="835.3" y2="964.7" stroke="#000" stroke-width="2.6"/><line x1="819.3" y1="993.21" x2="835.3" y2="993.21" stroke="#000" stroke-width="2.6"/>
<path d="M401.8 1067.6 L454.8 1074.86 L508.4 1075.89 L560.9 1231.67 L613.9 1232.97 L667.2 1232.97 L721.1 975.58 L774 975.58 L827.3 978.95 L880.5 1261.48 L933.8 1258.89 L987 1260.18" fill="none" stroke="#800505" stroke-width="2.6"/>
<rect x="393.7" y="1059.5" width="16.2" height="16.2" fill="#800505"/>
<rect x="446.7" y="1066.76" width="16.2" height="16.2" fill="#800505"/>
<rect x="500.3" y="1067.79" width="16.2" height="16.2" fill="#800505"/>
<rect x="552.8" y="1223.57" width="16.2" height="16.2" fill="#800505"/>
<rect x="605.8" y="1224.87" width="16.2" height="16.2" fill="#800505"/>
<rect x="659.1" y="1224.87" width="16.2" height="16.2" fill="#800505"/>
<rect x="713" y="967.48" width="16.2" height="16.2" fill="#800505"/>
<rect x="765.9" y="967.48" width="16.2" height="16.2" fill="#800505"/>
<rect x="819.2" y="970.85" width="16.2" height="16.2" fill="#800505"/>
<rect x="872.4" y="1253.38" width="16.2" height="16.2" fill="#800505"/>
<rect x="925.7" y="1250.79" width="16.2" height="16.2" fill="#800505"/>
<rect x="978.9" y="1252.08" width="16.2" height="16.2" fill="#800505"/>
<line x1="721.1" y1="923.74" x2="721.1" y2="940.85" stroke="#000" stroke-width="2.6"/><line x1="713.1" y1="923.74" x2="729.1" y2="923.74" stroke="#000" stroke-width="2.6"/><line x1="713.1" y1="940.85" x2="729.1" y2="940.85" stroke="#000" stroke-width="2.6"/>
<line x1="774" y1="929.44" x2="774" y2="946.55" stroke="#000" stroke-width="2.6"/><line x1="766" y1="929.44" x2="782" y2="929.44" stroke="#000" stroke-width="2.6"/><line x1="766" y1="946.55" x2="782" y2="946.55" stroke="#000" stroke-width="2.6"/>
<line x1="827.3" y1="929.96" x2="827.3" y2="947.07" stroke="#000" stroke-width="2.6"/><line x1="819.3" y1="929.96" x2="835.3" y2="929.96" stroke="#000" stroke-width="2.6"/><line x1="819.3" y1="947.07" x2="835.3" y2="947.07" stroke="#000" stroke-width="2.6"/>
<path d="M401.8 1028.2 L454.8 1033.38 L508.4 1038.57 L560.9 1224.41 L613.9 1224.41 L667.2 1224.41 L721.1 932.3 L774 938 L827.3 938.52 L880.5 1257.07 L933.8 1254.61 L987 1257.07" fill="none" stroke="#000" stroke-width="2.6"/>
<circle cx="401.8" cy="1028.2" r="8.4" fill="#000"/>
<circle cx="454.8" cy="1033.38" r="8.4" fill="#000"/>
<circle cx="508.4" cy="1038.57" r="8.4" fill="#000"/>
<circle cx="560.9" cy="1224.41" r="8.4" fill="#000"/>
<circle cx="613.9" cy="1224.41" r="8.4" fill="#000"/>
<circle cx="667.2" cy="1224.41" r="8.4" fill="#000"/>
<circle cx="721.1" cy="932.3" r="8.4" fill="#000"/>
<circle cx="774" cy="938" r="8.4" fill="#000"/>
<circle cx="827.3" cy="938.52" r="8.4" fill="#000"/>
<circle cx="880.5" cy="1257.07" r="8.4" fill="#000"/>
<circle cx="933.8" cy="1254.61" r="8.4" fill="#000"/>
<circle cx="987" cy="1257.07" r="8.4" fill="#000"/></g>
<g id="panel-d"><text x="1226.5" y="895.1" font-size="37" font-weight="bold">d</text>
<line x1="1370.24" y1="915.89" x2="1370.24" y2="1245.37" stroke="#000" stroke-width="2.4"/>
<line x1="1357.14" y1="1244.17" x2="1656.85" y2="1244.17" stroke="#000" stroke-width="2.4"/>
<line x1="1357.14" y1="991.79" x2="1370.24" y2="991.79" stroke="#000" stroke-width="2.4"/>
<text x="1346.1" y="1002.29" font-size="32.5" text-anchor="end">100</text>
<line x1="1357.14" y1="1117.98" x2="1370.24" y2="1117.98" stroke="#000" stroke-width="2.4"/>
<text x="1346.1" y="1128.48" font-size="32.5" text-anchor="end">50</text>
<text x="1346.1" y="1254.67" font-size="32.5" text-anchor="end">0</text>
<line x1="1431.25" y1="1244.17" x2="1431.25" y2="1257.26" stroke="#000" stroke-width="2.4"/>
<line x1="1523.51" y1="1244.17" x2="1523.51" y2="1257.26" stroke="#000" stroke-width="2.4"/>
<line x1="1615.77" y1="1244.17" x2="1615.77" y2="1257.26" stroke="#000" stroke-width="2.4"/>
<rect x="1413.39" y="991.79" width="41.67" height="252.38" fill="#000"/>
<rect x="1505.65" y="1024.52" width="41.67" height="219.64" fill="#ff0000"/>
<rect x="1597.92" y="1028.1" width="41.67" height="216.07" fill="#ff0000"/>
<line x1="1523.51" y1="1020.06" x2="1523.51" y2="1028.39" stroke="#000" stroke-width="2.4"/><line x1="1507.89" y1="1020.06" x2="1539.14" y2="1020.06" stroke="#000" stroke-width="2.4"/><line x1="1507.89" y1="1028.39" x2="1539.14" y2="1028.39" stroke="#000" stroke-width="2.4"/>
<line x1="1615.77" y1="1020.06" x2="1615.77" y2="1035.54" stroke="#000" stroke-width="2.4"/><line x1="1600.45" y1="1020.06" x2="1631.1" y2="1020.06" stroke="#000" stroke-width="2.4"/><line x1="1600.45" y1="1035.54" x2="1631.1" y2="1035.54" stroke="#000" stroke-width="2.4"/>
<circle cx="1419.64" cy="992.38" r="3.4" fill="#fff" stroke="#000" stroke-width="1.6"/>
<circle cx="1432.74" cy="992.38" r="3.4" fill="#fff" stroke="#000" stroke-width="1.6"/>
<circle cx="1445.83" cy="992.38" r="3.4" fill="#fff" stroke="#000" stroke-width="1.6"/>
<circle cx="1522.92" cy="1017.98" r="3.4" fill="#fff" stroke="#000" stroke-width="1.6"/>
<circle cx="1516.07" cy="1029.58" r="3.4" fill="#fff" stroke="#000" stroke-width="1.6"/>
<circle cx="1529.46" cy="1028.1" r="3.4" fill="#fff" stroke="#000" stroke-width="1.6"/>
<circle cx="1609.23" cy="1020.06" r="3.4" fill="#fff" stroke="#000" stroke-width="1.6"/>
<circle cx="1622.02" cy="1022.14" r="3.4" fill="#fff" stroke="#000" stroke-width="1.6"/>
<circle cx="1615.18" cy="1042.98" r="3.4" fill="#fff" stroke="#000" stroke-width="1.6"/>
<line x1="1420.24" y1="928.69" x2="1635.42" y2="928.69" stroke="#000" stroke-width="2.4"/>
<text x="1531.25" y="922.3" font-size="32" text-anchor="middle" stroke="#000" stroke-width="0.5">*</text>
<line x1="1420.24" y1="973.93" x2="1537.8" y2="973.93" stroke="#000" stroke-width="2.4"/>
<text x="1478.27" y="971.2" font-size="32" text-anchor="middle" stroke="#000" stroke-width="0.5">*</text>
<text transform="translate(1250.2 1098) rotate(-90) scale(1 1.04)" font-size="30.3" text-anchor="middle">Active MMP in viable</text>
<text transform="translate(1283.5 1097) rotate(-90) scale(1 1.04)" font-size="30.3" text-anchor="middle">HCT116 cells</text>
<text x="1520.24" y="1297.4" font-size="30" text-anchor="middle">16 h</text>
<text x="1617.26" y="1297.4" font-size="30.4" text-anchor="middle">48 h</text>
<line x1="1485.71" y1="1311.73" x2="1656.85" y2="1311.73" stroke="#000" stroke-width="2.4"/>
<text x="1419.35" y="1341.5" font-size="30.2" text-anchor="middle">DMSO</text>
<text x="1569.94" y="1341.5" font-size="30.3" text-anchor="middle">PhenDC3</text></g>
<g id="panel-e"><text x="50" y="1519.6" font-size="37" font-weight="bold">e</text>
<text x="428.2" y="1512.9" font-size="33.8" text-anchor="middle" font-weight="bold">HCT116</text>
<line x1="229.8" y1="1525.4" x2="627" y2="1525.4" stroke="#000" stroke-width="5.4" stroke-linecap="round"/>
<text x="419.5" y="1580.5" font-size="30.7" text-anchor="middle">Normalized OCR</text>
<text x="420" y="1606.5" font-size="30.6" text-anchor="middle">(pmol/min/µg proteins)</text>
<text x="251" y="1641.5" font-size="26" text-anchor="middle">0</text>
<text x="413.8" y="1641.5" font-size="26" text-anchor="middle">0.5</text>
<text x="578" y="1641.5" font-size="26" text-anchor="middle">1</text>
<rect x="251" y="1661" width="326.5" height="14.8" fill="#000"/>
<rect x="251" y="1683.3" width="259.42" height="14.8" fill="#800505"/>
<rect x="251" y="1705.6" width="244.83" height="14.8" fill="#ff0000"/>
<line x1="235.5" y1="1691" x2="251" y2="1691" stroke="#000" stroke-width="2.4"/>
<line x1="510.42" y1="1691.3" x2="513.54" y2="1691.3" stroke="#000" stroke-width="2.1"/>
<line x1="510.42" y1="1687.1" x2="510.42" y2="1695.5" stroke="#000" stroke-width="2.1"/>
<line x1="513.54" y1="1687.1" x2="513.54" y2="1695.5" stroke="#000" stroke-width="2.1"/>
<line x1="486.88" y1="1713.6" x2="506.25" y2="1713.6" stroke="#000" stroke-width="2.1"/>
<line x1="486.88" y1="1709.4" x2="486.88" y2="1717.8" stroke="#000" stroke-width="2.1"/>
<line x1="506.25" y1="1709.4" x2="506.25" y2="1717.8" stroke="#000" stroke-width="2.1"/>
<circle cx="577.5" cy="1667.8" r="3.7" fill="#fff" stroke="#000" stroke-width="1.5"/>
<circle cx="577.5" cy="1663.4" r="3.7" fill="#fff" stroke="#000" stroke-width="1.5"/>
<circle cx="577.5" cy="1672.2" r="3.7" fill="#fff" stroke="#000" stroke-width="1.5"/>
<circle cx="505.83" cy="1685.21" r="3.7" fill="#fff" stroke="#000" stroke-width="1.5"/>
<circle cx="515.62" cy="1685.21" r="3.7" fill="#fff" stroke="#000" stroke-width="1.5"/>
<circle cx="508.75" cy="1694.17" r="3.7" fill="#fff" stroke="#000" stroke-width="1.5"/>
<circle cx="479.17" cy="1711.67" r="3.7" fill="#fff" stroke="#000" stroke-width="1.5"/>
<circle cx="505.83" cy="1707.08" r="3.7" fill="#fff" stroke="#000" stroke-width="1.5"/>
<circle cx="502.08" cy="1716.88" r="3.7" fill="#fff" stroke="#000" stroke-width="1.5"/>
<line x1="592.7" y1="1666.5" x2="592.7" y2="1686.3" stroke="#000" stroke-width="2.4"/>
<text transform="translate(592.02 1676.9) rotate(90)" font-size="26.5" text-anchor="middle">**</text>
<line x1="623.5" y1="1662.9" x2="623.5" y2="1709.2" stroke="#000" stroke-width="2.4"/>
<text transform="translate(623.92 1686.3) rotate(90)" font-size="26.5" text-anchor="middle">**</text>
<rect x="251" y="1742.9" width="326.5" height="14.8" fill="#000"/>
<rect x="251" y="1765.2" width="246.92" height="14.8" fill="#800505"/>
<rect x="251" y="1787.5" width="239.62" height="14.8" fill="#ff0000"/>
<line x1="235.5" y1="1772.9" x2="251" y2="1772.9" stroke="#000" stroke-width="2.4"/>
<line x1="485.42" y1="1773.2" x2="510.42" y2="1773.2" stroke="#000" stroke-width="2.1"/>
<line x1="485.42" y1="1769" x2="485.42" y2="1777.4" stroke="#000" stroke-width="2.1"/>
<line x1="510.42" y1="1769" x2="510.42" y2="1777.4" stroke="#000" stroke-width="2.1"/>
<line x1="490.62" y1="1795.5" x2="495.83" y2="1795.5" stroke="#000" stroke-width="2.1"/>
<line x1="490.62" y1="1791.3" x2="490.62" y2="1799.7" stroke="#000" stroke-width="2.1"/>
<line x1="495.83" y1="1791.3" x2="495.83" y2="1799.7" stroke="#000" stroke-width="2.1"/>
<circle cx="577.5" cy="1749.7" r="3.7" fill="#fff" stroke="#000" stroke-width="1.5"/>
<circle cx="577.5" cy="1745.3" r="3.7" fill="#fff" stroke="#000" stroke-width="1.5"/>
<circle cx="577.5" cy="1754.1" r="3.7" fill="#fff" stroke="#000" stroke-width="1.5"/>
<circle cx="482.71" cy="1766.88" r="3.7" fill="#fff" stroke="#000" stroke-width="1.5"/>
<circle cx="521.88" cy="1771.25" r="3.7" fill="#fff" stroke="#000" stroke-width="1.5"/>
<circle cx="488.96" cy="1776.25" r="3.7" fill="#fff" stroke="#000" stroke-width="1.5"/>
<circle cx="482.71" cy="1788.96" r="3.7" fill="#fff" stroke="#000" stroke-width="1.5"/>
<circle cx="498.96" cy="1793.96" r="3.7" fill="#fff" stroke="#000" stroke-width="1.5"/>
<circle cx="488.96" cy="1798.33" r="3.7" fill="#fff" stroke="#000" stroke-width="1.5"/>
<line x1="595.8" y1="1748.3" x2="595.8" y2="1771.3" stroke="#000" stroke-width="2.4"/>
<text transform="translate(592.02 1761.3) rotate(90)" font-size="26.5" text-anchor="middle">*</text>
<line x1="624.6" y1="1746.7" x2="624.6" y2="1790.4" stroke="#000" stroke-width="2.4"/>
<text transform="translate(623.92 1769.6) rotate(90)" font-size="26.5" text-anchor="middle">**</text>
<rect x="251" y="1824.8" width="326.5" height="14.8" fill="#000"/>
<rect x="251" y="1847.1" width="255.25" height="14.8" fill="#800505"/>
<rect x="251" y="1869.4" width="242.75" height="14.8" fill="#ff0000"/>
<line x1="235.5" y1="1854.8" x2="251" y2="1854.8" stroke="#000" stroke-width="2.4"/>
<line x1="506.25" y1="1855.1" x2="509.38" y2="1855.1" stroke="#000" stroke-width="2.1"/>
<line x1="506.25" y1="1850.9" x2="506.25" y2="1859.3" stroke="#000" stroke-width="2.1"/>
<line x1="509.38" y1="1850.9" x2="509.38" y2="1859.3" stroke="#000" stroke-width="2.1"/>
<line x1="486.46" y1="1877.4" x2="498.96" y2="1877.4" stroke="#000" stroke-width="2.1"/>
<line x1="486.46" y1="1873.2" x2="486.46" y2="1881.6" stroke="#000" stroke-width="2.1"/>
<line x1="498.96" y1="1873.2" x2="498.96" y2="1881.6" stroke="#000" stroke-width="2.1"/>
<circle cx="577.5" cy="1831.6" r="3.7" fill="#fff" stroke="#000" stroke-width="1.5"/>
<circle cx="577.5" cy="1827.2" r="3.7" fill="#fff" stroke="#000" stroke-width="1.5"/>
<circle cx="577.5" cy="1836" r="3.7" fill="#fff" stroke="#000" stroke-width="1.5"/>
<circle cx="502.08" cy="1849.17" r="3.7" fill="#fff" stroke="#000" stroke-width="1.5"/>
<circle cx="512.08" cy="1849.17" r="3.7" fill="#fff" stroke="#000" stroke-width="1.5"/>
<circle cx="505.21" cy="1858.54" r="3.7" fill="#fff" stroke="#000" stroke-width="1.5"/>
<circle cx="479.17" cy="1875.83" r="3.7" fill="#fff" stroke="#000" stroke-width="1.5"/>
<circle cx="502.08" cy="1871.25" r="3.7" fill="#fff" stroke="#000" stroke-width="1.5"/>
<circle cx="498.96" cy="1880.62" r="3.7" fill="#fff" stroke="#000" stroke-width="1.5"/>
<line x1="593.1" y1="1830" x2="593.1" y2="1851.9" stroke="#000" stroke-width="2.4"/>
<text transform="translate(592.02 1841.5) rotate(90)" font-size="26.5" text-anchor="middle">**</text>
<line x1="622.3" y1="1829" x2="622.3" y2="1875.8" stroke="#000" stroke-width="2.4"/>
<text transform="translate(623.92 1852.9) rotate(90)" font-size="26.5" text-anchor="middle">**</text>
<rect x="251" y="1906.7" width="326.5" height="14.8" fill="#000"/>
<rect x="251" y="1929" width="262.54" height="14.8" fill="#800505"/>
<rect x="251" y="1951.3" width="260.46" height="14.8" fill="#ff0000"/>
<line x1="235.5" y1="1936.7" x2="251" y2="1936.7" stroke="#000" stroke-width="2.4"/>
<line x1="501.67" y1="1937" x2="525" y2="1937" stroke="#000" stroke-width="2.1"/>
<line x1="501.67" y1="1932.8" x2="501.67" y2="1941.2" stroke="#000" stroke-width="2.1"/>
<line x1="525" y1="1932.8" x2="525" y2="1941.2" stroke="#000" stroke-width="2.1"/>
<line x1="501.67" y1="1959.3" x2="520.83" y2="1959.3" stroke="#000" stroke-width="2.1"/>
<line x1="501.67" y1="1955.1" x2="501.67" y2="1963.5" stroke="#000" stroke-width="2.1"/>
<line x1="520.83" y1="1955.1" x2="520.83" y2="1963.5" stroke="#000" stroke-width="2.1"/>
<circle cx="577.5" cy="1913.5" r="3.7" fill="#fff" stroke="#000" stroke-width="1.5"/>
<circle cx="577.5" cy="1909.1" r="3.7" fill="#fff" stroke="#000" stroke-width="1.5"/>
<circle cx="577.5" cy="1917.9" r="3.7" fill="#fff" stroke="#000" stroke-width="1.5"/>
<circle cx="495.83" cy="1935.62" r="3.7" fill="#fff" stroke="#000" stroke-width="1.5"/>
<circle cx="508.33" cy="1935.62" r="3.7" fill="#fff" stroke="#000" stroke-width="1.5"/>
<circle cx="535" cy="1935.62" r="3.7" fill="#fff" stroke="#000" stroke-width="1.5"/>
<circle cx="495.83" cy="1957.71" r="3.7" fill="#fff" stroke="#000" stroke-width="1.5"/>
<circle cx="508.33" cy="1957.71" r="3.7" fill="#fff" stroke="#000" stroke-width="1.5"/>
<circle cx="528.33" cy="1957.71" r="3.7" fill="#fff" stroke="#000" stroke-width="1.5"/>
<line x1="592.1" y1="1912.3" x2="592.1" y2="1933.1" stroke="#000" stroke-width="2.4"/>
<text transform="translate(592.02 1923.8) rotate(90)" font-size="26.5" text-anchor="middle">*</text>
<line x1="620.8" y1="1909.6" x2="620.8" y2="1957.1" stroke="#000" stroke-width="2.4"/>
<text transform="translate(623.92 1935.2) rotate(90)" font-size="26.5" text-anchor="middle">*</text>
<rect x="251" y="1988.6" width="326.5" height="14.8" fill="#000"/>
<rect x="251" y="2010.9" width="243.79" height="14.8" fill="#800505"/>
<rect x="251" y="2033.2" width="228.58" height="14.8" fill="#ff0000"/>
<line x1="235.5" y1="2018.6" x2="251" y2="2018.6" stroke="#000" stroke-width="2.4"/>
<line x1="473.96" y1="2018.9" x2="515.62" y2="2018.9" stroke="#000" stroke-width="2.1"/>
<line x1="473.96" y1="2014.7" x2="473.96" y2="2023.1" stroke="#000" stroke-width="2.1"/>
<line x1="515.62" y1="2014.7" x2="515.62" y2="2023.1" stroke="#000" stroke-width="2.1"/>
<line x1="469.17" y1="2041.2" x2="487.5" y2="2041.2" stroke="#000" stroke-width="2.1"/>
<line x1="469.17" y1="2037" x2="469.17" y2="2045.4" stroke="#000" stroke-width="2.1"/>
<line x1="487.5" y1="2037" x2="487.5" y2="2045.4" stroke="#000" stroke-width="2.1"/>
<circle cx="577.5" cy="1995.4" r="3.7" fill="#fff" stroke="#000" stroke-width="1.5"/>
<circle cx="577.5" cy="1991" r="3.7" fill="#fff" stroke="#000" stroke-width="1.5"/>
<circle cx="577.5" cy="1999.8" r="3.7" fill="#fff" stroke="#000" stroke-width="1.5"/>
<circle cx="459.79" cy="2017.5" r="3.7" fill="#fff" stroke="#000" stroke-width="1.5"/>
<circle cx="492.29" cy="2017.5" r="3.7" fill="#fff" stroke="#000" stroke-width="1.5"/>
<circle cx="531.67" cy="2017.5" r="3.7" fill="#fff" stroke="#000" stroke-width="1.5"/>
<circle cx="459.79" cy="2039.79" r="3.7" fill="#fff" stroke="#000" stroke-width="1.5"/>
<circle cx="492.29" cy="2035.21" r="3.7" fill="#fff" stroke="#000" stroke-width="1.5"/>
<circle cx="485.83" cy="2044.58" r="3.7" fill="#fff" stroke="#000" stroke-width="1.5"/>
<line x1="592.1" y1="1994.6" x2="592.1" y2="2019.6" stroke="#000" stroke-width="2.4"/>
<text transform="translate(597.74 2010.2) rotate(90)" font-size="29.5" text-anchor="middle">0.05</text>
<line x1="624.6" y1="1990.8" x2="624.6" y2="2040.4" stroke="#000" stroke-width="2.4"/>
<text transform="translate(619.72 2013.8) rotate(90)" font-size="26.5" text-anchor="middle">*</text>
<line x1="251" y1="1652.2" x2="251" y2="2056" stroke="#000" stroke-width="3"/>
<line x1="249.5" y1="1653.6" x2="611.5" y2="1653.6" stroke="#000" stroke-width="2.8"/>
<line x1="251" y1="1643.6" x2="251" y2="1653.6" stroke="#000" stroke-width="2.5"/>
<line x1="414.25" y1="1643.6" x2="414.25" y2="1653.6" stroke="#000" stroke-width="2.5"/>
<line x1="577.5" y1="1643.6" x2="577.5" y2="1653.6" stroke="#000" stroke-width="2.5"/>
<line x1="332.62" y1="1648.1" x2="332.62" y2="1653.6" stroke="#000" stroke-width="2.5"/>
<line x1="495.88" y1="1648.1" x2="495.88" y2="1653.6" stroke="#000" stroke-width="2.5"/>
<text x="236.5" y="1688.4" font-size="31.3" text-anchor="end">Basal</text>
<text x="235.9" y="1718" font-size="31.3" text-anchor="end">respiration</text>
<text x="236.5" y="1767.9" font-size="31.3" text-anchor="end">Maximal</text>
<text x="235.9" y="1797.5" font-size="31.3" text-anchor="end">respiration</text>
<text x="235.1" y="1847.4" font-size="31.3" text-anchor="end">ATP</text>
<text x="235.1" y="1877" font-size="31.3" text-anchor="end">production</text>
<text x="235.1" y="1926.9" font-size="31.3" text-anchor="end">Proton</text>
<text x="235.1" y="1956.5" font-size="31.3" text-anchor="end">leak</text>
<text x="240.5" y="2006.4" font-size="31.3" text-anchor="end">Spare respiratory</text>
<text x="240.5" y="2036" font-size="31.3" text-anchor="end">capacity</text>
<text x="949.2" y="1512.7" font-size="33.8" text-anchor="middle" font-weight="bold">HeLa</text>
<line x1="751.6" y1="1525.2" x2="1148" y2="1525.2" stroke="#000" stroke-width="5.4" stroke-linecap="round"/>
<text x="936.6" y="1580.5" font-size="30.7" text-anchor="middle">Normalized OCR</text>
<text x="937" y="1606.5" font-size="30.6" text-anchor="middle">(pmol/min/µg proteins)</text>
<text x="764.3" y="1641.5" font-size="26" text-anchor="middle">0</text>
<text x="926" y="1641.5" font-size="26" text-anchor="middle">0.5</text>
<text x="1087" y="1641.5" font-size="26" text-anchor="middle">1</text>
<rect x="763.6" y="1661" width="324" height="14.8" fill="#000"/>
<rect x="763.6" y="1683.3" width="236.64" height="14.8" fill="#800505"/>
<rect x="763.6" y="1705.6" width="205.09" height="14.8" fill="#ff0000"/>
<line x1="748.1" y1="1691" x2="763.6" y2="1691" stroke="#000" stroke-width="2.4"/>
<line x1="965.12" y1="1691.3" x2="1036.55" y2="1691.3" stroke="#000" stroke-width="2.1"/>
<line x1="965.12" y1="1687.1" x2="965.12" y2="1695.5" stroke="#000" stroke-width="2.1"/>
<line x1="1036.55" y1="1687.1" x2="1036.55" y2="1695.5" stroke="#000" stroke-width="2.1"/>
<line x1="959.17" y1="1713.6" x2="978.51" y2="1713.6" stroke="#000" stroke-width="2.1"/>
<line x1="959.17" y1="1709.4" x2="959.17" y2="1717.8" stroke="#000" stroke-width="2.1"/>
<line x1="978.51" y1="1709.4" x2="978.51" y2="1717.8" stroke="#000" stroke-width="2.1"/>
<circle cx="1087.6" cy="1667.8" r="3.7" fill="#fff" stroke="#000" stroke-width="1.5"/>
<circle cx="1087.6" cy="1663.4" r="3.7" fill="#fff" stroke="#000" stroke-width="1.5"/>
<circle cx="1087.6" cy="1672.2" r="3.7" fill="#fff" stroke="#000" stroke-width="1.5"/>
<circle cx="960.65" cy="1690" r="3.7" fill="#fff" stroke="#000" stroke-width="1.5"/>
<circle cx="970.18" cy="1690" r="3.7" fill="#fff" stroke="#000" stroke-width="1.5"/>
<circle cx="1070.77" cy="1690" r="3.7" fill="#fff" stroke="#000" stroke-width="1.5"/>
<circle cx="953.81" cy="1712.02" r="3.7" fill="#fff" stroke="#000" stroke-width="1.5"/>
<circle cx="966.9" cy="1712.02" r="3.7" fill="#fff" stroke="#000" stroke-width="1.5"/>
<circle cx="986.25" cy="1712.02" r="3.7" fill="#fff" stroke="#000" stroke-width="1.5"/>
<line x1="1114.52" y1="1663.81" x2="1114.52" y2="1698.04" stroke="#000" stroke-width="2.4"/>
<text transform="translate(1120.69 1684.05) rotate(90)" font-size="29" text-anchor="middle">ns</text>
<line x1="1157.68" y1="1663.81" x2="1157.68" y2="1717.98" stroke="#000" stroke-width="2.4"/>
<text transform="translate(1161.47 1692.98) rotate(90)" font-size="26.5" text-anchor="middle">**</text>
<rect x="763.6" y="1742.9" width="324" height="14.8" fill="#000"/>
<rect x="763.6" y="1765.2" width="223.84" height="14.8" fill="#800505"/>
<rect x="763.6" y="1787.5" width="203.6" height="14.8" fill="#ff0000"/>
<line x1="748.1" y1="1772.9" x2="763.6" y2="1772.9" stroke="#000" stroke-width="2.4"/>
<line x1="963.63" y1="1773.2" x2="1011.25" y2="1773.2" stroke="#000" stroke-width="2.1"/>
<line x1="963.63" y1="1769" x2="963.63" y2="1777.4" stroke="#000" stroke-width="2.1"/>
<line x1="1011.25" y1="1769" x2="1011.25" y2="1777.4" stroke="#000" stroke-width="2.1"/>
<line x1="962.14" y1="1795.5" x2="971.07" y2="1795.5" stroke="#000" stroke-width="2.1"/>
<line x1="962.14" y1="1791.3" x2="962.14" y2="1799.7" stroke="#000" stroke-width="2.1"/>
<line x1="971.07" y1="1791.3" x2="971.07" y2="1799.7" stroke="#000" stroke-width="2.1"/>
<circle cx="1087.6" cy="1749.7" r="3.7" fill="#fff" stroke="#000" stroke-width="1.5"/>
<circle cx="1087.6" cy="1745.3" r="3.7" fill="#fff" stroke="#000" stroke-width="1.5"/>
<circle cx="1087.6" cy="1754.1" r="3.7" fill="#fff" stroke="#000" stroke-width="1.5"/>
<circle cx="957.08" cy="1771.25" r="3.7" fill="#fff" stroke="#000" stroke-width="1.5"/>
<circle cx="970.48" cy="1771.25" r="3.7" fill="#fff" stroke="#000" stroke-width="1.5"/>
<circle cx="1035.06" cy="1771.25" r="3.7" fill="#fff" stroke="#000" stroke-width="1.5"/>
<circle cx="957.08" cy="1793.87" r="3.7" fill="#fff" stroke="#000" stroke-width="1.5"/>
<circle cx="971.07" cy="1788.81" r="3.7" fill="#fff" stroke="#000" stroke-width="1.5"/>
<circle cx="970.48" cy="1798.63" r="3.7" fill="#fff" stroke="#000" stroke-width="1.5"/>
<line x1="1114.52" y1="1739.7" x2="1114.52" y2="1773.93" stroke="#000" stroke-width="2.4"/>
<text transform="translate(1121.22 1756.67) rotate(90)" font-size="29.5" text-anchor="middle">0.05</text>
<line x1="1157.68" y1="1740.6" x2="1157.68" y2="1802.2" stroke="#000" stroke-width="2.4"/>
<text transform="translate(1161.47 1767.98) rotate(90)" font-size="26.5" text-anchor="middle">**</text>
<rect x="763.6" y="1824.8" width="324" height="14.8" fill="#000"/>
<rect x="763.6" y="1847.1" width="248.54" height="14.8" fill="#800505"/>
<rect x="763.6" y="1869.4" width="197.05" height="14.8" fill="#ff0000"/>
<line x1="748.1" y1="1854.8" x2="763.6" y2="1854.8" stroke="#000" stroke-width="2.4"/>
<line x1="965.12" y1="1855.1" x2="1059.46" y2="1855.1" stroke="#000" stroke-width="2.1"/>
<line x1="965.12" y1="1850.9" x2="965.12" y2="1859.3" stroke="#000" stroke-width="2.1"/>
<line x1="1059.46" y1="1850.9" x2="1059.46" y2="1859.3" stroke="#000" stroke-width="2.1"/>
<line x1="953.21" y1="1877.4" x2="968.1" y2="1877.4" stroke="#000" stroke-width="2.1"/>
<line x1="953.21" y1="1873.2" x2="953.21" y2="1881.6" stroke="#000" stroke-width="2.1"/>
<line x1="968.1" y1="1873.2" x2="968.1" y2="1881.6" stroke="#000" stroke-width="2.1"/>
<circle cx="1087.6" cy="1831.6" r="3.7" fill="#fff" stroke="#000" stroke-width="1.5"/>
<circle cx="1087.6" cy="1827.2" r="3.7" fill="#fff" stroke="#000" stroke-width="1.5"/>
<circle cx="1087.6" cy="1836" r="3.7" fill="#fff" stroke="#000" stroke-width="1.5"/>
<circle cx="960.65" cy="1853.39" r="3.7" fill="#fff" stroke="#000" stroke-width="1.5"/>
<circle cx="970.48" cy="1853.39" r="3.7" fill="#fff" stroke="#000" stroke-width="1.5"/>
<circle cx="1106.49" cy="1853.39" r="3.7" fill="#fff" stroke="#000" stroke-width="1.5"/>
<circle cx="950.83" cy="1870.65" r="3.7" fill="#fff" stroke="#000" stroke-width="1.5"/>
<circle cx="976.73" cy="1875.71" r="3.7" fill="#fff" stroke="#000" stroke-width="1.5"/>
<circle cx="954.4" cy="1880.48" r="3.7" fill="#fff" stroke="#000" stroke-width="1.5"/>
<line x1="1114.52" y1="1826.01" x2="1114.52" y2="1860.24" stroke="#000" stroke-width="2.4"/>
<text transform="translate(1120.69 1840.89) rotate(90)" font-size="29" text-anchor="middle">ns</text>
<line x1="1157.68" y1="1825.12" x2="1157.68" y2="1884.05" stroke="#000" stroke-width="2.4"/>
<text transform="translate(1161.47 1853.69) rotate(90)" font-size="26.5" text-anchor="middle">**</text>
<rect x="763.6" y="1906.7" width="324" height="14.8" fill="#000"/>
<rect x="763.6" y="1929" width="232.17" height="14.8" fill="#800505"/>
<rect x="763.6" y="1951.3" width="240.21" height="14.8" fill="#ff0000"/>
<line x1="748.1" y1="1936.7" x2="763.6" y2="1936.7" stroke="#000" stroke-width="2.4"/>
<line x1="971.07" y1="1937" x2="1021.07" y2="1937" stroke="#000" stroke-width="2.1"/>
<line x1="971.07" y1="1932.8" x2="971.07" y2="1941.2" stroke="#000" stroke-width="2.1"/>
<line x1="1021.07" y1="1932.8" x2="1021.07" y2="1941.2" stroke="#000" stroke-width="2.1"/>
<line x1="982.98" y1="1959.3" x2="1024.64" y2="1959.3" stroke="#000" stroke-width="2.1"/>
<line x1="982.98" y1="1955.1" x2="982.98" y2="1963.5" stroke="#000" stroke-width="2.1"/>
<line x1="1024.64" y1="1955.1" x2="1024.64" y2="1963.5" stroke="#000" stroke-width="2.1"/>
<circle cx="1087.6" cy="1913.5" r="3.7" fill="#fff" stroke="#000" stroke-width="1.5"/>
<circle cx="1087.6" cy="1909.1" r="3.7" fill="#fff" stroke="#000" stroke-width="1.5"/>
<circle cx="1087.6" cy="1917.9" r="3.7" fill="#fff" stroke="#000" stroke-width="1.5"/>
<circle cx="954.11" cy="1934.94" r="3.7" fill="#fff" stroke="#000" stroke-width="1.5"/>
<circle cx="996.37" cy="1934.94" r="3.7" fill="#fff" stroke="#000" stroke-width="1.5"/>
<circle cx="1038.63" cy="1934.94" r="3.7" fill="#fff" stroke="#000" stroke-width="1.5"/>
<circle cx="966.9" cy="1957.26" r="3.7" fill="#fff" stroke="#000" stroke-width="1.5"/>
<circle cx="1005.89" cy="1957.26" r="3.7" fill="#fff" stroke="#000" stroke-width="1.5"/>
<circle cx="1038.63" cy="1957.26" r="3.7" fill="#fff" stroke="#000" stroke-width="1.5"/>
<line x1="1114.52" y1="1906.37" x2="1114.52" y2="1940.6" stroke="#000" stroke-width="2.4"/>
<text transform="translate(1122.71 1922.74) rotate(90)" font-size="29.5" text-anchor="middle">0.06</text>
<line x1="1157.68" y1="1906.37" x2="1157.68" y2="1966.79" stroke="#000" stroke-width="2.4"/>
<text transform="translate(1167.36 1934.05) rotate(90)" font-size="29.5" text-anchor="middle">0.06</text>
<rect x="763.6" y="1988.6" width="324" height="14.8" fill="#000"/>
<rect x="763.6" y="2010.9" width="166.4" height="14.8" fill="#800505"/>
<rect x="763.6" y="2033.2" width="200.33" height="14.8" fill="#ff0000"/>
<line x1="748.1" y1="2018.6" x2="763.6" y2="2018.6" stroke="#000" stroke-width="2.4"/>
<line x1="904.11" y1="2018.9" x2="957.68" y2="2018.9" stroke="#000" stroke-width="2.1"/>
<line x1="904.11" y1="2014.7" x2="904.11" y2="2023.1" stroke="#000" stroke-width="2.1"/>
<line x1="957.68" y1="2014.7" x2="957.68" y2="2023.1" stroke="#000" stroke-width="2.1"/>
<line x1="920.48" y1="2041.2" x2="1006.79" y2="2041.2" stroke="#000" stroke-width="2.1"/>
<line x1="920.48" y1="2037" x2="920.48" y2="2045.4" stroke="#000" stroke-width="2.1"/>
<line x1="1006.79" y1="2037" x2="1006.79" y2="2045.4" stroke="#000" stroke-width="2.1"/>
<circle cx="1087.6" cy="1995.4" r="3.7" fill="#fff" stroke="#000" stroke-width="1.5"/>
<circle cx="1087.6" cy="1991" r="3.7" fill="#fff" stroke="#000" stroke-width="1.5"/>
<circle cx="1087.6" cy="1999.8" r="3.7" fill="#fff" stroke="#000" stroke-width="1.5"/>
<circle cx="879.4" cy="2016.79" r="3.7" fill="#fff" stroke="#000" stroke-width="1.5"/>
<circle cx="950.54" cy="2016.79" r="3.7" fill="#fff" stroke="#000" stroke-width="1.5"/>
<circle cx="960.65" cy="2016.79" r="3.7" fill="#fff" stroke="#000" stroke-width="1.5"/>
<circle cx="879.4" cy="2038.81" r="3.7" fill="#fff" stroke="#000" stroke-width="1.5"/>
<circle cx="996.37" cy="2038.81" r="3.7" fill="#fff" stroke="#000" stroke-width="1.5"/>
<circle cx="1015.71" cy="2038.81" r="3.7" fill="#fff" stroke="#000" stroke-width="1.5"/>
<line x1="1114.52" y1="1985.24" x2="1114.52" y2="2019.46" stroke="#000" stroke-width="2.4"/>
<text transform="translate(1118.61 2003.69) rotate(90)" font-size="26.5" text-anchor="middle">*</text>
<line x1="1157.68" y1="1985.24" x2="1157.68" y2="2046.25" stroke="#000" stroke-width="2.4"/>
<text transform="translate(1167.36 2013.51) rotate(90)" font-size="29.5" text-anchor="middle">0.1</text>
<line x1="763.6" y1="1652.2" x2="763.6" y2="2056" stroke="#000" stroke-width="3"/>
<line x1="762.1" y1="1653.6" x2="1153" y2="1653.6" stroke="#000" stroke-width="2.8"/>
<line x1="763.6" y1="1643.6" x2="763.6" y2="1653.6" stroke="#000" stroke-width="2.5"/>
<line x1="925.6" y1="1643.6" x2="925.6" y2="1653.6" stroke="#000" stroke-width="2.5"/>
<line x1="1087.6" y1="1643.6" x2="1087.6" y2="1653.6" stroke="#000" stroke-width="2.5"/>
<line x1="844.6" y1="1648.1" x2="844.6" y2="1653.6" stroke="#000" stroke-width="2.5"/>
<line x1="1006.6" y1="1648.1" x2="1006.6" y2="1653.6" stroke="#000" stroke-width="2.5"/>
<text x="1494.2" y="1516.3" font-size="33.8" text-anchor="middle" font-weight="bold">SKMEL28</text>
<line x1="1297.4" y1="1528.5" x2="1693.5" y2="1528.5" stroke="#000" stroke-width="5.4" stroke-linecap="round"/>
<text x="1473.3" y="1580.5" font-size="30.7" text-anchor="middle">Normalized OCR</text>
<text x="1473.8" y="1606.5" font-size="30.6" text-anchor="middle">(pmol/min/µg proteins)</text>
<text x="1307" y="1641.5" font-size="26" text-anchor="middle">0</text>
<text x="1468.8" y="1641.5" font-size="26" text-anchor="middle">0.5</text>
<text x="1633.7" y="1641.5" font-size="26" text-anchor="middle">1</text>
<rect x="1307.2" y="1661" width="320.8" height="14.8" fill="#000"/>
<rect x="1307.2" y="1683.3" width="254.35" height="14.8" fill="#800505"/>
<rect x="1307.2" y="1705.6" width="148.4" height="14.8" fill="#ff0000"/>
<line x1="1291.7" y1="1691" x2="1307.2" y2="1691" stroke="#000" stroke-width="2.4"/>
<line x1="1523.45" y1="1691.3" x2="1599.94" y2="1691.3" stroke="#000" stroke-width="2.1"/>
<line x1="1523.45" y1="1687.1" x2="1523.45" y2="1695.5" stroke="#000" stroke-width="2.1"/>
<line x1="1599.94" y1="1687.1" x2="1599.94" y2="1695.5" stroke="#000" stroke-width="2.1"/>
<line x1="1407.98" y1="1713.6" x2="1503.81" y2="1713.6" stroke="#000" stroke-width="2.1"/>
<line x1="1407.98" y1="1709.4" x2="1407.98" y2="1717.8" stroke="#000" stroke-width="2.1"/>
<line x1="1503.81" y1="1709.4" x2="1503.81" y2="1717.8" stroke="#000" stroke-width="2.1"/>
<circle cx="1628" cy="1667.8" r="3.7" fill="#fff" stroke="#000" stroke-width="1.5"/>
<circle cx="1628" cy="1663.4" r="3.7" fill="#fff" stroke="#000" stroke-width="1.5"/>
<circle cx="1628" cy="1672.2" r="3.7" fill="#fff" stroke="#000" stroke-width="1.5"/>
<circle cx="1492.8" cy="1690.6" r="3.7" fill="#fff" stroke="#000" stroke-width="1.5"/>
<circle cx="1566.61" cy="1690.6" r="3.7" fill="#fff" stroke="#000" stroke-width="1.5"/>
<circle cx="1624.64" cy="1690.6" r="3.7" fill="#fff" stroke="#000" stroke-width="1.5"/>
<circle cx="1402.92" cy="1712.32" r="3.7" fill="#fff" stroke="#000" stroke-width="1.5"/>
<circle cx="1412.74" cy="1712.32" r="3.7" fill="#fff" stroke="#000" stroke-width="1.5"/>
<circle cx="1550.54" cy="1712.32" r="3.7" fill="#fff" stroke="#000" stroke-width="1.5"/>
<line x1="1648.15" y1="1668.27" x2="1648.15" y2="1686.73" stroke="#000" stroke-width="2.4"/>
<text transform="translate(1659.38 1678.69) rotate(90)" font-size="29" text-anchor="middle">ns</text>
<line x1="1689.23" y1="1663.81" x2="1689.23" y2="1709.94" stroke="#000" stroke-width="2.4"/>
<text transform="translate(1695.03 1685.24) rotate(90)" font-size="29.5" text-anchor="middle">0.06</text>
<rect x="1307.2" y="1742.9" width="320.8" height="14.8" fill="#000"/>
<rect x="1307.2" y="1765.2" width="232.62" height="14.8" fill="#800505"/>
<rect x="1307.2" y="1787.5" width="125.78" height="14.8" fill="#ff0000"/>
<line x1="1291.7" y1="1772.9" x2="1307.2" y2="1772.9" stroke="#000" stroke-width="2.4"/>
<line x1="1514.52" y1="1773.2" x2="1566.31" y2="1773.2" stroke="#000" stroke-width="2.1"/>
<line x1="1514.52" y1="1769" x2="1514.52" y2="1777.4" stroke="#000" stroke-width="2.1"/>
<line x1="1566.31" y1="1769" x2="1566.31" y2="1777.4" stroke="#000" stroke-width="2.1"/>
<line x1="1406.49" y1="1795.5" x2="1463.04" y2="1795.5" stroke="#000" stroke-width="2.1"/>
<line x1="1406.49" y1="1791.3" x2="1406.49" y2="1799.7" stroke="#000" stroke-width="2.1"/>
<line x1="1463.04" y1="1791.3" x2="1463.04" y2="1799.7" stroke="#000" stroke-width="2.1"/>
<circle cx="1628" cy="1749.7" r="3.7" fill="#fff" stroke="#000" stroke-width="1.5"/>
<circle cx="1628" cy="1745.3" r="3.7" fill="#fff" stroke="#000" stroke-width="1.5"/>
<circle cx="1628" cy="1754.1" r="3.7" fill="#fff" stroke="#000" stroke-width="1.5"/>
<circle cx="1492.8" cy="1771.55" r="3.7" fill="#fff" stroke="#000" stroke-width="1.5"/>
<circle cx="1544.29" cy="1771.55" r="3.7" fill="#fff" stroke="#000" stroke-width="1.5"/>
<circle cx="1582.98" cy="1771.55" r="3.7" fill="#fff" stroke="#000" stroke-width="1.5"/>
<circle cx="1399.94" cy="1789.11" r="3.7" fill="#fff" stroke="#000" stroke-width="1.5"/>
<circle cx="1492.8" cy="1793.87" r="3.7" fill="#fff" stroke="#000" stroke-width="1.5"/>
<circle cx="1406.19" cy="1798.93" r="3.7" fill="#fff" stroke="#000" stroke-width="1.5"/>
<line x1="1648.15" y1="1749.23" x2="1648.15" y2="1770.06" stroke="#000" stroke-width="2.4"/>
<text transform="translate(1656.34 1760.54) rotate(90)" font-size="29.5" text-anchor="middle">0.08</text>
<line x1="1688.33" y1="1746.55" x2="1688.33" y2="1788.81" stroke="#000" stroke-width="2.4"/>
<text transform="translate(1690.63 1768.57) rotate(90)" font-size="26.5" text-anchor="middle">*</text>
<rect x="1307.2" y="1824.8" width="320.8" height="14.8" fill="#000"/>
<rect x="1307.2" y="1847.1" width="225.48" height="14.8" fill="#800505"/>
<rect x="1307.2" y="1869.4" width="111.79" height="14.8" fill="#ff0000"/>
<line x1="1291.7" y1="1854.8" x2="1307.2" y2="1854.8" stroke="#000" stroke-width="2.4"/>
<line x1="1497.26" y1="1855.1" x2="1568.1" y2="1855.1" stroke="#000" stroke-width="2.1"/>
<line x1="1497.26" y1="1850.9" x2="1497.26" y2="1859.3" stroke="#000" stroke-width="2.1"/>
<line x1="1568.1" y1="1850.9" x2="1568.1" y2="1859.3" stroke="#000" stroke-width="2.1"/>
<line x1="1370.48" y1="1877.4" x2="1467.5" y2="1877.4" stroke="#000" stroke-width="2.1"/>
<line x1="1370.48" y1="1873.2" x2="1370.48" y2="1881.6" stroke="#000" stroke-width="2.1"/>
<line x1="1467.5" y1="1873.2" x2="1467.5" y2="1881.6" stroke="#000" stroke-width="2.1"/>
<circle cx="1628" cy="1831.6" r="3.7" fill="#fff" stroke="#000" stroke-width="1.5"/>
<circle cx="1628" cy="1827.2" r="3.7" fill="#fff" stroke="#000" stroke-width="1.5"/>
<circle cx="1628" cy="1836" r="3.7" fill="#fff" stroke="#000" stroke-width="1.5"/>
<circle cx="1473.75" cy="1853.1" r="3.7" fill="#fff" stroke="#000" stroke-width="1.5"/>
<circle cx="1527.92" cy="1853.1" r="3.7" fill="#fff" stroke="#000" stroke-width="1.5"/>
<circle cx="1595.77" cy="1853.1" r="3.7" fill="#fff" stroke="#000" stroke-width="1.5"/>
<circle cx="1351.43" cy="1875.42" r="3.7" fill="#fff" stroke="#000" stroke-width="1.5"/>
<circle cx="1393.1" cy="1875.42" r="3.7" fill="#fff" stroke="#000" stroke-width="1.5"/>
<circle cx="1512.14" cy="1875.42" r="3.7" fill="#fff" stroke="#000" stroke-width="1.5"/>
<line x1="1648.15" y1="1828.99" x2="1648.15" y2="1850.71" stroke="#000" stroke-width="2.4"/>
<text transform="translate(1659.38 1838.81) rotate(90)" font-size="29" text-anchor="middle">ns</text>
<line x1="1688.33" y1="1828.1" x2="1688.33" y2="1874.52" stroke="#000" stroke-width="2.4"/>
<text transform="translate(1690.63 1852.8) rotate(90)" font-size="26.5" text-anchor="middle">*</text>
<rect x="1307.2" y="1906.7" width="320.8" height="14.8" fill="#000"/>
<rect x="1307.2" y="1929" width="298.4" height="14.8" fill="#800505"/>
<rect x="1307.2" y="1951.3" width="221.01" height="14.8" fill="#ff0000"/>
<line x1="1291.7" y1="1936.7" x2="1307.2" y2="1936.7" stroke="#000" stroke-width="2.4"/>
<line x1="1582.38" y1="1937" x2="1625.24" y2="1937" stroke="#000" stroke-width="2.1"/>
<line x1="1582.38" y1="1932.8" x2="1582.38" y2="1941.2" stroke="#000" stroke-width="2.1"/>
<line x1="1625.24" y1="1932.8" x2="1625.24" y2="1941.2" stroke="#000" stroke-width="2.1"/>
<line x1="1477.92" y1="1959.3" x2="1582.08" y2="1959.3" stroke="#000" stroke-width="2.1"/>
<line x1="1477.92" y1="1955.1" x2="1477.92" y2="1963.5" stroke="#000" stroke-width="2.1"/>
<line x1="1582.08" y1="1955.1" x2="1582.08" y2="1963.5" stroke="#000" stroke-width="2.1"/>
<circle cx="1628" cy="1913.5" r="3.7" fill="#fff" stroke="#000" stroke-width="1.5"/>
<circle cx="1628" cy="1909.1" r="3.7" fill="#fff" stroke="#000" stroke-width="1.5"/>
<circle cx="1628" cy="1917.9" r="3.7" fill="#fff" stroke="#000" stroke-width="1.5"/>
<circle cx="1560.36" cy="1934.64" r="3.7" fill="#fff" stroke="#000" stroke-width="1.5"/>
<circle cx="1621.37" cy="1934.64" r="3.7" fill="#fff" stroke="#000" stroke-width="1.5"/>
<circle cx="1634.17" cy="1934.64" r="3.7" fill="#fff" stroke="#000" stroke-width="1.5"/>
<circle cx="1473.75" cy="1951.9" r="3.7" fill="#fff" stroke="#000" stroke-width="1.5"/>
<circle cx="1634.17" cy="1956.96" r="3.7" fill="#fff" stroke="#000" stroke-width="1.5"/>
<circle cx="1477.02" cy="1961.43" r="3.7" fill="#fff" stroke="#000" stroke-width="1.5"/>
<line x1="1648.15" y1="1910.83" x2="1648.15" y2="1931.67" stroke="#000" stroke-width="2.4"/>
<text transform="translate(1659.38 1920.65) rotate(90)" font-size="29" text-anchor="middle">ns</text>
<line x1="1688.33" y1="1907.86" x2="1688.33" y2="1954.88" stroke="#000" stroke-width="2.4"/>
<text transform="translate(1695.99 1932.56) rotate(90)" font-size="29" text-anchor="middle">ns</text>
<rect x="1307.2" y="1988.6" width="320.8" height="14.8" fill="#000"/>
<rect x="1307.2" y="2010.9" width="248.69" height="14.8" fill="#800505"/>
<rect x="1307.2" y="2033.2" width="107.32" height="14.8" fill="#ff0000"/>
<line x1="1291.7" y1="2018.6" x2="1307.2" y2="2018.6" stroke="#000" stroke-width="2.4"/>
<line x1="1500.83" y1="2018.9" x2="1610.95" y2="2018.9" stroke="#000" stroke-width="2.1"/>
<line x1="1500.83" y1="2014.7" x2="1500.83" y2="2023.1" stroke="#000" stroke-width="2.1"/>
<line x1="1610.95" y1="2014.7" x2="1610.95" y2="2023.1" stroke="#000" stroke-width="2.1"/>
<line x1="1402.02" y1="2041.2" x2="1431.79" y2="2041.2" stroke="#000" stroke-width="2.1"/>
<line x1="1402.02" y1="2037" x2="1402.02" y2="2045.4" stroke="#000" stroke-width="2.1"/>
<line x1="1431.79" y1="2037" x2="1431.79" y2="2045.4" stroke="#000" stroke-width="2.1"/>
<circle cx="1628" cy="1995.4" r="3.7" fill="#fff" stroke="#000" stroke-width="1.5"/>
<circle cx="1628" cy="1991" r="3.7" fill="#fff" stroke="#000" stroke-width="1.5"/>
<circle cx="1628" cy="1999.8" r="3.7" fill="#fff" stroke="#000" stroke-width="1.5"/>
<circle cx="1448.15" cy="2015.89" r="3.7" fill="#fff" stroke="#000" stroke-width="1.5"/>
<circle cx="1595.77" cy="2015.89" r="3.7" fill="#fff" stroke="#000" stroke-width="1.5"/>
<circle cx="1624.64" cy="2015.89" r="3.7" fill="#fff" stroke="#000" stroke-width="1.5"/>
<circle cx="1396.67" cy="2033.45" r="3.7" fill="#fff" stroke="#000" stroke-width="1.5"/>
<circle cx="1448.15" cy="2037.92" r="3.7" fill="#fff" stroke="#000" stroke-width="1.5"/>
<circle cx="1399.94" cy="2042.68" r="3.7" fill="#fff" stroke="#000" stroke-width="1.5"/>
<line x1="1648.15" y1="1992.68" x2="1648.15" y2="2017.38" stroke="#000" stroke-width="2.4"/>
<text transform="translate(1659.38 2004.58) rotate(90)" font-size="29" text-anchor="middle">ns</text>
<line x1="1688.33" y1="1988.81" x2="1688.33" y2="2037.32" stroke="#000" stroke-width="2.4"/>
<text transform="translate(1688.55 2012.02) rotate(90)" font-size="26.5" text-anchor="middle">**</text>
<line x1="1307.2" y1="1652.2" x2="1307.2" y2="2056" stroke="#000" stroke-width="3"/>
<line x1="1305.7" y1="1653.6" x2="1693.6" y2="1653.6" stroke="#000" stroke-width="2.8"/>
<line x1="1307.2" y1="1643.6" x2="1307.2" y2="1653.6" stroke="#000" stroke-width="2.5"/>
<line x1="1467.6" y1="1643.6" x2="1467.6" y2="1653.6" stroke="#000" stroke-width="2.5"/>
<line x1="1628" y1="1643.6" x2="1628" y2="1653.6" stroke="#000" stroke-width="2.5"/>
<line x1="1387.4" y1="1648.1" x2="1387.4" y2="1653.6" stroke="#000" stroke-width="2.5"/>
<line x1="1547.8" y1="1648.1" x2="1547.8" y2="1653.6" stroke="#000" stroke-width="2.5"/>
<rect x="1737.1" y="1755.6" width="29.2" height="27.1" fill="#000"/>
<rect x="1737.1" y="1826.2" width="29.2" height="27.3" fill="#800505"/>
<rect x="1737.1" y="1900.4" width="29.2" height="27.2" fill="#ff0000"/>
<text x="1782.2" y="1779.1" font-size="31">DMSO</text>
<text x="1782.2" y="1832" font-size="31">PhenDC3</text>
<text x="1782.2" y="1865.9" font-size="31">5µM</text>
<text x="1782.2" y="1905.6" font-size="31">PhenDC3</text>
<text x="1782.2" y="1940.1" font-size="31">20µM</text></g>
<g id="panel-f"><text transform="translate(131.5 2264) rotate(-90)" font-size="30" text-anchor="middle">Cell number</text>
<line x1="250.9" y1="2151.05" x2="250.9" y2="2416.65" stroke="#000" stroke-width="2.9"/>
<line x1="240.4" y1="2415.2" x2="648.65" y2="2415.2" stroke="#000" stroke-width="2.9"/>
<line x1="240.4" y1="2152.5" x2="250.9" y2="2152.5" stroke="#000" stroke-width="2.9"/>
<text x="215.3" y="2167.5" font-size="30.4" text-anchor="end">8×10</text>
<text x="216.2" y="2158.5" font-size="30.4">6</text>
<line x1="240.4" y1="2218.2" x2="250.9" y2="2218.2" stroke="#000" stroke-width="2.9"/>
<text x="215.3" y="2233.2" font-size="30.4" text-anchor="end">6×10</text>
<text x="216.2" y="2224.2" font-size="30.4">6</text>
<line x1="240.4" y1="2283.5" x2="250.9" y2="2283.5" stroke="#000" stroke-width="2.9"/>
<text x="215.3" y="2298.5" font-size="30.4" text-anchor="end">4×10</text>
<text x="216.2" y="2289.5" font-size="30.4">6</text>
<line x1="240.4" y1="2349.5" x2="250.9" y2="2349.5" stroke="#000" stroke-width="2.9"/>
<text x="215.3" y="2364.5" font-size="30.4" text-anchor="end">2×10</text>
<text x="216.2" y="2355.5" font-size="30.4">6</text>
<text x="234.4" y="2429.8" font-size="30.4" text-anchor="end">0</text>
<line x1="250.9" y1="2415.2" x2="250.9" y2="2425.7" stroke="#000" stroke-width="2.9"/>
<text x="253.4" y="2455.3" font-size="30.4" text-anchor="middle">0</text>
<line x1="349.8" y1="2415.2" x2="349.8" y2="2425.7" stroke="#000" stroke-width="2.9"/>
<text x="352.3" y="2455.3" font-size="30.4" text-anchor="middle">2</text>
<line x1="448.3" y1="2415.2" x2="448.3" y2="2425.7" stroke="#000" stroke-width="2.9"/>
<text x="450.8" y="2455.3" font-size="30.4" text-anchor="middle">4</text>
<line x1="547.6" y1="2415.2" x2="547.6" y2="2425.7" stroke="#000" stroke-width="2.9"/>
<text x="550.1" y="2455.3" font-size="30.4" text-anchor="middle">6</text>
<line x1="647.2" y1="2415.2" x2="647.2" y2="2425.7" stroke="#000" stroke-width="2.9"/>
<text x="642.8" y="2451.3" font-size="30.4" text-anchor="middle">8</text>
<text x="463" y="2482.6" font-size="30.8" text-anchor="middle">Days</text>
<path d="M250.87 2415.24 L448.31 2391.62 L498.13 2376.12 L547.58 2342.9 L597.4 2311.9" fill="none" stroke="#ff0000" stroke-width="2.8"/>
<line x1="597.4" y1="2293.4" x2="597.4" y2="2329.2" stroke="#000" stroke-width="2.3"/><line x1="593.4" y1="2293.4" x2="601.4" y2="2293.4" stroke="#000" stroke-width="2.3"/><line x1="593.4" y1="2329.2" x2="601.4" y2="2329.2" stroke="#000" stroke-width="2.3"/>
<line x1="547.6" y1="2338" x2="547.6" y2="2348" stroke="#000" stroke-width="2.3"/><line x1="543.6" y1="2338" x2="551.6" y2="2338" stroke="#000" stroke-width="2.3"/><line x1="543.6" y1="2348" x2="551.6" y2="2348" stroke="#000" stroke-width="2.3"/>
<line x1="498.1" y1="2371" x2="498.1" y2="2381" stroke="#000" stroke-width="2.3"/><line x1="494.1" y1="2371" x2="502.1" y2="2371" stroke="#000" stroke-width="2.3"/><line x1="494.1" y1="2381" x2="502.1" y2="2381" stroke="#000" stroke-width="2.3"/>
<rect x="246.57" y="2410.94" width="8.6" height="8.6" fill="#000"/>
<rect x="444.01" y="2387.32" width="8.6" height="8.6" fill="#000"/>
<rect x="493.83" y="2371.82" width="8.6" height="8.6" fill="#000"/>
<rect x="543.28" y="2338.6" width="8.6" height="8.6" fill="#000"/>
<rect x="593.1" y="2307.6" width="8.6" height="8.6" fill="#000"/>
<path d="M250.87 2415.24 L448.31 2384.97 L498.13 2342.16 L547.58 2285.33 L597.4 2218.9" fill="none" stroke="#000" stroke-width="2.8"/>
<line x1="597.4" y1="2209.7" x2="597.4" y2="2227.8" stroke="#000" stroke-width="2.3"/><line x1="593.4" y1="2209.7" x2="601.4" y2="2209.7" stroke="#000" stroke-width="2.3"/><line x1="593.4" y1="2227.8" x2="601.4" y2="2227.8" stroke="#000" stroke-width="2.3"/>
<line x1="547.6" y1="2276.8" x2="547.6" y2="2293.4" stroke="#000" stroke-width="2.3"/><line x1="543.6" y1="2276.8" x2="551.6" y2="2276.8" stroke="#000" stroke-width="2.3"/><line x1="543.6" y1="2293.4" x2="551.6" y2="2293.4" stroke="#000" stroke-width="2.3"/>
<line x1="498.1" y1="2338" x2="498.1" y2="2346" stroke="#000" stroke-width="2.3"/><line x1="494.1" y1="2338" x2="502.1" y2="2338" stroke="#000" stroke-width="2.3"/><line x1="494.1" y1="2346" x2="502.1" y2="2346" stroke="#000" stroke-width="2.3"/>
<circle cx="250.87" cy="2415.24" r="4.3" fill="#000"/>
<circle cx="448.31" cy="2384.97" r="4.3" fill="#000"/>
<circle cx="498.13" cy="2342.16" r="4.3" fill="#000"/>
<circle cx="547.58" cy="2285.33" r="4.3" fill="#000"/>
<circle cx="597.4" cy="2218.9" r="4.3" fill="#000"/>
<text x="446.5" y="2366.5" font-size="24" text-anchor="middle">ns</text>
<text x="495.9" y="2336" font-size="30" text-anchor="middle" font-weight="bold">*</text>
<text x="543.9" y="2273" font-size="30" text-anchor="middle" font-weight="bold">***</text>
<text x="591.1" y="2206" font-size="30" text-anchor="middle" font-weight="bold">****</text>
<line x1="765" y1="2148.05" x2="765" y2="2417.45" stroke="#000" stroke-width="2.9"/>
<line x1="754.5" y1="2416" x2="1167.65" y2="2416" stroke="#000" stroke-width="2.9"/>
<line x1="754.5" y1="2149.5" x2="765" y2="2149.5" stroke="#000" stroke-width="2.9"/>
<text x="725.1" y="2164.5" font-size="30.8" text-anchor="end">4×10</text>
<text x="726.5" y="2155.8" font-size="30.8">5</text>
<line x1="754.5" y1="2216.3" x2="765" y2="2216.3" stroke="#000" stroke-width="2.9"/>
<text x="725.1" y="2231.3" font-size="30.8" text-anchor="end">3×10</text>
<text x="726.5" y="2222.6" font-size="30.8">5</text>
<line x1="754.5" y1="2282.7" x2="765" y2="2282.7" stroke="#000" stroke-width="2.9"/>
<text x="725.1" y="2297.7" font-size="30.8" text-anchor="end">2×10</text>
<text x="726.5" y="2289" font-size="30.8">5</text>
<line x1="754.5" y1="2349.5" x2="765" y2="2349.5" stroke="#000" stroke-width="2.9"/>
<text x="725.1" y="2364.5" font-size="30.8" text-anchor="end">1×10</text>
<text x="726.5" y="2355.8" font-size="30.8">5</text>
<text x="748.5" y="2430.6" font-size="30.8" text-anchor="end">0</text>
<line x1="765" y1="2416" x2="765" y2="2426.5" stroke="#000" stroke-width="2.9"/>
<text x="767.5" y="2455.3" font-size="30.8" text-anchor="middle">0</text>
<line x1="864.7" y1="2416" x2="864.7" y2="2426.5" stroke="#000" stroke-width="2.9"/>
<text x="867.2" y="2455.3" font-size="30.8" text-anchor="middle">2</text>
<line x1="964.7" y1="2416" x2="964.7" y2="2426.5" stroke="#000" stroke-width="2.9"/>
<text x="967.2" y="2455.3" font-size="30.8" text-anchor="middle">4</text>
<line x1="1065.4" y1="2416" x2="1065.4" y2="2426.5" stroke="#000" stroke-width="2.9"/>
<text x="1067.9" y="2455.3" font-size="30.8" text-anchor="middle">6</text>
<line x1="1165.4" y1="2416" x2="1165.4" y2="2426.5" stroke="#000" stroke-width="2.9"/>
<text x="1168.8" y="2455.3" font-size="30.8" text-anchor="middle">8</text>
<text x="945" y="2482.6" font-size="31.2" text-anchor="middle">Days</text>
<path d="M765.03 2412.65 L964.69 2403.43 L1014.88 2403.43 L1065.44 2400.47 L1115.63 2349.55" fill="none" stroke="#ff0000" stroke-width="2.8"/>
<rect x="760.73" y="2408.35" width="8.6" height="8.6" fill="#000"/>
<rect x="960.39" y="2399.13" width="8.6" height="8.6" fill="#000"/>
<rect x="1010.58" y="2399.13" width="8.6" height="8.6" fill="#000"/>
<rect x="1061.14" y="2396.17" width="8.6" height="8.6" fill="#000"/>
<rect x="1111.33" y="2345.25" width="8.6" height="8.6" fill="#000"/>
<path d="M765.03 2412.65 L964.69 2396.05 L1014.88 2386.08 L1065.44 2370.58 L1115.63 2207.83" fill="none" stroke="#000" stroke-width="2.8"/>
<line x1="1115.6" y1="2196.4" x2="1115.6" y2="2218.9" stroke="#000" stroke-width="2.3"/><line x1="1111.6" y1="2196.4" x2="1119.6" y2="2196.4" stroke="#000" stroke-width="2.3"/><line x1="1111.6" y1="2218.9" x2="1119.6" y2="2218.9" stroke="#000" stroke-width="2.3"/>
<circle cx="765.03" cy="2412.65" r="4.3" fill="#000"/>
<circle cx="964.69" cy="2396.05" r="4.3" fill="#000"/>
<circle cx="1014.88" cy="2386.08" r="4.3" fill="#000"/>
<circle cx="1065.44" cy="2370.58" r="4.3" fill="#000"/>
<circle cx="1115.63" cy="2207.83" r="4.3" fill="#000"/>
<line x1="1307" y1="2151.35" x2="1307" y2="2418.05" stroke="#000" stroke-width="2.9"/>
<line x1="1296.5" y1="2416.6" x2="1705.25" y2="2416.6" stroke="#000" stroke-width="2.9"/>
<line x1="1296.5" y1="2152.8" x2="1307" y2="2152.8" stroke="#000" stroke-width="2.9"/>
<text x="1265.3" y="2168.3" font-size="30.2" text-anchor="end">2×10</text>
<text x="1268.2" y="2159.8" font-size="30.2">5</text>
<line x1="1296.5" y1="2218.9" x2="1307" y2="2218.9" stroke="#000" stroke-width="2.9"/>
<text x="1265.3" y="2234.4" font-size="30.2" text-anchor="end">1.5×10</text>
<text x="1268.2" y="2225.9" font-size="30.2">5</text>
<line x1="1296.5" y1="2284.9" x2="1307" y2="2284.9" stroke="#000" stroke-width="2.9"/>
<text x="1265.3" y="2300.4" font-size="30.2" text-anchor="end">1×10</text>
<text x="1268.2" y="2291.9" font-size="30.2">5</text>
<line x1="1296.5" y1="2350.5" x2="1307" y2="2350.5" stroke="#000" stroke-width="2.9"/>
<text x="1265.3" y="2366" font-size="30.2" text-anchor="end">0.5×10</text>
<text x="1268.2" y="2357.5" font-size="30.2">5</text>
<text x="1290.5" y="2431.2" font-size="30.2" text-anchor="end">0</text>
<line x1="1307" y1="2416.6" x2="1307" y2="2427.1" stroke="#000" stroke-width="2.9"/>
<text x="1309.5" y="2455.6" font-size="30.2" text-anchor="middle">0</text>
<line x1="1406.3" y1="2416.6" x2="1406.3" y2="2427.1" stroke="#000" stroke-width="2.9"/>
<text x="1408.8" y="2455.6" font-size="30.2" text-anchor="middle">2</text>
<line x1="1504.7" y1="2416.6" x2="1504.7" y2="2427.1" stroke="#000" stroke-width="2.9"/>
<text x="1507.2" y="2455.6" font-size="30.2" text-anchor="middle">4</text>
<line x1="1603.6" y1="2416.6" x2="1603.6" y2="2427.1" stroke="#000" stroke-width="2.9"/>
<text x="1606.1" y="2455.6" font-size="30.2" text-anchor="middle">6</text>
<line x1="1702.4" y1="2416.6" x2="1702.4" y2="2427.1" stroke="#000" stroke-width="2.9"/>
<text x="1699.4" y="2455.6" font-size="30.2" text-anchor="middle">8</text>
<text x="1519" y="2482.6" font-size="30.6" text-anchor="middle">Days</text>
<path d="M1306.95 2403.12 L1504.69 2392.34 L1554.12 2394.58 L1603.56 2391.44 L1652.99 2392.78" fill="none" stroke="#ff0000" stroke-width="2.8"/>
<rect x="1301.55" y="2397.72" width="10.8" height="10.8" fill="#000"/>
<rect x="1499.29" y="2386.94" width="10.8" height="10.8" fill="#000"/>
<rect x="1548.72" y="2389.18" width="10.8" height="10.8" fill="#000"/>
<rect x="1598.16" y="2386.04" width="10.8" height="10.8" fill="#000"/>
<rect x="1647.59" y="2387.38" width="10.8" height="10.8" fill="#000"/>
<path d="M1306.95 2403.12 L1504.69 2359.53 L1554.12 2330.77 L1603.56 2280.44 L1652.99 2229.2" fill="none" stroke="#000" stroke-width="2.8"/>
<line x1="1504.7" y1="2342" x2="1504.7" y2="2376.6" stroke="#000" stroke-width="2.3"/><line x1="1499.3" y1="2342" x2="1510.1" y2="2342" stroke="#000" stroke-width="2.3"/><line x1="1499.3" y1="2376.6" x2="1510.1" y2="2376.6" stroke="#000" stroke-width="2.3"/>
<line x1="1554.1" y1="2315.5" x2="1554.1" y2="2346.5" stroke="#000" stroke-width="2.3"/><line x1="1548.7" y1="2315.5" x2="1559.5" y2="2315.5" stroke="#000" stroke-width="2.3"/><line x1="1548.7" y1="2346.5" x2="1559.5" y2="2346.5" stroke="#000" stroke-width="2.3"/>
<line x1="1603.6" y1="2249" x2="1603.6" y2="2312.8" stroke="#000" stroke-width="2.3"/><line x1="1598.2" y1="2249" x2="1609" y2="2249" stroke="#000" stroke-width="2.3"/><line x1="1598.2" y1="2312.8" x2="1609" y2="2312.8" stroke="#000" stroke-width="2.3"/>
<line x1="1653" y1="2180.7" x2="1653" y2="2278.2" stroke="#000" stroke-width="2.3"/><line x1="1647.6" y1="2180.7" x2="1658.4" y2="2180.7" stroke="#000" stroke-width="2.3"/><line x1="1647.6" y1="2278.2" x2="1658.4" y2="2278.2" stroke="#000" stroke-width="2.3"/>
<circle cx="1306.95" cy="2403.12" r="5.8" fill="#000"/>
<circle cx="1504.69" cy="2359.53" r="5.8" fill="#000"/>
<circle cx="1554.12" cy="2330.77" r="5.8" fill="#000"/>
<circle cx="1603.56" cy="2280.44" r="5.8" fill="#000"/>
<circle cx="1652.99" cy="2229.2" r="5.8" fill="#000"/>
<text x="1506.5" y="2335.5" font-size="26.2" text-anchor="middle">ns</text>
<text x="1553.95" y="2310" font-size="36" text-anchor="middle" font-weight="bold" letter-spacing="1.5">*</text>
<text x="1602.95" y="2254" font-size="36" text-anchor="middle" font-weight="bold" letter-spacing="1.5">**</text>
<text x="1651.95" y="2186" font-size="36" text-anchor="middle" font-weight="bold" letter-spacing="1.5">***</text>
<line x1="1717.2" y1="2269.2" x2="1752.3" y2="2269.2" stroke="#000" stroke-width="2.5"/>
<circle cx="1734.3" cy="2269.2" r="5.8" fill="#000"/>
<text x="1761.5" y="2280.4" font-size="31">DMSO</text>
<line x1="1717.2" y1="2321.3" x2="1752.3" y2="2321.3" stroke="#ff0000" stroke-width="2.5"/>
<rect x="1728.9" y="2315.9" width="10.8" height="10.8" fill="#000"/>
<text x="1762.4" y="2332.1" font-size="31">PhenDC3</text></g>
</svg></body></html>
